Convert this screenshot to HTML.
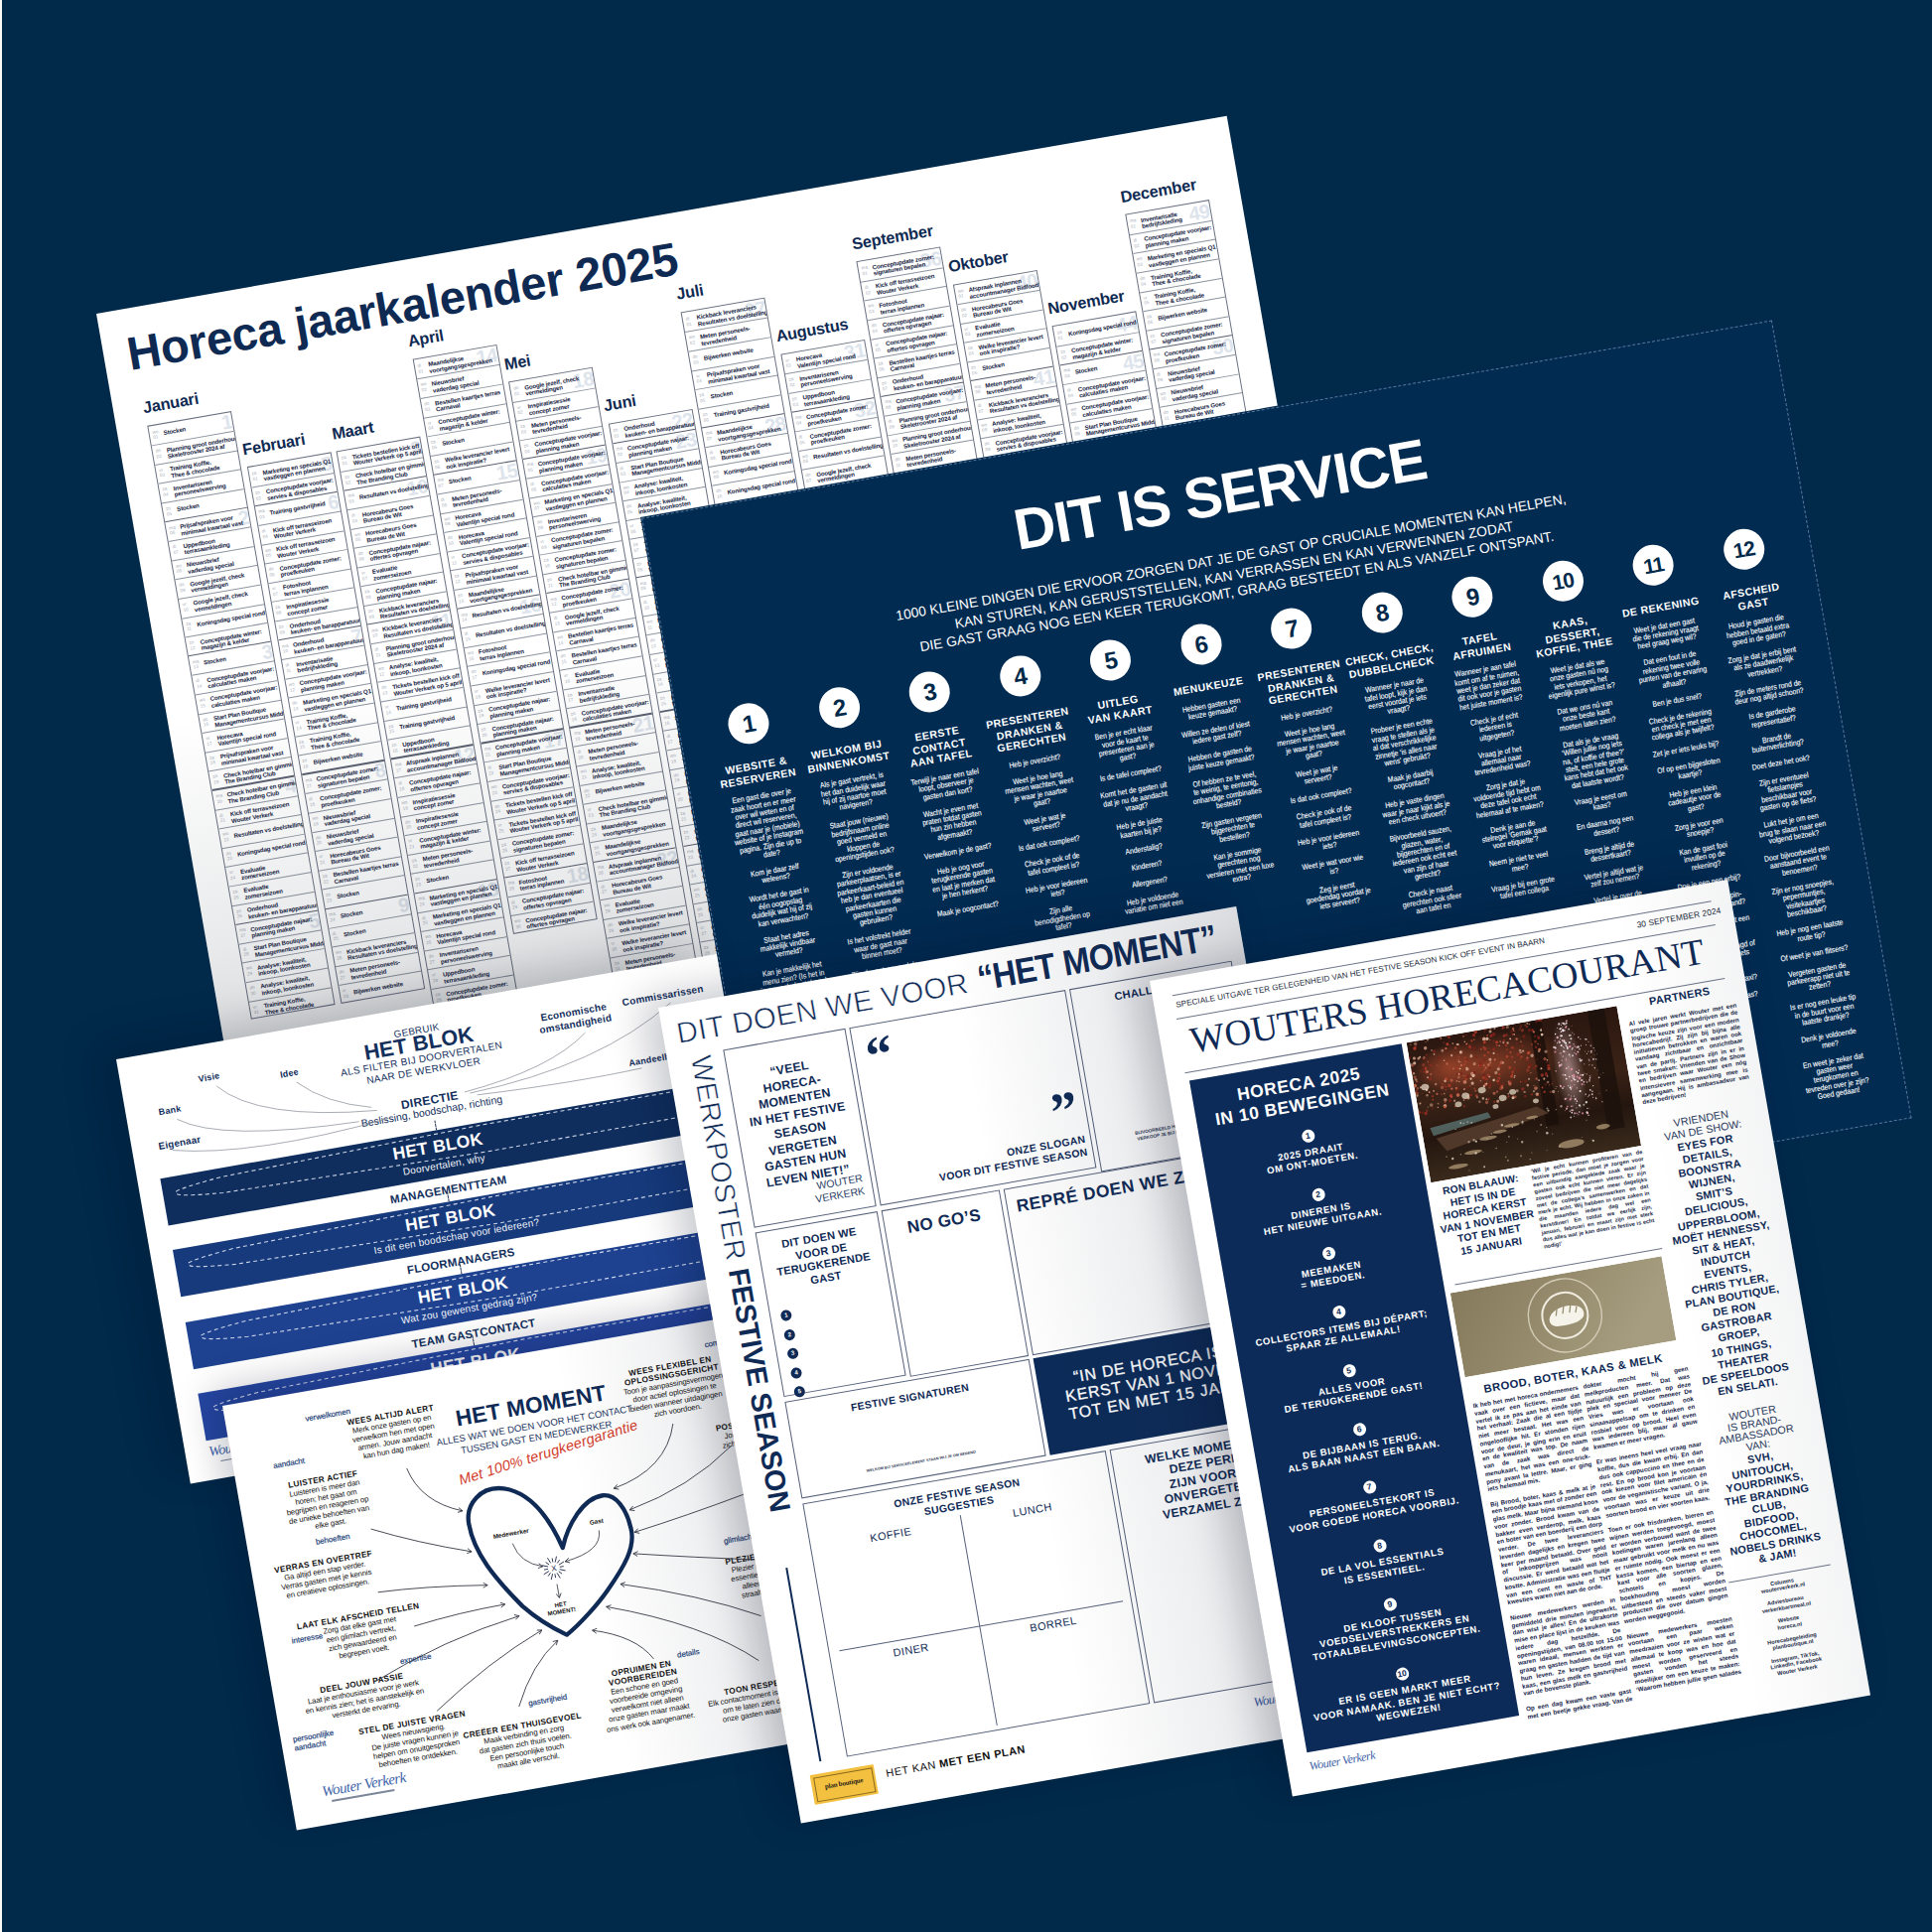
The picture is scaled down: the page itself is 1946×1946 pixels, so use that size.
<!DOCTYPE html>
<html><head><meta charset="utf-8"><style>
html,body{margin:0;padding:0}
body{width:1946px;height:1946px;background:#00294a;position:relative;overflow:hidden;font-family:"Liberation Sans",sans-serif}
.p{position:absolute;transform-origin:0 0;transform:rotate(-9.93deg);overflow:hidden}
</style></head><body>
<div style="position:absolute;left:0;top:0;width:2px;height:1946px;background:#fbfaf6"></div>
<div class="p" id="cal" style="left:96.7px;top:315.9px;width:1156px;height:760px;background:#fff;"><div style="position:absolute;left:24px;top:18px;font-size:47px;font-weight:700;color:#0f2a52;white-space:nowrap;letter-spacing:-0.2px;">Horeca jaarkalender 2025</div><div style="position:absolute;left:30.0px;top:92.0px;font-size:16.3px;font-weight:700;color:#0f2a52;white-space:nowrap;letter-spacing:-0.2px;">Januari</div><div style="position:absolute;left:31.0px;top:119.5px;width:86px;height:607.6px;border:0.8px solid #6a7080;box-sizing:border-box;overflow:hidden"><div style="position:absolute;left:58px;top:-0.5px;font-size:20px;font-weight:700;color:#dde4ec;width:26px;text-align:right;line-height:1;letter-spacing:-0.5px;">1</div><div style="position:absolute;left:3px;top:4.0px;font-size:4.6px;color:#a9b0bb;line-height:1.25;white-space:nowrap;">wo<br>01</div><div style="position:absolute;left:14px;top:6.5px;font-size:6.1px;font-weight:700;color:#14223f;line-height:1.08;white-space:nowrap;letter-spacing:-0.15px;">Stocken</div><div style="position:absolute;left:0px;top:19.6px;width:86px;height:0.8px;background:#8d94a0"></div><div style="position:absolute;left:3px;top:23.6px;font-size:4.6px;color:#a9b0bb;line-height:1.25;white-space:nowrap;">do<br>02</div><div style="position:absolute;left:14px;top:24.1px;font-size:6.1px;font-weight:700;color:#14223f;line-height:1.08;white-space:nowrap;letter-spacing:-0.15px;">Planning groot onderhoud<br>Skeletrooster 2024 af</div><div style="position:absolute;left:0px;top:39.2px;width:86px;height:0.8px;background:#8d94a0"></div><div style="position:absolute;left:3px;top:43.2px;font-size:4.6px;color:#a9b0bb;line-height:1.25;white-space:nowrap;">vr<br>03</div><div style="position:absolute;left:14px;top:43.7px;font-size:6.1px;font-weight:700;color:#14223f;line-height:1.08;white-space:nowrap;letter-spacing:-0.15px;">Training Koffie,<br>Thee &amp; chocolade</div><div style="position:absolute;left:0px;top:58.800000000000004px;width:86px;height:0.8px;background:#8d94a0"></div><div style="position:absolute;left:3px;top:62.800000000000004px;font-size:4.6px;color:#a9b0bb;line-height:1.25;white-space:nowrap;">za<br>04</div><div style="position:absolute;left:14px;top:63.300000000000004px;font-size:6.1px;font-weight:700;color:#14223f;line-height:1.08;white-space:nowrap;letter-spacing:-0.15px;">Inventariseren<br>personeelswerving</div><div style="position:absolute;left:0px;top:78.4px;width:86px;height:0.8px;background:#8d94a0"></div><div style="position:absolute;left:3px;top:82.4px;font-size:4.6px;color:#a9b0bb;line-height:1.25;white-space:nowrap;">zo<br>05</div><div style="position:absolute;left:14px;top:84.9px;font-size:6.1px;font-weight:700;color:#14223f;line-height:1.08;white-space:nowrap;letter-spacing:-0.15px;">Stocken</div><div style="position:absolute;left:0px;top:97.5px;width:86px;height:1.3px;background:#5a6070"></div><div style="position:absolute;left:58px;top:97.5px;font-size:20px;font-weight:700;color:#dde4ec;width:26px;text-align:right;line-height:1;letter-spacing:-0.5px;">2</div><div style="position:absolute;left:3px;top:102.0px;font-size:4.6px;color:#a9b0bb;line-height:1.25;white-space:nowrap;">ma<br>06</div><div style="position:absolute;left:14px;top:102.5px;font-size:6.1px;font-weight:700;color:#14223f;line-height:1.08;white-space:nowrap;letter-spacing:-0.15px;">Prijsafspraken voor<br>minimaal kwartaal vast</div><div style="position:absolute;left:0px;top:117.60000000000001px;width:86px;height:0.8px;background:#8d94a0"></div><div style="position:absolute;left:3px;top:121.60000000000001px;font-size:4.6px;color:#a9b0bb;line-height:1.25;white-space:nowrap;">di<br>07</div><div style="position:absolute;left:14px;top:122.10000000000001px;font-size:6.1px;font-weight:700;color:#14223f;line-height:1.08;white-space:nowrap;letter-spacing:-0.15px;">Uppedboon<br>terrasaankleding</div><div style="position:absolute;left:0px;top:137.20000000000002px;width:86px;height:0.8px;background:#8d94a0"></div><div style="position:absolute;left:3px;top:141.20000000000002px;font-size:4.6px;color:#a9b0bb;line-height:1.25;white-space:nowrap;">wo<br>08</div><div style="position:absolute;left:14px;top:141.70000000000002px;font-size:6.1px;font-weight:700;color:#14223f;line-height:1.08;white-space:nowrap;letter-spacing:-0.15px;">Nieuwsbrief<br>vaderdag special</div><div style="position:absolute;left:0px;top:156.8px;width:86px;height:0.8px;background:#8d94a0"></div><div style="position:absolute;left:3px;top:160.8px;font-size:4.6px;color:#a9b0bb;line-height:1.25;white-space:nowrap;">do<br>09</div><div style="position:absolute;left:14px;top:161.3px;font-size:6.1px;font-weight:700;color:#14223f;line-height:1.08;white-space:nowrap;letter-spacing:-0.15px;">Google jezelf, check<br>vermeldingen</div><div style="position:absolute;left:0px;top:176.4px;width:86px;height:0.8px;background:#8d94a0"></div><div style="position:absolute;left:3px;top:180.4px;font-size:4.6px;color:#a9b0bb;line-height:1.25;white-space:nowrap;">vr<br>10</div><div style="position:absolute;left:14px;top:180.9px;font-size:6.1px;font-weight:700;color:#14223f;line-height:1.08;white-space:nowrap;letter-spacing:-0.15px;">Google jezelf, check<br>vermeldingen</div><div style="position:absolute;left:0px;top:196.0px;width:86px;height:0.8px;background:#8d94a0"></div><div style="position:absolute;left:3px;top:200.0px;font-size:4.6px;color:#a9b0bb;line-height:1.25;white-space:nowrap;">za<br>11</div><div style="position:absolute;left:14px;top:202.5px;font-size:6.1px;font-weight:700;color:#14223f;line-height:1.08;white-space:nowrap;letter-spacing:-0.15px;">Koningsdag special rond</div><div style="position:absolute;left:0px;top:215.60000000000002px;width:86px;height:0.8px;background:#8d94a0"></div><div style="position:absolute;left:3px;top:219.60000000000002px;font-size:4.6px;color:#a9b0bb;line-height:1.25;white-space:nowrap;">zo<br>12</div><div style="position:absolute;left:14px;top:220.10000000000002px;font-size:6.1px;font-weight:700;color:#14223f;line-height:1.08;white-space:nowrap;letter-spacing:-0.15px;">Conceptupdate winter:<br>magazijn &amp; kelder</div><div style="position:absolute;left:0px;top:234.70000000000002px;width:86px;height:1.3px;background:#5a6070"></div><div style="position:absolute;left:58px;top:234.70000000000002px;font-size:20px;font-weight:700;color:#dde4ec;width:26px;text-align:right;line-height:1;letter-spacing:-0.5px;">3</div><div style="position:absolute;left:3px;top:239.20000000000002px;font-size:4.6px;color:#a9b0bb;line-height:1.25;white-space:nowrap;">ma<br>13</div><div style="position:absolute;left:14px;top:241.70000000000002px;font-size:6.1px;font-weight:700;color:#14223f;line-height:1.08;white-space:nowrap;letter-spacing:-0.15px;">Stocken</div><div style="position:absolute;left:0px;top:254.8px;width:86px;height:0.8px;background:#8d94a0"></div><div style="position:absolute;left:3px;top:258.8px;font-size:4.6px;color:#a9b0bb;line-height:1.25;white-space:nowrap;">di<br>14</div><div style="position:absolute;left:14px;top:259.3px;font-size:6.1px;font-weight:700;color:#14223f;line-height:1.08;white-space:nowrap;letter-spacing:-0.15px;">Conceptupdate voorjaar:<br>calculaties maken</div><div style="position:absolute;left:0px;top:274.40000000000003px;width:86px;height:0.8px;background:#8d94a0"></div><div style="position:absolute;left:3px;top:278.40000000000003px;font-size:4.6px;color:#a9b0bb;line-height:1.25;white-space:nowrap;">wo<br>15</div><div style="position:absolute;left:14px;top:278.90000000000003px;font-size:6.1px;font-weight:700;color:#14223f;line-height:1.08;white-space:nowrap;letter-spacing:-0.15px;">Conceptupdate voorjaar:<br>calculaties maken</div><div style="position:absolute;left:0px;top:294.0px;width:86px;height:0.8px;background:#8d94a0"></div><div style="position:absolute;left:3px;top:298.0px;font-size:4.6px;color:#a9b0bb;line-height:1.25;white-space:nowrap;">do<br>16</div><div style="position:absolute;left:14px;top:298.5px;font-size:6.1px;font-weight:700;color:#14223f;line-height:1.08;white-space:nowrap;letter-spacing:-0.15px;">Start Plan Boutique<br>Managementcursus Midden</div><div style="position:absolute;left:0px;top:313.6px;width:86px;height:0.8px;background:#8d94a0"></div><div style="position:absolute;left:3px;top:317.6px;font-size:4.6px;color:#a9b0bb;line-height:1.25;white-space:nowrap;">vr<br>17</div><div style="position:absolute;left:14px;top:318.1px;font-size:6.1px;font-weight:700;color:#14223f;line-height:1.08;white-space:nowrap;letter-spacing:-0.15px;">Horecava<br>Valentijn special rond</div><div style="position:absolute;left:0px;top:333.20000000000005px;width:86px;height:0.8px;background:#8d94a0"></div><div style="position:absolute;left:3px;top:337.20000000000005px;font-size:4.6px;color:#a9b0bb;line-height:1.25;white-space:nowrap;">za<br>18</div><div style="position:absolute;left:14px;top:337.70000000000005px;font-size:6.1px;font-weight:700;color:#14223f;line-height:1.08;white-space:nowrap;letter-spacing:-0.15px;">Prijsafspraken voor<br>minimaal kwartaal vast</div><div style="position:absolute;left:0px;top:352.8px;width:86px;height:0.8px;background:#8d94a0"></div><div style="position:absolute;left:3px;top:356.8px;font-size:4.6px;color:#a9b0bb;line-height:1.25;white-space:nowrap;">zo<br>19</div><div style="position:absolute;left:14px;top:357.3px;font-size:6.1px;font-weight:700;color:#14223f;line-height:1.08;white-space:nowrap;letter-spacing:-0.15px;">Check hotelbar en gimmicks<br>The Branding Club</div><div style="position:absolute;left:0px;top:371.90000000000003px;width:86px;height:1.3px;background:#5a6070"></div><div style="position:absolute;left:58px;top:371.90000000000003px;font-size:20px;font-weight:700;color:#dde4ec;width:26px;text-align:right;line-height:1;letter-spacing:-0.5px;">4</div><div style="position:absolute;left:3px;top:376.40000000000003px;font-size:4.6px;color:#a9b0bb;line-height:1.25;white-space:nowrap;">ma<br>20</div><div style="position:absolute;left:14px;top:376.90000000000003px;font-size:6.1px;font-weight:700;color:#14223f;line-height:1.08;white-space:nowrap;letter-spacing:-0.15px;">Check hotelbar en gimmicks<br>The Branding Club</div><div style="position:absolute;left:0px;top:392.0px;width:86px;height:0.8px;background:#8d94a0"></div><div style="position:absolute;left:3px;top:396.0px;font-size:4.6px;color:#a9b0bb;line-height:1.25;white-space:nowrap;">di<br>21</div><div style="position:absolute;left:14px;top:396.5px;font-size:6.1px;font-weight:700;color:#14223f;line-height:1.08;white-space:nowrap;letter-spacing:-0.15px;">Kick off terrasseizoen<br>Wouter Verkerk</div><div style="position:absolute;left:0px;top:411.6px;width:86px;height:0.8px;background:#8d94a0"></div><div style="position:absolute;left:3px;top:415.6px;font-size:4.6px;color:#a9b0bb;line-height:1.25;white-space:nowrap;">wo<br>22</div><div style="position:absolute;left:14px;top:418.1px;font-size:6.1px;font-weight:700;color:#14223f;line-height:1.08;white-space:nowrap;letter-spacing:-0.15px;">Resultaten vs doelstellingen</div><div style="position:absolute;left:0px;top:431.20000000000005px;width:86px;height:0.8px;background:#8d94a0"></div><div style="position:absolute;left:3px;top:435.20000000000005px;font-size:4.6px;color:#a9b0bb;line-height:1.25;white-space:nowrap;">do<br>23</div><div style="position:absolute;left:14px;top:437.70000000000005px;font-size:6.1px;font-weight:700;color:#14223f;line-height:1.08;white-space:nowrap;letter-spacing:-0.15px;">Koningsdag special rond</div><div style="position:absolute;left:0px;top:450.8px;width:86px;height:0.8px;background:#8d94a0"></div><div style="position:absolute;left:3px;top:454.8px;font-size:4.6px;color:#a9b0bb;line-height:1.25;white-space:nowrap;">vr<br>24</div><div style="position:absolute;left:14px;top:455.3px;font-size:6.1px;font-weight:700;color:#14223f;line-height:1.08;white-space:nowrap;letter-spacing:-0.15px;">Evaluatie<br>zomerseizoen</div><div style="position:absolute;left:0px;top:470.40000000000003px;width:86px;height:0.8px;background:#8d94a0"></div><div style="position:absolute;left:3px;top:474.40000000000003px;font-size:4.6px;color:#a9b0bb;line-height:1.25;white-space:nowrap;">za<br>25</div><div style="position:absolute;left:14px;top:474.90000000000003px;font-size:6.1px;font-weight:700;color:#14223f;line-height:1.08;white-space:nowrap;letter-spacing:-0.15px;">Evaluatie<br>zomerseizoen</div><div style="position:absolute;left:0px;top:490.00000000000006px;width:86px;height:0.8px;background:#8d94a0"></div><div style="position:absolute;left:3px;top:494.00000000000006px;font-size:4.6px;color:#a9b0bb;line-height:1.25;white-space:nowrap;">zo<br>26</div><div style="position:absolute;left:14px;top:494.50000000000006px;font-size:6.1px;font-weight:700;color:#14223f;line-height:1.08;white-space:nowrap;letter-spacing:-0.15px;">Onderhoud<br>keuken- en barapparatuur</div><div style="position:absolute;left:0px;top:509.1px;width:86px;height:1.3px;background:#5a6070"></div><div style="position:absolute;left:58px;top:509.1px;font-size:20px;font-weight:700;color:#dde4ec;width:26px;text-align:right;line-height:1;letter-spacing:-0.5px;">5</div><div style="position:absolute;left:3px;top:513.6px;font-size:4.6px;color:#a9b0bb;line-height:1.25;white-space:nowrap;">ma<br>27</div><div style="position:absolute;left:14px;top:514.1px;font-size:6.1px;font-weight:700;color:#14223f;line-height:1.08;white-space:nowrap;letter-spacing:-0.15px;">Conceptupdate najaar:<br>planning maken</div><div style="position:absolute;left:0px;top:529.2px;width:86px;height:0.8px;background:#8d94a0"></div><div style="position:absolute;left:3px;top:533.2px;font-size:4.6px;color:#a9b0bb;line-height:1.25;white-space:nowrap;">di<br>28</div><div style="position:absolute;left:14px;top:533.7px;font-size:6.1px;font-weight:700;color:#14223f;line-height:1.08;white-space:nowrap;letter-spacing:-0.15px;">Start Plan Boutique<br>Managementcursus Midden</div><div style="position:absolute;left:0px;top:548.8000000000001px;width:86px;height:0.8px;background:#8d94a0"></div><div style="position:absolute;left:3px;top:552.8000000000001px;font-size:4.6px;color:#a9b0bb;line-height:1.25;white-space:nowrap;">wo<br>29</div><div style="position:absolute;left:14px;top:553.3000000000001px;font-size:6.1px;font-weight:700;color:#14223f;line-height:1.08;white-space:nowrap;letter-spacing:-0.15px;">Analyse: kwaliteit,<br>inkoop, loonkosten</div><div style="position:absolute;left:0px;top:568.4000000000001px;width:86px;height:0.8px;background:#8d94a0"></div><div style="position:absolute;left:3px;top:572.4000000000001px;font-size:4.6px;color:#a9b0bb;line-height:1.25;white-space:nowrap;">do<br>30</div><div style="position:absolute;left:14px;top:572.9000000000001px;font-size:6.1px;font-weight:700;color:#14223f;line-height:1.08;white-space:nowrap;letter-spacing:-0.15px;">Analyse: kwaliteit,<br>inkoop, loonkosten</div><div style="position:absolute;left:0px;top:588.0px;width:86px;height:0.8px;background:#8d94a0"></div><div style="position:absolute;left:3px;top:592.0px;font-size:4.6px;color:#a9b0bb;line-height:1.25;white-space:nowrap;">vr<br>31</div><div style="position:absolute;left:14px;top:592.5px;font-size:6.1px;font-weight:700;color:#14223f;line-height:1.08;white-space:nowrap;letter-spacing:-0.15px;">Training Koffie,<br>Thee &amp; chocolade</div></div><div style="position:absolute;left:121.5px;top:150.8px;font-size:16.3px;font-weight:700;color:#0f2a52;white-space:nowrap;letter-spacing:-0.2px;">Februari</div><div style="position:absolute;left:122.5px;top:178.3px;width:86px;height:548.8000000000001px;border:0.8px solid #6a7080;box-sizing:border-box;overflow:hidden"><div style="position:absolute;left:58px;top:-0.5px;font-size:20px;font-weight:700;color:#dde4ec;width:26px;text-align:right;line-height:1;letter-spacing:-0.5px;">5</div><div style="position:absolute;left:3px;top:4.0px;font-size:4.6px;color:#a9b0bb;line-height:1.25;white-space:nowrap;">za<br>01</div><div style="position:absolute;left:14px;top:4.5px;font-size:6.1px;font-weight:700;color:#14223f;line-height:1.08;white-space:nowrap;letter-spacing:-0.15px;">Marketing en specials Q1<br>vastleggen en plannen</div><div style="position:absolute;left:0px;top:19.6px;width:86px;height:0.8px;background:#8d94a0"></div><div style="position:absolute;left:3px;top:23.6px;font-size:4.6px;color:#a9b0bb;line-height:1.25;white-space:nowrap;">zo<br>02</div><div style="position:absolute;left:14px;top:24.1px;font-size:6.1px;font-weight:700;color:#14223f;line-height:1.08;white-space:nowrap;letter-spacing:-0.15px;">Conceptupdate voorjaar:<br>servies &amp; disposables</div><div style="position:absolute;left:0px;top:38.7px;width:86px;height:1.3px;background:#5a6070"></div><div style="position:absolute;left:58px;top:38.7px;font-size:20px;font-weight:700;color:#dde4ec;width:26px;text-align:right;line-height:1;letter-spacing:-0.5px;">6</div><div style="position:absolute;left:3px;top:43.2px;font-size:4.6px;color:#a9b0bb;line-height:1.25;white-space:nowrap;">ma<br>03</div><div style="position:absolute;left:14px;top:45.7px;font-size:6.1px;font-weight:700;color:#14223f;line-height:1.08;white-space:nowrap;letter-spacing:-0.15px;">Training gastvrijheid</div><div style="position:absolute;left:0px;top:58.800000000000004px;width:86px;height:0.8px;background:#8d94a0"></div><div style="position:absolute;left:3px;top:62.800000000000004px;font-size:4.6px;color:#a9b0bb;line-height:1.25;white-space:nowrap;">di<br>04</div><div style="position:absolute;left:14px;top:63.300000000000004px;font-size:6.1px;font-weight:700;color:#14223f;line-height:1.08;white-space:nowrap;letter-spacing:-0.15px;">Kick off terrasseizoen<br>Wouter Verkerk</div><div style="position:absolute;left:0px;top:78.4px;width:86px;height:0.8px;background:#8d94a0"></div><div style="position:absolute;left:3px;top:82.4px;font-size:4.6px;color:#a9b0bb;line-height:1.25;white-space:nowrap;">wo<br>05</div><div style="position:absolute;left:14px;top:82.9px;font-size:6.1px;font-weight:700;color:#14223f;line-height:1.08;white-space:nowrap;letter-spacing:-0.15px;">Kick off terrasseizoen<br>Wouter Verkerk</div><div style="position:absolute;left:0px;top:98.0px;width:86px;height:0.8px;background:#8d94a0"></div><div style="position:absolute;left:3px;top:102.0px;font-size:4.6px;color:#a9b0bb;line-height:1.25;white-space:nowrap;">do<br>06</div><div style="position:absolute;left:14px;top:102.5px;font-size:6.1px;font-weight:700;color:#14223f;line-height:1.08;white-space:nowrap;letter-spacing:-0.15px;">Conceptupdate zomer:<br>proefkeuken</div><div style="position:absolute;left:0px;top:117.60000000000001px;width:86px;height:0.8px;background:#8d94a0"></div><div style="position:absolute;left:3px;top:121.60000000000001px;font-size:4.6px;color:#a9b0bb;line-height:1.25;white-space:nowrap;">vr<br>07</div><div style="position:absolute;left:14px;top:122.10000000000001px;font-size:6.1px;font-weight:700;color:#14223f;line-height:1.08;white-space:nowrap;letter-spacing:-0.15px;">Fotoshoot<br>terras inplannen</div><div style="position:absolute;left:0px;top:137.20000000000002px;width:86px;height:0.8px;background:#8d94a0"></div><div style="position:absolute;left:3px;top:141.20000000000002px;font-size:4.6px;color:#a9b0bb;line-height:1.25;white-space:nowrap;">za<br>08</div><div style="position:absolute;left:14px;top:141.70000000000002px;font-size:6.1px;font-weight:700;color:#14223f;line-height:1.08;white-space:nowrap;letter-spacing:-0.15px;">Inspiratiesessie<br>concept zomer</div><div style="position:absolute;left:0px;top:156.8px;width:86px;height:0.8px;background:#8d94a0"></div><div style="position:absolute;left:3px;top:160.8px;font-size:4.6px;color:#a9b0bb;line-height:1.25;white-space:nowrap;">zo<br>09</div><div style="position:absolute;left:14px;top:161.3px;font-size:6.1px;font-weight:700;color:#14223f;line-height:1.08;white-space:nowrap;letter-spacing:-0.15px;">Onderhoud<br>keuken- en barapparatuur</div><div style="position:absolute;left:0px;top:175.9px;width:86px;height:1.3px;background:#5a6070"></div><div style="position:absolute;left:58px;top:175.9px;font-size:20px;font-weight:700;color:#dde4ec;width:26px;text-align:right;line-height:1;letter-spacing:-0.5px;">7</div><div style="position:absolute;left:3px;top:180.4px;font-size:4.6px;color:#a9b0bb;line-height:1.25;white-space:nowrap;">ma<br>10</div><div style="position:absolute;left:14px;top:180.9px;font-size:6.1px;font-weight:700;color:#14223f;line-height:1.08;white-space:nowrap;letter-spacing:-0.15px;">Onderhoud<br>keuken- en barapparatuur</div><div style="position:absolute;left:0px;top:196.0px;width:86px;height:0.8px;background:#8d94a0"></div><div style="position:absolute;left:3px;top:200.0px;font-size:4.6px;color:#a9b0bb;line-height:1.25;white-space:nowrap;">di<br>11</div><div style="position:absolute;left:14px;top:200.5px;font-size:6.1px;font-weight:700;color:#14223f;line-height:1.08;white-space:nowrap;letter-spacing:-0.15px;">Inventarisatie<br>bedrijfskleding</div><div style="position:absolute;left:0px;top:215.60000000000002px;width:86px;height:0.8px;background:#8d94a0"></div><div style="position:absolute;left:3px;top:219.60000000000002px;font-size:4.6px;color:#a9b0bb;line-height:1.25;white-space:nowrap;">wo<br>12</div><div style="position:absolute;left:14px;top:220.10000000000002px;font-size:6.1px;font-weight:700;color:#14223f;line-height:1.08;white-space:nowrap;letter-spacing:-0.15px;">Conceptupdate voorjaar:<br>planning maken</div><div style="position:absolute;left:0px;top:235.20000000000002px;width:86px;height:0.8px;background:#8d94a0"></div><div style="position:absolute;left:3px;top:239.20000000000002px;font-size:4.6px;color:#a9b0bb;line-height:1.25;white-space:nowrap;">do<br>13</div><div style="position:absolute;left:14px;top:239.70000000000002px;font-size:6.1px;font-weight:700;color:#14223f;line-height:1.08;white-space:nowrap;letter-spacing:-0.15px;">Marketing en specials Q1<br>vastleggen en plannen</div><div style="position:absolute;left:0px;top:254.8px;width:86px;height:0.8px;background:#8d94a0"></div><div style="position:absolute;left:3px;top:258.8px;font-size:4.6px;color:#a9b0bb;line-height:1.25;white-space:nowrap;">vr<br>14</div><div style="position:absolute;left:14px;top:259.3px;font-size:6.1px;font-weight:700;color:#14223f;line-height:1.08;white-space:nowrap;letter-spacing:-0.15px;">Training Koffie,<br>Thee &amp; chocolade</div><div style="position:absolute;left:0px;top:274.40000000000003px;width:86px;height:0.8px;background:#8d94a0"></div><div style="position:absolute;left:3px;top:278.40000000000003px;font-size:4.6px;color:#a9b0bb;line-height:1.25;white-space:nowrap;">za<br>15</div><div style="position:absolute;left:14px;top:278.90000000000003px;font-size:6.1px;font-weight:700;color:#14223f;line-height:1.08;white-space:nowrap;letter-spacing:-0.15px;">Training Koffie,<br>Thee &amp; chocolade</div><div style="position:absolute;left:0px;top:294.0px;width:86px;height:0.8px;background:#8d94a0"></div><div style="position:absolute;left:3px;top:298.0px;font-size:4.6px;color:#a9b0bb;line-height:1.25;white-space:nowrap;">zo<br>16</div><div style="position:absolute;left:14px;top:300.5px;font-size:6.1px;font-weight:700;color:#14223f;line-height:1.08;white-space:nowrap;letter-spacing:-0.15px;">Bijwerken website</div><div style="position:absolute;left:0px;top:313.1px;width:86px;height:1.3px;background:#5a6070"></div><div style="position:absolute;left:58px;top:313.1px;font-size:20px;font-weight:700;color:#dde4ec;width:26px;text-align:right;line-height:1;letter-spacing:-0.5px;">8</div><div style="position:absolute;left:3px;top:317.6px;font-size:4.6px;color:#a9b0bb;line-height:1.25;white-space:nowrap;">ma<br>17</div><div style="position:absolute;left:14px;top:318.1px;font-size:6.1px;font-weight:700;color:#14223f;line-height:1.08;white-space:nowrap;letter-spacing:-0.15px;">Conceptupdate zomer:<br>signaturen bepalen</div><div style="position:absolute;left:0px;top:333.20000000000005px;width:86px;height:0.8px;background:#8d94a0"></div><div style="position:absolute;left:3px;top:337.20000000000005px;font-size:4.6px;color:#a9b0bb;line-height:1.25;white-space:nowrap;">di<br>18</div><div style="position:absolute;left:14px;top:337.70000000000005px;font-size:6.1px;font-weight:700;color:#14223f;line-height:1.08;white-space:nowrap;letter-spacing:-0.15px;">Conceptupdate zomer:<br>proefkeuken</div><div style="position:absolute;left:0px;top:352.8px;width:86px;height:0.8px;background:#8d94a0"></div><div style="position:absolute;left:3px;top:356.8px;font-size:4.6px;color:#a9b0bb;line-height:1.25;white-space:nowrap;">wo<br>19</div><div style="position:absolute;left:14px;top:357.3px;font-size:6.1px;font-weight:700;color:#14223f;line-height:1.08;white-space:nowrap;letter-spacing:-0.15px;">Nieuwsbrief<br>vaderdag special</div><div style="position:absolute;left:0px;top:372.40000000000003px;width:86px;height:0.8px;background:#8d94a0"></div><div style="position:absolute;left:3px;top:376.40000000000003px;font-size:4.6px;color:#a9b0bb;line-height:1.25;white-space:nowrap;">do<br>20</div><div style="position:absolute;left:14px;top:376.90000000000003px;font-size:6.1px;font-weight:700;color:#14223f;line-height:1.08;white-space:nowrap;letter-spacing:-0.15px;">Nieuwsbrief<br>vaderdag special</div><div style="position:absolute;left:0px;top:392.0px;width:86px;height:0.8px;background:#8d94a0"></div><div style="position:absolute;left:3px;top:396.0px;font-size:4.6px;color:#a9b0bb;line-height:1.25;white-space:nowrap;">vr<br>21</div><div style="position:absolute;left:14px;top:396.5px;font-size:6.1px;font-weight:700;color:#14223f;line-height:1.08;white-space:nowrap;letter-spacing:-0.15px;">Horecabeurs Goes<br>Bureau de Wit</div><div style="position:absolute;left:0px;top:411.6px;width:86px;height:0.8px;background:#8d94a0"></div><div style="position:absolute;left:3px;top:415.6px;font-size:4.6px;color:#a9b0bb;line-height:1.25;white-space:nowrap;">za<br>22</div><div style="position:absolute;left:14px;top:416.1px;font-size:6.1px;font-weight:700;color:#14223f;line-height:1.08;white-space:nowrap;letter-spacing:-0.15px;">Bestellen kaartjes terras<br>Carnaval</div><div style="position:absolute;left:0px;top:431.20000000000005px;width:86px;height:0.8px;background:#8d94a0"></div><div style="position:absolute;left:3px;top:435.20000000000005px;font-size:4.6px;color:#a9b0bb;line-height:1.25;white-space:nowrap;">zo<br>23</div><div style="position:absolute;left:14px;top:437.70000000000005px;font-size:6.1px;font-weight:700;color:#14223f;line-height:1.08;white-space:nowrap;letter-spacing:-0.15px;">Stocken</div><div style="position:absolute;left:0px;top:450.3px;width:86px;height:1.3px;background:#5a6070"></div><div style="position:absolute;left:58px;top:450.3px;font-size:20px;font-weight:700;color:#dde4ec;width:26px;text-align:right;line-height:1;letter-spacing:-0.5px;">9</div><div style="position:absolute;left:3px;top:454.8px;font-size:4.6px;color:#a9b0bb;line-height:1.25;white-space:nowrap;">ma<br>24</div><div style="position:absolute;left:14px;top:457.3px;font-size:6.1px;font-weight:700;color:#14223f;line-height:1.08;white-space:nowrap;letter-spacing:-0.15px;">Stocken</div><div style="position:absolute;left:0px;top:470.40000000000003px;width:86px;height:0.8px;background:#8d94a0"></div><div style="position:absolute;left:3px;top:474.40000000000003px;font-size:4.6px;color:#a9b0bb;line-height:1.25;white-space:nowrap;">di<br>25</div><div style="position:absolute;left:14px;top:476.90000000000003px;font-size:6.1px;font-weight:700;color:#14223f;line-height:1.08;white-space:nowrap;letter-spacing:-0.15px;">Stocken</div><div style="position:absolute;left:0px;top:490.00000000000006px;width:86px;height:0.8px;background:#8d94a0"></div><div style="position:absolute;left:3px;top:494.00000000000006px;font-size:4.6px;color:#a9b0bb;line-height:1.25;white-space:nowrap;">wo<br>26</div><div style="position:absolute;left:14px;top:494.50000000000006px;font-size:6.1px;font-weight:700;color:#14223f;line-height:1.08;white-space:nowrap;letter-spacing:-0.15px;">Kickback leveranciers<br>Resultaten vs doelstellingen</div><div style="position:absolute;left:0px;top:509.6px;width:86px;height:0.8px;background:#8d94a0"></div><div style="position:absolute;left:3px;top:513.6px;font-size:4.6px;color:#a9b0bb;line-height:1.25;white-space:nowrap;">do<br>27</div><div style="position:absolute;left:14px;top:514.1px;font-size:6.1px;font-weight:700;color:#14223f;line-height:1.08;white-space:nowrap;letter-spacing:-0.15px;">Meten personeels-<br>tevredenheid</div><div style="position:absolute;left:0px;top:529.2px;width:86px;height:0.8px;background:#8d94a0"></div><div style="position:absolute;left:3px;top:533.2px;font-size:4.6px;color:#a9b0bb;line-height:1.25;white-space:nowrap;">vr<br>28</div><div style="position:absolute;left:14px;top:535.7px;font-size:6.1px;font-weight:700;color:#14223f;line-height:1.08;white-space:nowrap;letter-spacing:-0.15px;">Bijwerken website</div></div><div style="position:absolute;left:213.0px;top:150.8px;font-size:16.3px;font-weight:700;color:#0f2a52;white-space:nowrap;letter-spacing:-0.2px;">Maart</div><div style="position:absolute;left:214.0px;top:178.3px;width:86px;height:607.6px;border:0.8px solid #6a7080;box-sizing:border-box;overflow:hidden"><div style="position:absolute;left:58px;top:-0.5px;font-size:20px;font-weight:700;color:#dde4ec;width:26px;text-align:right;line-height:1;letter-spacing:-0.5px;">9</div><div style="position:absolute;left:3px;top:4.0px;font-size:4.6px;color:#a9b0bb;line-height:1.25;white-space:nowrap;">za<br>01</div><div style="position:absolute;left:14px;top:4.5px;font-size:6.1px;font-weight:700;color:#14223f;line-height:1.08;white-space:nowrap;letter-spacing:-0.15px;">Tickets bestellen kick off<br>Wouter Verkerk op 5 april</div><div style="position:absolute;left:0px;top:19.6px;width:86px;height:0.8px;background:#8d94a0"></div><div style="position:absolute;left:3px;top:23.6px;font-size:4.6px;color:#a9b0bb;line-height:1.25;white-space:nowrap;">zo<br>02</div><div style="position:absolute;left:14px;top:24.1px;font-size:6.1px;font-weight:700;color:#14223f;line-height:1.08;white-space:nowrap;letter-spacing:-0.15px;">Check hotelbar en gimmicks<br>The Branding Club</div><div style="position:absolute;left:0px;top:38.7px;width:86px;height:1.3px;background:#5a6070"></div><div style="position:absolute;left:58px;top:38.7px;font-size:20px;font-weight:700;color:#dde4ec;width:26px;text-align:right;line-height:1;letter-spacing:-0.5px;">10</div><div style="position:absolute;left:3px;top:43.2px;font-size:4.6px;color:#a9b0bb;line-height:1.25;white-space:nowrap;">ma<br>03</div><div style="position:absolute;left:14px;top:45.7px;font-size:6.1px;font-weight:700;color:#14223f;line-height:1.08;white-space:nowrap;letter-spacing:-0.15px;">Resultaten vs doelstellingen</div><div style="position:absolute;left:0px;top:58.800000000000004px;width:86px;height:0.8px;background:#8d94a0"></div><div style="position:absolute;left:3px;top:62.800000000000004px;font-size:4.6px;color:#a9b0bb;line-height:1.25;white-space:nowrap;">di<br>04</div><div style="position:absolute;left:14px;top:63.300000000000004px;font-size:6.1px;font-weight:700;color:#14223f;line-height:1.08;white-space:nowrap;letter-spacing:-0.15px;">Horecabeurs Goes<br>Bureau de Wit</div><div style="position:absolute;left:0px;top:78.4px;width:86px;height:0.8px;background:#8d94a0"></div><div style="position:absolute;left:3px;top:82.4px;font-size:4.6px;color:#a9b0bb;line-height:1.25;white-space:nowrap;">wo<br>05</div><div style="position:absolute;left:14px;top:82.9px;font-size:6.1px;font-weight:700;color:#14223f;line-height:1.08;white-space:nowrap;letter-spacing:-0.15px;">Horecabeurs Goes<br>Bureau de Wit</div><div style="position:absolute;left:0px;top:98.0px;width:86px;height:0.8px;background:#8d94a0"></div><div style="position:absolute;left:3px;top:102.0px;font-size:4.6px;color:#a9b0bb;line-height:1.25;white-space:nowrap;">do<br>06</div><div style="position:absolute;left:14px;top:102.5px;font-size:6.1px;font-weight:700;color:#14223f;line-height:1.08;white-space:nowrap;letter-spacing:-0.15px;">Conceptupdate najaar:<br>offertes opvragen</div><div style="position:absolute;left:0px;top:117.60000000000001px;width:86px;height:0.8px;background:#8d94a0"></div><div style="position:absolute;left:3px;top:121.60000000000001px;font-size:4.6px;color:#a9b0bb;line-height:1.25;white-space:nowrap;">vr<br>07</div><div style="position:absolute;left:14px;top:122.10000000000001px;font-size:6.1px;font-weight:700;color:#14223f;line-height:1.08;white-space:nowrap;letter-spacing:-0.15px;">Evaluatie<br>zomerseizoen</div><div style="position:absolute;left:0px;top:137.20000000000002px;width:86px;height:0.8px;background:#8d94a0"></div><div style="position:absolute;left:3px;top:141.20000000000002px;font-size:4.6px;color:#a9b0bb;line-height:1.25;white-space:nowrap;">za<br>08</div><div style="position:absolute;left:14px;top:141.70000000000002px;font-size:6.1px;font-weight:700;color:#14223f;line-height:1.08;white-space:nowrap;letter-spacing:-0.15px;">Conceptupdate najaar:<br>planning maken</div><div style="position:absolute;left:0px;top:156.8px;width:86px;height:0.8px;background:#8d94a0"></div><div style="position:absolute;left:3px;top:160.8px;font-size:4.6px;color:#a9b0bb;line-height:1.25;white-space:nowrap;">zo<br>09</div><div style="position:absolute;left:14px;top:161.3px;font-size:6.1px;font-weight:700;color:#14223f;line-height:1.08;white-space:nowrap;letter-spacing:-0.15px;">Kickback leveranciers<br>Resultaten vs doelstellingen</div><div style="position:absolute;left:0px;top:175.9px;width:86px;height:1.3px;background:#5a6070"></div><div style="position:absolute;left:58px;top:175.9px;font-size:20px;font-weight:700;color:#dde4ec;width:26px;text-align:right;line-height:1;letter-spacing:-0.5px;">11</div><div style="position:absolute;left:3px;top:180.4px;font-size:4.6px;color:#a9b0bb;line-height:1.25;white-space:nowrap;">ma<br>10</div><div style="position:absolute;left:14px;top:180.9px;font-size:6.1px;font-weight:700;color:#14223f;line-height:1.08;white-space:nowrap;letter-spacing:-0.15px;">Kickback leveranciers<br>Resultaten vs doelstellingen</div><div style="position:absolute;left:0px;top:196.0px;width:86px;height:0.8px;background:#8d94a0"></div><div style="position:absolute;left:3px;top:200.0px;font-size:4.6px;color:#a9b0bb;line-height:1.25;white-space:nowrap;">di<br>11</div><div style="position:absolute;left:14px;top:200.5px;font-size:6.1px;font-weight:700;color:#14223f;line-height:1.08;white-space:nowrap;letter-spacing:-0.15px;">Planning groot onderhoud<br>Skeletrooster 2024 af</div><div style="position:absolute;left:0px;top:215.60000000000002px;width:86px;height:0.8px;background:#8d94a0"></div><div style="position:absolute;left:3px;top:219.60000000000002px;font-size:4.6px;color:#a9b0bb;line-height:1.25;white-space:nowrap;">wo<br>12</div><div style="position:absolute;left:14px;top:220.10000000000002px;font-size:6.1px;font-weight:700;color:#14223f;line-height:1.08;white-space:nowrap;letter-spacing:-0.15px;">Analyse: kwaliteit,<br>inkoop, loonkosten</div><div style="position:absolute;left:0px;top:235.20000000000002px;width:86px;height:0.8px;background:#8d94a0"></div><div style="position:absolute;left:3px;top:239.20000000000002px;font-size:4.6px;color:#a9b0bb;line-height:1.25;white-space:nowrap;">do<br>13</div><div style="position:absolute;left:14px;top:239.70000000000002px;font-size:6.1px;font-weight:700;color:#14223f;line-height:1.08;white-space:nowrap;letter-spacing:-0.15px;">Tickets bestellen kick off<br>Wouter Verkerk op 5 april</div><div style="position:absolute;left:0px;top:254.8px;width:86px;height:0.8px;background:#8d94a0"></div><div style="position:absolute;left:3px;top:258.8px;font-size:4.6px;color:#a9b0bb;line-height:1.25;white-space:nowrap;">vr<br>14</div><div style="position:absolute;left:14px;top:261.3px;font-size:6.1px;font-weight:700;color:#14223f;line-height:1.08;white-space:nowrap;letter-spacing:-0.15px;">Training gastvrijheid</div><div style="position:absolute;left:0px;top:274.40000000000003px;width:86px;height:0.8px;background:#8d94a0"></div><div style="position:absolute;left:3px;top:278.40000000000003px;font-size:4.6px;color:#a9b0bb;line-height:1.25;white-space:nowrap;">za<br>15</div><div style="position:absolute;left:14px;top:280.90000000000003px;font-size:6.1px;font-weight:700;color:#14223f;line-height:1.08;white-space:nowrap;letter-spacing:-0.15px;">Training gastvrijheid</div><div style="position:absolute;left:0px;top:294.0px;width:86px;height:0.8px;background:#8d94a0"></div><div style="position:absolute;left:3px;top:298.0px;font-size:4.6px;color:#a9b0bb;line-height:1.25;white-space:nowrap;">zo<br>16</div><div style="position:absolute;left:14px;top:298.5px;font-size:6.1px;font-weight:700;color:#14223f;line-height:1.08;white-space:nowrap;letter-spacing:-0.15px;">Uppedboon<br>terrasaankleding</div><div style="position:absolute;left:0px;top:313.1px;width:86px;height:1.3px;background:#5a6070"></div><div style="position:absolute;left:58px;top:313.1px;font-size:20px;font-weight:700;color:#dde4ec;width:26px;text-align:right;line-height:1;letter-spacing:-0.5px;">12</div><div style="position:absolute;left:3px;top:317.6px;font-size:4.6px;color:#a9b0bb;line-height:1.25;white-space:nowrap;">ma<br>17</div><div style="position:absolute;left:14px;top:318.1px;font-size:6.1px;font-weight:700;color:#14223f;line-height:1.08;white-space:nowrap;letter-spacing:-0.15px;">Afspraak inplannen<br>accountmanager Bidfood</div><div style="position:absolute;left:0px;top:333.20000000000005px;width:86px;height:0.8px;background:#8d94a0"></div><div style="position:absolute;left:3px;top:337.20000000000005px;font-size:4.6px;color:#a9b0bb;line-height:1.25;white-space:nowrap;">di<br>18</div><div style="position:absolute;left:14px;top:337.70000000000005px;font-size:6.1px;font-weight:700;color:#14223f;line-height:1.08;white-space:nowrap;letter-spacing:-0.15px;">Conceptupdate najaar:<br>offertes opvragen</div><div style="position:absolute;left:0px;top:352.8px;width:86px;height:0.8px;background:#8d94a0"></div><div style="position:absolute;left:3px;top:356.8px;font-size:4.6px;color:#a9b0bb;line-height:1.25;white-space:nowrap;">wo<br>19</div><div style="position:absolute;left:14px;top:357.3px;font-size:6.1px;font-weight:700;color:#14223f;line-height:1.08;white-space:nowrap;letter-spacing:-0.15px;">Inspiratiesessie<br>concept zomer</div><div style="position:absolute;left:0px;top:372.40000000000003px;width:86px;height:0.8px;background:#8d94a0"></div><div style="position:absolute;left:3px;top:376.40000000000003px;font-size:4.6px;color:#a9b0bb;line-height:1.25;white-space:nowrap;">do<br>20</div><div style="position:absolute;left:14px;top:376.90000000000003px;font-size:6.1px;font-weight:700;color:#14223f;line-height:1.08;white-space:nowrap;letter-spacing:-0.15px;">Inspiratiesessie<br>concept zomer</div><div style="position:absolute;left:0px;top:392.0px;width:86px;height:0.8px;background:#8d94a0"></div><div style="position:absolute;left:3px;top:396.0px;font-size:4.6px;color:#a9b0bb;line-height:1.25;white-space:nowrap;">vr<br>21</div><div style="position:absolute;left:14px;top:396.5px;font-size:6.1px;font-weight:700;color:#14223f;line-height:1.08;white-space:nowrap;letter-spacing:-0.15px;">Conceptupdate winter:<br>magazijn &amp; kelder</div><div style="position:absolute;left:0px;top:411.6px;width:86px;height:0.8px;background:#8d94a0"></div><div style="position:absolute;left:3px;top:415.6px;font-size:4.6px;color:#a9b0bb;line-height:1.25;white-space:nowrap;">za<br>22</div><div style="position:absolute;left:14px;top:416.1px;font-size:6.1px;font-weight:700;color:#14223f;line-height:1.08;white-space:nowrap;letter-spacing:-0.15px;">Meten personeels-<br>tevredenheid</div><div style="position:absolute;left:0px;top:431.20000000000005px;width:86px;height:0.8px;background:#8d94a0"></div><div style="position:absolute;left:3px;top:435.20000000000005px;font-size:4.6px;color:#a9b0bb;line-height:1.25;white-space:nowrap;">zo<br>23</div><div style="position:absolute;left:14px;top:437.70000000000005px;font-size:6.1px;font-weight:700;color:#14223f;line-height:1.08;white-space:nowrap;letter-spacing:-0.15px;">Stocken</div><div style="position:absolute;left:0px;top:450.3px;width:86px;height:1.3px;background:#5a6070"></div><div style="position:absolute;left:58px;top:450.3px;font-size:20px;font-weight:700;color:#dde4ec;width:26px;text-align:right;line-height:1;letter-spacing:-0.5px;">13</div><div style="position:absolute;left:3px;top:454.8px;font-size:4.6px;color:#a9b0bb;line-height:1.25;white-space:nowrap;">ma<br>24</div><div style="position:absolute;left:14px;top:455.3px;font-size:6.1px;font-weight:700;color:#14223f;line-height:1.08;white-space:nowrap;letter-spacing:-0.15px;">Marketing en specials Q1<br>vastleggen en plannen</div><div style="position:absolute;left:0px;top:470.40000000000003px;width:86px;height:0.8px;background:#8d94a0"></div><div style="position:absolute;left:3px;top:474.40000000000003px;font-size:4.6px;color:#a9b0bb;line-height:1.25;white-space:nowrap;">di<br>25</div><div style="position:absolute;left:14px;top:474.90000000000003px;font-size:6.1px;font-weight:700;color:#14223f;line-height:1.08;white-space:nowrap;letter-spacing:-0.15px;">Marketing en specials Q1<br>vastleggen en plannen</div><div style="position:absolute;left:0px;top:490.00000000000006px;width:86px;height:0.8px;background:#8d94a0"></div><div style="position:absolute;left:3px;top:494.00000000000006px;font-size:4.6px;color:#a9b0bb;line-height:1.25;white-space:nowrap;">wo<br>26</div><div style="position:absolute;left:14px;top:494.50000000000006px;font-size:6.1px;font-weight:700;color:#14223f;line-height:1.08;white-space:nowrap;letter-spacing:-0.15px;">Horecava<br>Valentijn special rond</div><div style="position:absolute;left:0px;top:509.6px;width:86px;height:0.8px;background:#8d94a0"></div><div style="position:absolute;left:3px;top:513.6px;font-size:4.6px;color:#a9b0bb;line-height:1.25;white-space:nowrap;">do<br>27</div><div style="position:absolute;left:14px;top:514.1px;font-size:6.1px;font-weight:700;color:#14223f;line-height:1.08;white-space:nowrap;letter-spacing:-0.15px;">Inventariseren<br>personeelswerving</div><div style="position:absolute;left:0px;top:529.2px;width:86px;height:0.8px;background:#8d94a0"></div><div style="position:absolute;left:3px;top:533.2px;font-size:4.6px;color:#a9b0bb;line-height:1.25;white-space:nowrap;">vr<br>28</div><div style="position:absolute;left:14px;top:533.7px;font-size:6.1px;font-weight:700;color:#14223f;line-height:1.08;white-space:nowrap;letter-spacing:-0.15px;">Uppedboon<br>terrasaankleding</div><div style="position:absolute;left:0px;top:548.8000000000001px;width:86px;height:0.8px;background:#8d94a0"></div><div style="position:absolute;left:3px;top:552.8000000000001px;font-size:4.6px;color:#a9b0bb;line-height:1.25;white-space:nowrap;">za<br>29</div><div style="position:absolute;left:14px;top:553.3000000000001px;font-size:6.1px;font-weight:700;color:#14223f;line-height:1.08;white-space:nowrap;letter-spacing:-0.15px;">Conceptupdate zomer:<br>proefkeuken</div><div style="position:absolute;left:0px;top:568.4000000000001px;width:86px;height:0.8px;background:#8d94a0"></div><div style="position:absolute;left:3px;top:572.4000000000001px;font-size:4.6px;color:#a9b0bb;line-height:1.25;white-space:nowrap;">zo<br>30</div><div style="position:absolute;left:14px;top:572.9000000000001px;font-size:6.1px;font-weight:700;color:#14223f;line-height:1.08;white-space:nowrap;letter-spacing:-0.15px;">Conceptupdate zomer:<br>proefkeuken</div><div style="position:absolute;left:0px;top:587.5px;width:86px;height:1.3px;background:#5a6070"></div><div style="position:absolute;left:58px;top:587.5px;font-size:20px;font-weight:700;color:#dde4ec;width:26px;text-align:right;line-height:1;letter-spacing:-0.5px;">14</div><div style="position:absolute;left:3px;top:592.0px;font-size:4.6px;color:#a9b0bb;line-height:1.25;white-space:nowrap;">ma<br>31</div><div style="position:absolute;left:14px;top:594.5px;font-size:6.1px;font-weight:700;color:#14223f;line-height:1.08;white-space:nowrap;letter-spacing:-0.15px;">Resultaten vs doelstellingen</div></div><div style="position:absolute;left:304.5px;top:72.4px;font-size:16.3px;font-weight:700;color:#0f2a52;white-space:nowrap;letter-spacing:-0.2px;">April</div><div style="position:absolute;left:305.5px;top:99.9px;width:86px;height:588.0px;border:0.8px solid #6a7080;box-sizing:border-box;overflow:hidden"><div style="position:absolute;left:58px;top:-0.5px;font-size:20px;font-weight:700;color:#dde4ec;width:26px;text-align:right;line-height:1;letter-spacing:-0.5px;">14</div><div style="position:absolute;left:3px;top:4.0px;font-size:4.6px;color:#a9b0bb;line-height:1.25;white-space:nowrap;">di<br>01</div><div style="position:absolute;left:14px;top:4.5px;font-size:6.1px;font-weight:700;color:#14223f;line-height:1.08;white-space:nowrap;letter-spacing:-0.15px;">Maandelijkse<br>voortgangsgesprekken</div><div style="position:absolute;left:0px;top:19.6px;width:86px;height:0.8px;background:#8d94a0"></div><div style="position:absolute;left:3px;top:23.6px;font-size:4.6px;color:#a9b0bb;line-height:1.25;white-space:nowrap;">wo<br>02</div><div style="position:absolute;left:14px;top:24.1px;font-size:6.1px;font-weight:700;color:#14223f;line-height:1.08;white-space:nowrap;letter-spacing:-0.15px;">Nieuwsbrief<br>vaderdag special</div><div style="position:absolute;left:0px;top:39.2px;width:86px;height:0.8px;background:#8d94a0"></div><div style="position:absolute;left:3px;top:43.2px;font-size:4.6px;color:#a9b0bb;line-height:1.25;white-space:nowrap;">do<br>03</div><div style="position:absolute;left:14px;top:43.7px;font-size:6.1px;font-weight:700;color:#14223f;line-height:1.08;white-space:nowrap;letter-spacing:-0.15px;">Bestellen kaartjes terras<br>Carnaval</div><div style="position:absolute;left:0px;top:58.800000000000004px;width:86px;height:0.8px;background:#8d94a0"></div><div style="position:absolute;left:3px;top:62.800000000000004px;font-size:4.6px;color:#a9b0bb;line-height:1.25;white-space:nowrap;">vr<br>04</div><div style="position:absolute;left:14px;top:63.300000000000004px;font-size:6.1px;font-weight:700;color:#14223f;line-height:1.08;white-space:nowrap;letter-spacing:-0.15px;">Conceptupdate winter:<br>magazijn &amp; kelder</div><div style="position:absolute;left:0px;top:78.4px;width:86px;height:0.8px;background:#8d94a0"></div><div style="position:absolute;left:3px;top:82.4px;font-size:4.6px;color:#a9b0bb;line-height:1.25;white-space:nowrap;">za<br>05</div><div style="position:absolute;left:14px;top:84.9px;font-size:6.1px;font-weight:700;color:#14223f;line-height:1.08;white-space:nowrap;letter-spacing:-0.15px;">Stocken</div><div style="position:absolute;left:0px;top:98.0px;width:86px;height:0.8px;background:#8d94a0"></div><div style="position:absolute;left:3px;top:102.0px;font-size:4.6px;color:#a9b0bb;line-height:1.25;white-space:nowrap;">zo<br>06</div><div style="position:absolute;left:14px;top:102.5px;font-size:6.1px;font-weight:700;color:#14223f;line-height:1.08;white-space:nowrap;letter-spacing:-0.15px;">Welke leverancier levert<br>ook inspiratie?</div><div style="position:absolute;left:0px;top:117.10000000000001px;width:86px;height:1.3px;background:#5a6070"></div><div style="position:absolute;left:58px;top:117.10000000000001px;font-size:20px;font-weight:700;color:#dde4ec;width:26px;text-align:right;line-height:1;letter-spacing:-0.5px;">15</div><div style="position:absolute;left:3px;top:121.60000000000001px;font-size:4.6px;color:#a9b0bb;line-height:1.25;white-space:nowrap;">ma<br>07</div><div style="position:absolute;left:14px;top:124.10000000000001px;font-size:6.1px;font-weight:700;color:#14223f;line-height:1.08;white-space:nowrap;letter-spacing:-0.15px;">Stocken</div><div style="position:absolute;left:0px;top:137.20000000000002px;width:86px;height:0.8px;background:#8d94a0"></div><div style="position:absolute;left:3px;top:141.20000000000002px;font-size:4.6px;color:#a9b0bb;line-height:1.25;white-space:nowrap;">di<br>08</div><div style="position:absolute;left:14px;top:141.70000000000002px;font-size:6.1px;font-weight:700;color:#14223f;line-height:1.08;white-space:nowrap;letter-spacing:-0.15px;">Meten personeels-<br>tevredenheid</div><div style="position:absolute;left:0px;top:156.8px;width:86px;height:0.8px;background:#8d94a0"></div><div style="position:absolute;left:3px;top:160.8px;font-size:4.6px;color:#a9b0bb;line-height:1.25;white-space:nowrap;">wo<br>09</div><div style="position:absolute;left:14px;top:161.3px;font-size:6.1px;font-weight:700;color:#14223f;line-height:1.08;white-space:nowrap;letter-spacing:-0.15px;">Horecava<br>Valentijn special rond</div><div style="position:absolute;left:0px;top:176.4px;width:86px;height:0.8px;background:#8d94a0"></div><div style="position:absolute;left:3px;top:180.4px;font-size:4.6px;color:#a9b0bb;line-height:1.25;white-space:nowrap;">do<br>10</div><div style="position:absolute;left:14px;top:180.9px;font-size:6.1px;font-weight:700;color:#14223f;line-height:1.08;white-space:nowrap;letter-spacing:-0.15px;">Horecava<br>Valentijn special rond</div><div style="position:absolute;left:0px;top:196.0px;width:86px;height:0.8px;background:#8d94a0"></div><div style="position:absolute;left:3px;top:200.0px;font-size:4.6px;color:#a9b0bb;line-height:1.25;white-space:nowrap;">vr<br>11</div><div style="position:absolute;left:14px;top:200.5px;font-size:6.1px;font-weight:700;color:#14223f;line-height:1.08;white-space:nowrap;letter-spacing:-0.15px;">Conceptupdate voorjaar:<br>servies &amp; disposables</div><div style="position:absolute;left:0px;top:215.60000000000002px;width:86px;height:0.8px;background:#8d94a0"></div><div style="position:absolute;left:3px;top:219.60000000000002px;font-size:4.6px;color:#a9b0bb;line-height:1.25;white-space:nowrap;">za<br>12</div><div style="position:absolute;left:14px;top:220.10000000000002px;font-size:6.1px;font-weight:700;color:#14223f;line-height:1.08;white-space:nowrap;letter-spacing:-0.15px;">Prijsafspraken voor<br>minimaal kwartaal vast</div><div style="position:absolute;left:0px;top:235.20000000000002px;width:86px;height:0.8px;background:#8d94a0"></div><div style="position:absolute;left:3px;top:239.20000000000002px;font-size:4.6px;color:#a9b0bb;line-height:1.25;white-space:nowrap;">zo<br>13</div><div style="position:absolute;left:14px;top:239.70000000000002px;font-size:6.1px;font-weight:700;color:#14223f;line-height:1.08;white-space:nowrap;letter-spacing:-0.15px;">Maandelijkse<br>voortgangsgesprekken</div><div style="position:absolute;left:0px;top:254.3px;width:86px;height:1.3px;background:#5a6070"></div><div style="position:absolute;left:58px;top:254.3px;font-size:20px;font-weight:700;color:#dde4ec;width:26px;text-align:right;line-height:1;letter-spacing:-0.5px;">16</div><div style="position:absolute;left:3px;top:258.8px;font-size:4.6px;color:#a9b0bb;line-height:1.25;white-space:nowrap;">ma<br>14</div><div style="position:absolute;left:14px;top:261.3px;font-size:6.1px;font-weight:700;color:#14223f;line-height:1.08;white-space:nowrap;letter-spacing:-0.15px;">Resultaten vs doelstellingen</div><div style="position:absolute;left:0px;top:274.40000000000003px;width:86px;height:0.8px;background:#8d94a0"></div><div style="position:absolute;left:3px;top:278.40000000000003px;font-size:4.6px;color:#a9b0bb;line-height:1.25;white-space:nowrap;">di<br>15</div><div style="position:absolute;left:14px;top:280.90000000000003px;font-size:6.1px;font-weight:700;color:#14223f;line-height:1.08;white-space:nowrap;letter-spacing:-0.15px;">Resultaten vs doelstellingen</div><div style="position:absolute;left:0px;top:294.0px;width:86px;height:0.8px;background:#8d94a0"></div><div style="position:absolute;left:3px;top:298.0px;font-size:4.6px;color:#a9b0bb;line-height:1.25;white-space:nowrap;">wo<br>16</div><div style="position:absolute;left:14px;top:298.5px;font-size:6.1px;font-weight:700;color:#14223f;line-height:1.08;white-space:nowrap;letter-spacing:-0.15px;">Fotoshoot<br>terras inplannen</div><div style="position:absolute;left:0px;top:313.6px;width:86px;height:0.8px;background:#8d94a0"></div><div style="position:absolute;left:3px;top:317.6px;font-size:4.6px;color:#a9b0bb;line-height:1.25;white-space:nowrap;">do<br>17</div><div style="position:absolute;left:14px;top:320.1px;font-size:6.1px;font-weight:700;color:#14223f;line-height:1.08;white-space:nowrap;letter-spacing:-0.15px;">Koningsdag special rond</div><div style="position:absolute;left:0px;top:333.20000000000005px;width:86px;height:0.8px;background:#8d94a0"></div><div style="position:absolute;left:3px;top:337.20000000000005px;font-size:4.6px;color:#a9b0bb;line-height:1.25;white-space:nowrap;">vr<br>18</div><div style="position:absolute;left:14px;top:337.70000000000005px;font-size:6.1px;font-weight:700;color:#14223f;line-height:1.08;white-space:nowrap;letter-spacing:-0.15px;">Welke leverancier levert<br>ook inspiratie?</div><div style="position:absolute;left:0px;top:352.8px;width:86px;height:0.8px;background:#8d94a0"></div><div style="position:absolute;left:3px;top:356.8px;font-size:4.6px;color:#a9b0bb;line-height:1.25;white-space:nowrap;">za<br>19</div><div style="position:absolute;left:14px;top:357.3px;font-size:6.1px;font-weight:700;color:#14223f;line-height:1.08;white-space:nowrap;letter-spacing:-0.15px;">Conceptupdate najaar:<br>planning maken</div><div style="position:absolute;left:0px;top:372.40000000000003px;width:86px;height:0.8px;background:#8d94a0"></div><div style="position:absolute;left:3px;top:376.40000000000003px;font-size:4.6px;color:#a9b0bb;line-height:1.25;white-space:nowrap;">zo<br>20</div><div style="position:absolute;left:14px;top:376.90000000000003px;font-size:6.1px;font-weight:700;color:#14223f;line-height:1.08;white-space:nowrap;letter-spacing:-0.15px;">Conceptupdate najaar:<br>planning maken</div><div style="position:absolute;left:0px;top:391.5px;width:86px;height:1.3px;background:#5a6070"></div><div style="position:absolute;left:58px;top:391.5px;font-size:20px;font-weight:700;color:#dde4ec;width:26px;text-align:right;line-height:1;letter-spacing:-0.5px;">17</div><div style="position:absolute;left:3px;top:396.0px;font-size:4.6px;color:#a9b0bb;line-height:1.25;white-space:nowrap;">ma<br>21</div><div style="position:absolute;left:14px;top:396.5px;font-size:6.1px;font-weight:700;color:#14223f;line-height:1.08;white-space:nowrap;letter-spacing:-0.15px;">Conceptupdate voorjaar:<br>planning maken</div><div style="position:absolute;left:0px;top:411.6px;width:86px;height:0.8px;background:#8d94a0"></div><div style="position:absolute;left:3px;top:415.6px;font-size:4.6px;color:#a9b0bb;line-height:1.25;white-space:nowrap;">di<br>22</div><div style="position:absolute;left:14px;top:416.1px;font-size:6.1px;font-weight:700;color:#14223f;line-height:1.08;white-space:nowrap;letter-spacing:-0.15px;">Start Plan Boutique<br>Managementcursus Midden</div><div style="position:absolute;left:0px;top:431.20000000000005px;width:86px;height:0.8px;background:#8d94a0"></div><div style="position:absolute;left:3px;top:435.20000000000005px;font-size:4.6px;color:#a9b0bb;line-height:1.25;white-space:nowrap;">wo<br>23</div><div style="position:absolute;left:14px;top:435.70000000000005px;font-size:6.1px;font-weight:700;color:#14223f;line-height:1.08;white-space:nowrap;letter-spacing:-0.15px;">Conceptupdate voorjaar:<br>servies &amp; disposables</div><div style="position:absolute;left:0px;top:450.8px;width:86px;height:0.8px;background:#8d94a0"></div><div style="position:absolute;left:3px;top:454.8px;font-size:4.6px;color:#a9b0bb;line-height:1.25;white-space:nowrap;">do<br>24</div><div style="position:absolute;left:14px;top:455.3px;font-size:6.1px;font-weight:700;color:#14223f;line-height:1.08;white-space:nowrap;letter-spacing:-0.15px;">Tickets bestellen kick off<br>Wouter Verkerk op 5 april</div><div style="position:absolute;left:0px;top:470.40000000000003px;width:86px;height:0.8px;background:#8d94a0"></div><div style="position:absolute;left:3px;top:474.40000000000003px;font-size:4.6px;color:#a9b0bb;line-height:1.25;white-space:nowrap;">vr<br>25</div><div style="position:absolute;left:14px;top:474.90000000000003px;font-size:6.1px;font-weight:700;color:#14223f;line-height:1.08;white-space:nowrap;letter-spacing:-0.15px;">Tickets bestellen kick off<br>Wouter Verkerk op 5 april</div><div style="position:absolute;left:0px;top:490.00000000000006px;width:86px;height:0.8px;background:#8d94a0"></div><div style="position:absolute;left:3px;top:494.00000000000006px;font-size:4.6px;color:#a9b0bb;line-height:1.25;white-space:nowrap;">za<br>26</div><div style="position:absolute;left:14px;top:494.50000000000006px;font-size:6.1px;font-weight:700;color:#14223f;line-height:1.08;white-space:nowrap;letter-spacing:-0.15px;">Conceptupdate zomer:<br>signaturen bepalen</div><div style="position:absolute;left:0px;top:509.6px;width:86px;height:0.8px;background:#8d94a0"></div><div style="position:absolute;left:3px;top:513.6px;font-size:4.6px;color:#a9b0bb;line-height:1.25;white-space:nowrap;">zo<br>27</div><div style="position:absolute;left:14px;top:514.1px;font-size:6.1px;font-weight:700;color:#14223f;line-height:1.08;white-space:nowrap;letter-spacing:-0.15px;">Kick off terrasseizoen<br>Wouter Verkerk</div><div style="position:absolute;left:0px;top:528.7px;width:86px;height:1.3px;background:#5a6070"></div><div style="position:absolute;left:58px;top:528.7px;font-size:20px;font-weight:700;color:#dde4ec;width:26px;text-align:right;line-height:1;letter-spacing:-0.5px;">18</div><div style="position:absolute;left:3px;top:533.2px;font-size:4.6px;color:#a9b0bb;line-height:1.25;white-space:nowrap;">ma<br>28</div><div style="position:absolute;left:14px;top:533.7px;font-size:6.1px;font-weight:700;color:#14223f;line-height:1.08;white-space:nowrap;letter-spacing:-0.15px;">Fotoshoot<br>terras inplannen</div><div style="position:absolute;left:0px;top:548.8000000000001px;width:86px;height:0.8px;background:#8d94a0"></div><div style="position:absolute;left:3px;top:552.8000000000001px;font-size:4.6px;color:#a9b0bb;line-height:1.25;white-space:nowrap;">di<br>29</div><div style="position:absolute;left:14px;top:553.3000000000001px;font-size:6.1px;font-weight:700;color:#14223f;line-height:1.08;white-space:nowrap;letter-spacing:-0.15px;">Conceptupdate najaar:<br>offertes opvragen</div><div style="position:absolute;left:0px;top:568.4000000000001px;width:86px;height:0.8px;background:#8d94a0"></div><div style="position:absolute;left:3px;top:572.4000000000001px;font-size:4.6px;color:#a9b0bb;line-height:1.25;white-space:nowrap;">wo<br>30</div><div style="position:absolute;left:14px;top:572.9000000000001px;font-size:6.1px;font-weight:700;color:#14223f;line-height:1.08;white-space:nowrap;letter-spacing:-0.15px;">Conceptupdate najaar:<br>offertes opvragen</div></div><div style="position:absolute;left:396.0px;top:111.6px;font-size:16.3px;font-weight:700;color:#0f2a52;white-space:nowrap;letter-spacing:-0.2px;">Mei</div><div style="position:absolute;left:397.0px;top:139.1px;width:86px;height:607.6px;border:0.8px solid #6a7080;box-sizing:border-box;overflow:hidden"><div style="position:absolute;left:58px;top:-0.5px;font-size:20px;font-weight:700;color:#dde4ec;width:26px;text-align:right;line-height:1;letter-spacing:-0.5px;">18</div><div style="position:absolute;left:3px;top:4.0px;font-size:4.6px;color:#a9b0bb;line-height:1.25;white-space:nowrap;">do<br>01</div><div style="position:absolute;left:14px;top:4.5px;font-size:6.1px;font-weight:700;color:#14223f;line-height:1.08;white-space:nowrap;letter-spacing:-0.15px;">Google jezelf, check<br>vermeldingen</div><div style="position:absolute;left:0px;top:19.6px;width:86px;height:0.8px;background:#8d94a0"></div><div style="position:absolute;left:3px;top:23.6px;font-size:4.6px;color:#a9b0bb;line-height:1.25;white-space:nowrap;">vr<br>02</div><div style="position:absolute;left:14px;top:24.1px;font-size:6.1px;font-weight:700;color:#14223f;line-height:1.08;white-space:nowrap;letter-spacing:-0.15px;">Inspiratiesessie<br>concept zomer</div><div style="position:absolute;left:0px;top:39.2px;width:86px;height:0.8px;background:#8d94a0"></div><div style="position:absolute;left:3px;top:43.2px;font-size:4.6px;color:#a9b0bb;line-height:1.25;white-space:nowrap;">za<br>03</div><div style="position:absolute;left:14px;top:43.7px;font-size:6.1px;font-weight:700;color:#14223f;line-height:1.08;white-space:nowrap;letter-spacing:-0.15px;">Meten personeels-<br>tevredenheid</div><div style="position:absolute;left:0px;top:58.800000000000004px;width:86px;height:0.8px;background:#8d94a0"></div><div style="position:absolute;left:3px;top:62.800000000000004px;font-size:4.6px;color:#a9b0bb;line-height:1.25;white-space:nowrap;">zo<br>04</div><div style="position:absolute;left:14px;top:63.300000000000004px;font-size:6.1px;font-weight:700;color:#14223f;line-height:1.08;white-space:nowrap;letter-spacing:-0.15px;">Conceptupdate voorjaar:<br>planning maken</div><div style="position:absolute;left:0px;top:77.9px;width:86px;height:1.3px;background:#5a6070"></div><div style="position:absolute;left:58px;top:77.9px;font-size:20px;font-weight:700;color:#dde4ec;width:26px;text-align:right;line-height:1;letter-spacing:-0.5px;">19</div><div style="position:absolute;left:3px;top:82.4px;font-size:4.6px;color:#a9b0bb;line-height:1.25;white-space:nowrap;">ma<br>05</div><div style="position:absolute;left:14px;top:82.9px;font-size:6.1px;font-weight:700;color:#14223f;line-height:1.08;white-space:nowrap;letter-spacing:-0.15px;">Conceptupdate voorjaar:<br>planning maken</div><div style="position:absolute;left:0px;top:98.0px;width:86px;height:0.8px;background:#8d94a0"></div><div style="position:absolute;left:3px;top:102.0px;font-size:4.6px;color:#a9b0bb;line-height:1.25;white-space:nowrap;">di<br>06</div><div style="position:absolute;left:14px;top:102.5px;font-size:6.1px;font-weight:700;color:#14223f;line-height:1.08;white-space:nowrap;letter-spacing:-0.15px;">Conceptupdate voorjaar:<br>calculaties maken</div><div style="position:absolute;left:0px;top:117.60000000000001px;width:86px;height:0.8px;background:#8d94a0"></div><div style="position:absolute;left:3px;top:121.60000000000001px;font-size:4.6px;color:#a9b0bb;line-height:1.25;white-space:nowrap;">wo<br>07</div><div style="position:absolute;left:14px;top:122.10000000000001px;font-size:6.1px;font-weight:700;color:#14223f;line-height:1.08;white-space:nowrap;letter-spacing:-0.15px;">Marketing en specials Q1<br>vastleggen en plannen</div><div style="position:absolute;left:0px;top:137.20000000000002px;width:86px;height:0.8px;background:#8d94a0"></div><div style="position:absolute;left:3px;top:141.20000000000002px;font-size:4.6px;color:#a9b0bb;line-height:1.25;white-space:nowrap;">do<br>08</div><div style="position:absolute;left:14px;top:141.70000000000002px;font-size:6.1px;font-weight:700;color:#14223f;line-height:1.08;white-space:nowrap;letter-spacing:-0.15px;">Inventariseren<br>personeelswerving</div><div style="position:absolute;left:0px;top:156.8px;width:86px;height:0.8px;background:#8d94a0"></div><div style="position:absolute;left:3px;top:160.8px;font-size:4.6px;color:#a9b0bb;line-height:1.25;white-space:nowrap;">vr<br>09</div><div style="position:absolute;left:14px;top:161.3px;font-size:6.1px;font-weight:700;color:#14223f;line-height:1.08;white-space:nowrap;letter-spacing:-0.15px;">Conceptupdate zomer:<br>signaturen bepalen</div><div style="position:absolute;left:0px;top:176.4px;width:86px;height:0.8px;background:#8d94a0"></div><div style="position:absolute;left:3px;top:180.4px;font-size:4.6px;color:#a9b0bb;line-height:1.25;white-space:nowrap;">za<br>10</div><div style="position:absolute;left:14px;top:180.9px;font-size:6.1px;font-weight:700;color:#14223f;line-height:1.08;white-space:nowrap;letter-spacing:-0.15px;">Conceptupdate zomer:<br>signaturen bepalen</div><div style="position:absolute;left:0px;top:196.0px;width:86px;height:0.8px;background:#8d94a0"></div><div style="position:absolute;left:3px;top:200.0px;font-size:4.6px;color:#a9b0bb;line-height:1.25;white-space:nowrap;">zo<br>11</div><div style="position:absolute;left:14px;top:200.5px;font-size:6.1px;font-weight:700;color:#14223f;line-height:1.08;white-space:nowrap;letter-spacing:-0.15px;">Check hotelbar en gimmicks<br>The Branding Club</div><div style="position:absolute;left:0px;top:215.10000000000002px;width:86px;height:1.3px;background:#5a6070"></div><div style="position:absolute;left:58px;top:215.10000000000002px;font-size:20px;font-weight:700;color:#dde4ec;width:26px;text-align:right;line-height:1;letter-spacing:-0.5px;">20</div><div style="position:absolute;left:3px;top:219.60000000000002px;font-size:4.6px;color:#a9b0bb;line-height:1.25;white-space:nowrap;">ma<br>12</div><div style="position:absolute;left:14px;top:220.10000000000002px;font-size:6.1px;font-weight:700;color:#14223f;line-height:1.08;white-space:nowrap;letter-spacing:-0.15px;">Conceptupdate zomer:<br>proefkeuken</div><div style="position:absolute;left:0px;top:235.20000000000002px;width:86px;height:0.8px;background:#8d94a0"></div><div style="position:absolute;left:3px;top:239.20000000000002px;font-size:4.6px;color:#a9b0bb;line-height:1.25;white-space:nowrap;">di<br>13</div><div style="position:absolute;left:14px;top:239.70000000000002px;font-size:6.1px;font-weight:700;color:#14223f;line-height:1.08;white-space:nowrap;letter-spacing:-0.15px;">Google jezelf, check<br>vermeldingen</div><div style="position:absolute;left:0px;top:254.8px;width:86px;height:0.8px;background:#8d94a0"></div><div style="position:absolute;left:3px;top:258.8px;font-size:4.6px;color:#a9b0bb;line-height:1.25;white-space:nowrap;">wo<br>14</div><div style="position:absolute;left:14px;top:259.3px;font-size:6.1px;font-weight:700;color:#14223f;line-height:1.08;white-space:nowrap;letter-spacing:-0.15px;">Bestellen kaartjes terras<br>Carnaval</div><div style="position:absolute;left:0px;top:274.40000000000003px;width:86px;height:0.8px;background:#8d94a0"></div><div style="position:absolute;left:3px;top:278.40000000000003px;font-size:4.6px;color:#a9b0bb;line-height:1.25;white-space:nowrap;">do<br>15</div><div style="position:absolute;left:14px;top:278.90000000000003px;font-size:6.1px;font-weight:700;color:#14223f;line-height:1.08;white-space:nowrap;letter-spacing:-0.15px;">Bestellen kaartjes terras<br>Carnaval</div><div style="position:absolute;left:0px;top:294.0px;width:86px;height:0.8px;background:#8d94a0"></div><div style="position:absolute;left:3px;top:298.0px;font-size:4.6px;color:#a9b0bb;line-height:1.25;white-space:nowrap;">vr<br>16</div><div style="position:absolute;left:14px;top:298.5px;font-size:6.1px;font-weight:700;color:#14223f;line-height:1.08;white-space:nowrap;letter-spacing:-0.15px;">Evaluatie<br>zomerseizoen</div><div style="position:absolute;left:0px;top:313.6px;width:86px;height:0.8px;background:#8d94a0"></div><div style="position:absolute;left:3px;top:317.6px;font-size:4.6px;color:#a9b0bb;line-height:1.25;white-space:nowrap;">za<br>17</div><div style="position:absolute;left:14px;top:318.1px;font-size:6.1px;font-weight:700;color:#14223f;line-height:1.08;white-space:nowrap;letter-spacing:-0.15px;">Inventarisatie<br>bedrijfskleding</div><div style="position:absolute;left:0px;top:333.20000000000005px;width:86px;height:0.8px;background:#8d94a0"></div><div style="position:absolute;left:3px;top:337.20000000000005px;font-size:4.6px;color:#a9b0bb;line-height:1.25;white-space:nowrap;">zo<br>18</div><div style="position:absolute;left:14px;top:337.70000000000005px;font-size:6.1px;font-weight:700;color:#14223f;line-height:1.08;white-space:nowrap;letter-spacing:-0.15px;">Conceptupdate voorjaar:<br>calculaties maken</div><div style="position:absolute;left:0px;top:352.3px;width:86px;height:1.3px;background:#5a6070"></div><div style="position:absolute;left:58px;top:352.3px;font-size:20px;font-weight:700;color:#dde4ec;width:26px;text-align:right;line-height:1;letter-spacing:-0.5px;">21</div><div style="position:absolute;left:3px;top:356.8px;font-size:4.6px;color:#a9b0bb;line-height:1.25;white-space:nowrap;">ma<br>19</div><div style="position:absolute;left:14px;top:357.3px;font-size:6.1px;font-weight:700;color:#14223f;line-height:1.08;white-space:nowrap;letter-spacing:-0.15px;">Meten personeels-<br>tevredenheid</div><div style="position:absolute;left:0px;top:372.40000000000003px;width:86px;height:0.8px;background:#8d94a0"></div><div style="position:absolute;left:3px;top:376.40000000000003px;font-size:4.6px;color:#a9b0bb;line-height:1.25;white-space:nowrap;">di<br>20</div><div style="position:absolute;left:14px;top:376.90000000000003px;font-size:6.1px;font-weight:700;color:#14223f;line-height:1.08;white-space:nowrap;letter-spacing:-0.15px;">Meten personeels-<br>tevredenheid</div><div style="position:absolute;left:0px;top:392.0px;width:86px;height:0.8px;background:#8d94a0"></div><div style="position:absolute;left:3px;top:396.0px;font-size:4.6px;color:#a9b0bb;line-height:1.25;white-space:nowrap;">wo<br>21</div><div style="position:absolute;left:14px;top:396.5px;font-size:6.1px;font-weight:700;color:#14223f;line-height:1.08;white-space:nowrap;letter-spacing:-0.15px;">Analyse: kwaliteit,<br>inkoop, loonkosten</div><div style="position:absolute;left:0px;top:411.6px;width:86px;height:0.8px;background:#8d94a0"></div><div style="position:absolute;left:3px;top:415.6px;font-size:4.6px;color:#a9b0bb;line-height:1.25;white-space:nowrap;">do<br>22</div><div style="position:absolute;left:14px;top:418.1px;font-size:6.1px;font-weight:700;color:#14223f;line-height:1.08;white-space:nowrap;letter-spacing:-0.15px;">Bijwerken website</div><div style="position:absolute;left:0px;top:431.20000000000005px;width:86px;height:0.8px;background:#8d94a0"></div><div style="position:absolute;left:3px;top:435.20000000000005px;font-size:4.6px;color:#a9b0bb;line-height:1.25;white-space:nowrap;">vr<br>23</div><div style="position:absolute;left:14px;top:435.70000000000005px;font-size:6.1px;font-weight:700;color:#14223f;line-height:1.08;white-space:nowrap;letter-spacing:-0.15px;">Check hotelbar en gimmicks<br>The Branding Club</div><div style="position:absolute;left:0px;top:450.8px;width:86px;height:0.8px;background:#8d94a0"></div><div style="position:absolute;left:3px;top:454.8px;font-size:4.6px;color:#a9b0bb;line-height:1.25;white-space:nowrap;">za<br>24</div><div style="position:absolute;left:14px;top:455.3px;font-size:6.1px;font-weight:700;color:#14223f;line-height:1.08;white-space:nowrap;letter-spacing:-0.15px;">Maandelijkse<br>voortgangsgesprekken</div><div style="position:absolute;left:0px;top:470.40000000000003px;width:86px;height:0.8px;background:#8d94a0"></div><div style="position:absolute;left:3px;top:474.40000000000003px;font-size:4.6px;color:#a9b0bb;line-height:1.25;white-space:nowrap;">zo<br>25</div><div style="position:absolute;left:14px;top:474.90000000000003px;font-size:6.1px;font-weight:700;color:#14223f;line-height:1.08;white-space:nowrap;letter-spacing:-0.15px;">Maandelijkse<br>voortgangsgesprekken</div><div style="position:absolute;left:0px;top:489.50000000000006px;width:86px;height:1.3px;background:#5a6070"></div><div style="position:absolute;left:58px;top:489.50000000000006px;font-size:20px;font-weight:700;color:#dde4ec;width:26px;text-align:right;line-height:1;letter-spacing:-0.5px;">22</div><div style="position:absolute;left:3px;top:494.00000000000006px;font-size:4.6px;color:#a9b0bb;line-height:1.25;white-space:nowrap;">ma<br>26</div><div style="position:absolute;left:14px;top:494.50000000000006px;font-size:6.1px;font-weight:700;color:#14223f;line-height:1.08;white-space:nowrap;letter-spacing:-0.15px;">Afspraak inplannen<br>accountmanager Bidfood</div><div style="position:absolute;left:0px;top:509.6px;width:86px;height:0.8px;background:#8d94a0"></div><div style="position:absolute;left:3px;top:513.6px;font-size:4.6px;color:#a9b0bb;line-height:1.25;white-space:nowrap;">di<br>27</div><div style="position:absolute;left:14px;top:514.1px;font-size:6.1px;font-weight:700;color:#14223f;line-height:1.08;white-space:nowrap;letter-spacing:-0.15px;">Horecabeurs Goes<br>Bureau de Wit</div><div style="position:absolute;left:0px;top:529.2px;width:86px;height:0.8px;background:#8d94a0"></div><div style="position:absolute;left:3px;top:533.2px;font-size:4.6px;color:#a9b0bb;line-height:1.25;white-space:nowrap;">wo<br>28</div><div style="position:absolute;left:14px;top:533.7px;font-size:6.1px;font-weight:700;color:#14223f;line-height:1.08;white-space:nowrap;letter-spacing:-0.15px;">Evaluatie<br>zomerseizoen</div><div style="position:absolute;left:0px;top:548.8000000000001px;width:86px;height:0.8px;background:#8d94a0"></div><div style="position:absolute;left:3px;top:552.8000000000001px;font-size:4.6px;color:#a9b0bb;line-height:1.25;white-space:nowrap;">do<br>29</div><div style="position:absolute;left:14px;top:553.3000000000001px;font-size:6.1px;font-weight:700;color:#14223f;line-height:1.08;white-space:nowrap;letter-spacing:-0.15px;">Welke leverancier levert<br>ook inspiratie?</div><div style="position:absolute;left:0px;top:568.4000000000001px;width:86px;height:0.8px;background:#8d94a0"></div><div style="position:absolute;left:3px;top:572.4000000000001px;font-size:4.6px;color:#a9b0bb;line-height:1.25;white-space:nowrap;">vr<br>30</div><div style="position:absolute;left:14px;top:572.9000000000001px;font-size:6.1px;font-weight:700;color:#14223f;line-height:1.08;white-space:nowrap;letter-spacing:-0.15px;">Welke leverancier levert<br>ook inspiratie?</div><div style="position:absolute;left:0px;top:588.0px;width:86px;height:0.8px;background:#8d94a0"></div><div style="position:absolute;left:3px;top:592.0px;font-size:4.6px;color:#a9b0bb;line-height:1.25;white-space:nowrap;">za<br>31</div><div style="position:absolute;left:14px;top:592.5px;font-size:6.1px;font-weight:700;color:#14223f;line-height:1.08;white-space:nowrap;letter-spacing:-0.15px;">Meten personeels-<br>tevredenheid</div></div><div style="position:absolute;left:487.5px;top:170.4px;font-size:16.3px;font-weight:700;color:#0f2a52;white-space:nowrap;letter-spacing:-0.2px;">Juni</div><div style="position:absolute;left:488.5px;top:197.9px;width:86px;height:588.0px;border:0.8px solid #6a7080;box-sizing:border-box;overflow:hidden"><div style="position:absolute;left:58px;top:-0.5px;font-size:20px;font-weight:700;color:#dde4ec;width:26px;text-align:right;line-height:1;letter-spacing:-0.5px;">22</div><div style="position:absolute;left:3px;top:4.0px;font-size:4.6px;color:#a9b0bb;line-height:1.25;white-space:nowrap;">zo<br>01</div><div style="position:absolute;left:14px;top:4.5px;font-size:6.1px;font-weight:700;color:#14223f;line-height:1.08;white-space:nowrap;letter-spacing:-0.15px;">Onderhoud<br>keuken- en barapparatuur</div><div style="position:absolute;left:0px;top:19.1px;width:86px;height:1.3px;background:#5a6070"></div><div style="position:absolute;left:58px;top:19.1px;font-size:20px;font-weight:700;color:#dde4ec;width:26px;text-align:right;line-height:1;letter-spacing:-0.5px;">23</div><div style="position:absolute;left:3px;top:23.6px;font-size:4.6px;color:#a9b0bb;line-height:1.25;white-space:nowrap;">ma<br>02</div><div style="position:absolute;left:14px;top:24.1px;font-size:6.1px;font-weight:700;color:#14223f;line-height:1.08;white-space:nowrap;letter-spacing:-0.15px;">Conceptupdate najaar:<br>planning maken</div><div style="position:absolute;left:0px;top:39.2px;width:86px;height:0.8px;background:#8d94a0"></div><div style="position:absolute;left:3px;top:43.2px;font-size:4.6px;color:#a9b0bb;line-height:1.25;white-space:nowrap;">di<br>03</div><div style="position:absolute;left:14px;top:43.7px;font-size:6.1px;font-weight:700;color:#14223f;line-height:1.08;white-space:nowrap;letter-spacing:-0.15px;">Start Plan Boutique<br>Managementcursus Midden</div><div style="position:absolute;left:0px;top:58.800000000000004px;width:86px;height:0.8px;background:#8d94a0"></div><div style="position:absolute;left:3px;top:62.800000000000004px;font-size:4.6px;color:#a9b0bb;line-height:1.25;white-space:nowrap;">wo<br>04</div><div style="position:absolute;left:14px;top:63.300000000000004px;font-size:6.1px;font-weight:700;color:#14223f;line-height:1.08;white-space:nowrap;letter-spacing:-0.15px;">Analyse: kwaliteit,<br>inkoop, loonkosten</div><div style="position:absolute;left:0px;top:78.4px;width:86px;height:0.8px;background:#8d94a0"></div><div style="position:absolute;left:3px;top:82.4px;font-size:4.6px;color:#a9b0bb;line-height:1.25;white-space:nowrap;">do<br>05</div><div style="position:absolute;left:14px;top:82.9px;font-size:6.1px;font-weight:700;color:#14223f;line-height:1.08;white-space:nowrap;letter-spacing:-0.15px;">Analyse: kwaliteit,<br>inkoop, loonkosten</div><div style="position:absolute;left:0px;top:98.0px;width:86px;height:0.8px;background:#8d94a0"></div><div style="position:absolute;left:3px;top:102.0px;font-size:4.6px;color:#a9b0bb;line-height:1.25;white-space:nowrap;">vr<br>06</div><div style="position:absolute;left:14px;top:102.5px;font-size:6.1px;font-weight:700;color:#14223f;line-height:1.08;white-space:nowrap;letter-spacing:-0.15px;">Training Koffie,<br>Thee &amp; chocolade</div><div style="position:absolute;left:0px;top:117.60000000000001px;width:86px;height:0.8px;background:#8d94a0"></div><div style="position:absolute;left:3px;top:121.60000000000001px;font-size:4.6px;color:#a9b0bb;line-height:1.25;white-space:nowrap;">za<br>07</div><div style="position:absolute;left:14px;top:122.10000000000001px;font-size:6.1px;font-weight:700;color:#14223f;line-height:1.08;white-space:nowrap;letter-spacing:-0.15px;">Tickets bestellen kick off<br>Wouter Verkerk op 5 april</div><div style="position:absolute;left:0px;top:137.20000000000002px;width:86px;height:0.8px;background:#8d94a0"></div><div style="position:absolute;left:3px;top:141.20000000000002px;font-size:4.6px;color:#a9b0bb;line-height:1.25;white-space:nowrap;">zo<br>08</div><div style="position:absolute;left:14px;top:141.70000000000002px;font-size:6.1px;font-weight:700;color:#14223f;line-height:1.08;white-space:nowrap;letter-spacing:-0.15px;">Kick off terrasseizoen<br>Wouter Verkerk</div><div style="position:absolute;left:0px;top:156.3px;width:86px;height:1.3px;background:#5a6070"></div><div style="position:absolute;left:58px;top:156.3px;font-size:20px;font-weight:700;color:#dde4ec;width:26px;text-align:right;line-height:1;letter-spacing:-0.5px;">24</div><div style="position:absolute;left:3px;top:160.8px;font-size:4.6px;color:#a9b0bb;line-height:1.25;white-space:nowrap;">ma<br>09</div><div style="position:absolute;left:14px;top:161.3px;font-size:6.1px;font-weight:700;color:#14223f;line-height:1.08;white-space:nowrap;letter-spacing:-0.15px;">Afspraak inplannen<br>accountmanager Bidfood</div><div style="position:absolute;left:0px;top:176.4px;width:86px;height:0.8px;background:#8d94a0"></div><div style="position:absolute;left:3px;top:180.4px;font-size:4.6px;color:#a9b0bb;line-height:1.25;white-space:nowrap;">di<br>10</div><div style="position:absolute;left:14px;top:180.9px;font-size:6.1px;font-weight:700;color:#14223f;line-height:1.08;white-space:nowrap;letter-spacing:-0.15px;">Afspraak inplannen<br>accountmanager Bidfood</div><div style="position:absolute;left:0px;top:196.0px;width:86px;height:0.8px;background:#8d94a0"></div><div style="position:absolute;left:3px;top:200.0px;font-size:4.6px;color:#a9b0bb;line-height:1.25;white-space:nowrap;">wo<br>11</div><div style="position:absolute;left:14px;top:200.5px;font-size:6.1px;font-weight:700;color:#14223f;line-height:1.08;white-space:nowrap;letter-spacing:-0.15px;">Nieuwsbrief<br>vaderdag special</div><div style="position:absolute;left:0px;top:215.60000000000002px;width:86px;height:0.8px;background:#8d94a0"></div><div style="position:absolute;left:3px;top:219.60000000000002px;font-size:4.6px;color:#a9b0bb;line-height:1.25;white-space:nowrap;">do<br>12</div><div style="position:absolute;left:14px;top:220.10000000000002px;font-size:6.1px;font-weight:700;color:#14223f;line-height:1.08;white-space:nowrap;letter-spacing:-0.15px;">Conceptupdate najaar:<br>offertes opvragen</div><div style="position:absolute;left:0px;top:235.20000000000002px;width:86px;height:0.8px;background:#8d94a0"></div><div style="position:absolute;left:3px;top:239.20000000000002px;font-size:4.6px;color:#a9b0bb;line-height:1.25;white-space:nowrap;">vr<br>13</div><div style="position:absolute;left:14px;top:239.70000000000002px;font-size:6.1px;font-weight:700;color:#14223f;line-height:1.08;white-space:nowrap;letter-spacing:-0.15px;">Onderhoud<br>keuken- en barapparatuur</div><div style="position:absolute;left:0px;top:254.8px;width:86px;height:0.8px;background:#8d94a0"></div><div style="position:absolute;left:3px;top:258.8px;font-size:4.6px;color:#a9b0bb;line-height:1.25;white-space:nowrap;">za<br>14</div><div style="position:absolute;left:14px;top:261.3px;font-size:6.1px;font-weight:700;color:#14223f;line-height:1.08;white-space:nowrap;letter-spacing:-0.15px;">Stocken</div><div style="position:absolute;left:0px;top:274.40000000000003px;width:86px;height:0.8px;background:#8d94a0"></div><div style="position:absolute;left:3px;top:278.40000000000003px;font-size:4.6px;color:#a9b0bb;line-height:1.25;white-space:nowrap;">zo<br>15</div><div style="position:absolute;left:14px;top:278.90000000000003px;font-size:6.1px;font-weight:700;color:#14223f;line-height:1.08;white-space:nowrap;letter-spacing:-0.15px;">Meten personeels-<br>tevredenheid</div><div style="position:absolute;left:0px;top:293.5px;width:86px;height:1.3px;background:#5a6070"></div><div style="position:absolute;left:58px;top:293.5px;font-size:20px;font-weight:700;color:#dde4ec;width:26px;text-align:right;line-height:1;letter-spacing:-0.5px;">25</div><div style="position:absolute;left:3px;top:298.0px;font-size:4.6px;color:#a9b0bb;line-height:1.25;white-space:nowrap;">ma<br>16</div><div style="position:absolute;left:14px;top:300.5px;font-size:6.1px;font-weight:700;color:#14223f;line-height:1.08;white-space:nowrap;letter-spacing:-0.15px;">Stocken</div><div style="position:absolute;left:0px;top:313.6px;width:86px;height:0.8px;background:#8d94a0"></div><div style="position:absolute;left:3px;top:317.6px;font-size:4.6px;color:#a9b0bb;line-height:1.25;white-space:nowrap;">di<br>17</div><div style="position:absolute;left:14px;top:318.1px;font-size:6.1px;font-weight:700;color:#14223f;line-height:1.08;white-space:nowrap;letter-spacing:-0.15px;">Planning groot onderhoud<br>Skeletrooster 2024 af</div><div style="position:absolute;left:0px;top:333.20000000000005px;width:86px;height:0.8px;background:#8d94a0"></div><div style="position:absolute;left:3px;top:337.20000000000005px;font-size:4.6px;color:#a9b0bb;line-height:1.25;white-space:nowrap;">wo<br>18</div><div style="position:absolute;left:14px;top:337.70000000000005px;font-size:6.1px;font-weight:700;color:#14223f;line-height:1.08;white-space:nowrap;letter-spacing:-0.15px;">Training Koffie,<br>Thee &amp; chocolade</div><div style="position:absolute;left:0px;top:352.8px;width:86px;height:0.8px;background:#8d94a0"></div><div style="position:absolute;left:3px;top:356.8px;font-size:4.6px;color:#a9b0bb;line-height:1.25;white-space:nowrap;">do<br>19</div><div style="position:absolute;left:14px;top:357.3px;font-size:6.1px;font-weight:700;color:#14223f;line-height:1.08;white-space:nowrap;letter-spacing:-0.15px;">Inventariseren<br>personeelswerving</div><div style="position:absolute;left:0px;top:372.40000000000003px;width:86px;height:0.8px;background:#8d94a0"></div><div style="position:absolute;left:3px;top:376.40000000000003px;font-size:4.6px;color:#a9b0bb;line-height:1.25;white-space:nowrap;">vr<br>20</div><div style="position:absolute;left:14px;top:376.90000000000003px;font-size:6.1px;font-weight:700;color:#14223f;line-height:1.08;white-space:nowrap;letter-spacing:-0.15px;">Inventariseren<br>personeelswerving</div><div style="position:absolute;left:0px;top:392.0px;width:86px;height:0.8px;background:#8d94a0"></div><div style="position:absolute;left:3px;top:396.0px;font-size:4.6px;color:#a9b0bb;line-height:1.25;white-space:nowrap;">za<br>21</div><div style="position:absolute;left:14px;top:396.5px;font-size:6.1px;font-weight:700;color:#14223f;line-height:1.08;white-space:nowrap;letter-spacing:-0.15px;">Prijsafspraken voor<br>minimaal kwartaal vast</div><div style="position:absolute;left:0px;top:411.6px;width:86px;height:0.8px;background:#8d94a0"></div><div style="position:absolute;left:3px;top:415.6px;font-size:4.6px;color:#a9b0bb;line-height:1.25;white-space:nowrap;">zo<br>22</div><div style="position:absolute;left:14px;top:416.1px;font-size:6.1px;font-weight:700;color:#14223f;line-height:1.08;white-space:nowrap;letter-spacing:-0.15px;">Uppedboon<br>terrasaankleding</div><div style="position:absolute;left:0px;top:430.70000000000005px;width:86px;height:1.3px;background:#5a6070"></div><div style="position:absolute;left:58px;top:430.70000000000005px;font-size:20px;font-weight:700;color:#dde4ec;width:26px;text-align:right;line-height:1;letter-spacing:-0.5px;">26</div><div style="position:absolute;left:3px;top:435.20000000000005px;font-size:4.6px;color:#a9b0bb;line-height:1.25;white-space:nowrap;">ma<br>23</div><div style="position:absolute;left:14px;top:435.70000000000005px;font-size:6.1px;font-weight:700;color:#14223f;line-height:1.08;white-space:nowrap;letter-spacing:-0.15px;">Nieuwsbrief<br>vaderdag special</div><div style="position:absolute;left:0px;top:450.8px;width:86px;height:0.8px;background:#8d94a0"></div><div style="position:absolute;left:3px;top:454.8px;font-size:4.6px;color:#a9b0bb;line-height:1.25;white-space:nowrap;">di<br>24</div><div style="position:absolute;left:14px;top:455.3px;font-size:6.1px;font-weight:700;color:#14223f;line-height:1.08;white-space:nowrap;letter-spacing:-0.15px;">Google jezelf, check<br>vermeldingen</div><div style="position:absolute;left:0px;top:470.40000000000003px;width:86px;height:0.8px;background:#8d94a0"></div><div style="position:absolute;left:3px;top:474.40000000000003px;font-size:4.6px;color:#a9b0bb;line-height:1.25;white-space:nowrap;">wo<br>25</div><div style="position:absolute;left:14px;top:474.90000000000003px;font-size:6.1px;font-weight:700;color:#14223f;line-height:1.08;white-space:nowrap;letter-spacing:-0.15px;">Google jezelf, check<br>vermeldingen</div><div style="position:absolute;left:0px;top:490.00000000000006px;width:86px;height:0.8px;background:#8d94a0"></div><div style="position:absolute;left:3px;top:494.00000000000006px;font-size:4.6px;color:#a9b0bb;line-height:1.25;white-space:nowrap;">do<br>26</div><div style="position:absolute;left:14px;top:496.50000000000006px;font-size:6.1px;font-weight:700;color:#14223f;line-height:1.08;white-space:nowrap;letter-spacing:-0.15px;">Koningsdag special rond</div><div style="position:absolute;left:0px;top:509.6px;width:86px;height:0.8px;background:#8d94a0"></div><div style="position:absolute;left:3px;top:513.6px;font-size:4.6px;color:#a9b0bb;line-height:1.25;white-space:nowrap;">vr<br>27</div><div style="position:absolute;left:14px;top:514.1px;font-size:6.1px;font-weight:700;color:#14223f;line-height:1.08;white-space:nowrap;letter-spacing:-0.15px;">Conceptupdate winter:<br>magazijn &amp; kelder</div><div style="position:absolute;left:0px;top:529.2px;width:86px;height:0.8px;background:#8d94a0"></div><div style="position:absolute;left:3px;top:533.2px;font-size:4.6px;color:#a9b0bb;line-height:1.25;white-space:nowrap;">za<br>28</div><div style="position:absolute;left:14px;top:535.7px;font-size:6.1px;font-weight:700;color:#14223f;line-height:1.08;white-space:nowrap;letter-spacing:-0.15px;">Stocken</div><div style="position:absolute;left:0px;top:548.8000000000001px;width:86px;height:0.8px;background:#8d94a0"></div><div style="position:absolute;left:3px;top:552.8000000000001px;font-size:4.6px;color:#a9b0bb;line-height:1.25;white-space:nowrap;">zo<br>29</div><div style="position:absolute;left:14px;top:553.3000000000001px;font-size:6.1px;font-weight:700;color:#14223f;line-height:1.08;white-space:nowrap;letter-spacing:-0.15px;">Conceptupdate voorjaar:<br>calculaties maken</div><div style="position:absolute;left:0px;top:567.9000000000001px;width:86px;height:1.3px;background:#5a6070"></div><div style="position:absolute;left:58px;top:567.9000000000001px;font-size:20px;font-weight:700;color:#dde4ec;width:26px;text-align:right;line-height:1;letter-spacing:-0.5px;">27</div><div style="position:absolute;left:3px;top:572.4000000000001px;font-size:4.6px;color:#a9b0bb;line-height:1.25;white-space:nowrap;">ma<br>30</div><div style="position:absolute;left:14px;top:572.9000000000001px;font-size:6.1px;font-weight:700;color:#14223f;line-height:1.08;white-space:nowrap;letter-spacing:-0.15px;">Conceptupdate voorjaar:<br>calculaties maken</div></div><div style="position:absolute;left:579.0px;top:72.4px;font-size:16.3px;font-weight:700;color:#0f2a52;white-space:nowrap;letter-spacing:-0.2px;">Juli</div><div style="position:absolute;left:580.0px;top:99.9px;width:86px;height:607.6px;border:0.8px solid #6a7080;box-sizing:border-box;overflow:hidden"><div style="position:absolute;left:58px;top:-0.5px;font-size:20px;font-weight:700;color:#dde4ec;width:26px;text-align:right;line-height:1;letter-spacing:-0.5px;">27</div><div style="position:absolute;left:3px;top:4.0px;font-size:4.6px;color:#a9b0bb;line-height:1.25;white-space:nowrap;">di<br>01</div><div style="position:absolute;left:14px;top:4.5px;font-size:6.1px;font-weight:700;color:#14223f;line-height:1.08;white-space:nowrap;letter-spacing:-0.15px;">Kickback leveranciers<br>Resultaten vs doelstellingen</div><div style="position:absolute;left:0px;top:19.6px;width:86px;height:0.8px;background:#8d94a0"></div><div style="position:absolute;left:3px;top:23.6px;font-size:4.6px;color:#a9b0bb;line-height:1.25;white-space:nowrap;">wo<br>02</div><div style="position:absolute;left:14px;top:24.1px;font-size:6.1px;font-weight:700;color:#14223f;line-height:1.08;white-space:nowrap;letter-spacing:-0.15px;">Meten personeels-<br>tevredenheid</div><div style="position:absolute;left:0px;top:39.2px;width:86px;height:0.8px;background:#8d94a0"></div><div style="position:absolute;left:3px;top:43.2px;font-size:4.6px;color:#a9b0bb;line-height:1.25;white-space:nowrap;">do<br>03</div><div style="position:absolute;left:14px;top:45.7px;font-size:6.1px;font-weight:700;color:#14223f;line-height:1.08;white-space:nowrap;letter-spacing:-0.15px;">Bijwerken website</div><div style="position:absolute;left:0px;top:58.800000000000004px;width:86px;height:0.8px;background:#8d94a0"></div><div style="position:absolute;left:3px;top:62.800000000000004px;font-size:4.6px;color:#a9b0bb;line-height:1.25;white-space:nowrap;">vr<br>04</div><div style="position:absolute;left:14px;top:63.300000000000004px;font-size:6.1px;font-weight:700;color:#14223f;line-height:1.08;white-space:nowrap;letter-spacing:-0.15px;">Prijsafspraken voor<br>minimaal kwartaal vast</div><div style="position:absolute;left:0px;top:78.4px;width:86px;height:0.8px;background:#8d94a0"></div><div style="position:absolute;left:3px;top:82.4px;font-size:4.6px;color:#a9b0bb;line-height:1.25;white-space:nowrap;">za<br>05</div><div style="position:absolute;left:14px;top:84.9px;font-size:6.1px;font-weight:700;color:#14223f;line-height:1.08;white-space:nowrap;letter-spacing:-0.15px;">Stocken</div><div style="position:absolute;left:0px;top:98.0px;width:86px;height:0.8px;background:#8d94a0"></div><div style="position:absolute;left:3px;top:102.0px;font-size:4.6px;color:#a9b0bb;line-height:1.25;white-space:nowrap;">zo<br>06</div><div style="position:absolute;left:14px;top:104.5px;font-size:6.1px;font-weight:700;color:#14223f;line-height:1.08;white-space:nowrap;letter-spacing:-0.15px;">Training gastvrijheid</div><div style="position:absolute;left:0px;top:117.10000000000001px;width:86px;height:1.3px;background:#5a6070"></div><div style="position:absolute;left:58px;top:117.10000000000001px;font-size:20px;font-weight:700;color:#dde4ec;width:26px;text-align:right;line-height:1;letter-spacing:-0.5px;">28</div><div style="position:absolute;left:3px;top:121.60000000000001px;font-size:4.6px;color:#a9b0bb;line-height:1.25;white-space:nowrap;">ma<br>07</div><div style="position:absolute;left:14px;top:122.10000000000001px;font-size:6.1px;font-weight:700;color:#14223f;line-height:1.08;white-space:nowrap;letter-spacing:-0.15px;">Maandelijkse<br>voortgangsgesprekken</div><div style="position:absolute;left:0px;top:137.20000000000002px;width:86px;height:0.8px;background:#8d94a0"></div><div style="position:absolute;left:3px;top:141.20000000000002px;font-size:4.6px;color:#a9b0bb;line-height:1.25;white-space:nowrap;">di<br>08</div><div style="position:absolute;left:14px;top:141.70000000000002px;font-size:6.1px;font-weight:700;color:#14223f;line-height:1.08;white-space:nowrap;letter-spacing:-0.15px;">Horecabeurs Goes<br>Bureau de Wit</div><div style="position:absolute;left:0px;top:156.8px;width:86px;height:0.8px;background:#8d94a0"></div><div style="position:absolute;left:3px;top:160.8px;font-size:4.6px;color:#a9b0bb;line-height:1.25;white-space:nowrap;">wo<br>09</div><div style="position:absolute;left:14px;top:163.3px;font-size:6.1px;font-weight:700;color:#14223f;line-height:1.08;white-space:nowrap;letter-spacing:-0.15px;">Koningsdag special rond</div><div style="position:absolute;left:0px;top:176.4px;width:86px;height:0.8px;background:#8d94a0"></div><div style="position:absolute;left:3px;top:180.4px;font-size:4.6px;color:#a9b0bb;line-height:1.25;white-space:nowrap;">do<br>10</div><div style="position:absolute;left:14px;top:182.9px;font-size:6.1px;font-weight:700;color:#14223f;line-height:1.08;white-space:nowrap;letter-spacing:-0.15px;">Koningsdag special rond</div><div style="position:absolute;left:0px;top:196.0px;width:86px;height:0.8px;background:#8d94a0"></div><div style="position:absolute;left:3px;top:200.0px;font-size:4.6px;color:#a9b0bb;line-height:1.25;white-space:nowrap;">vr<br>11</div><div style="position:absolute;left:14px;top:200.5px;font-size:6.1px;font-weight:700;color:#14223f;line-height:1.08;white-space:nowrap;letter-spacing:-0.15px;">Inspiratiesessie<br>concept zomer</div><div style="position:absolute;left:0px;top:215.60000000000002px;width:86px;height:0.8px;background:#8d94a0"></div><div style="position:absolute;left:3px;top:219.60000000000002px;font-size:4.6px;color:#a9b0bb;line-height:1.25;white-space:nowrap;">za<br>12</div><div style="position:absolute;left:14px;top:220.10000000000002px;font-size:6.1px;font-weight:700;color:#14223f;line-height:1.08;white-space:nowrap;letter-spacing:-0.15px;">Welke leverancier levert<br>ook inspiratie?</div><div style="position:absolute;left:0px;top:235.20000000000002px;width:86px;height:0.8px;background:#8d94a0"></div><div style="position:absolute;left:3px;top:239.20000000000002px;font-size:4.6px;color:#a9b0bb;line-height:1.25;white-space:nowrap;">zo<br>13</div><div style="position:absolute;left:14px;top:239.70000000000002px;font-size:6.1px;font-weight:700;color:#14223f;line-height:1.08;white-space:nowrap;letter-spacing:-0.15px;">Kickback leveranciers<br>Resultaten vs doelstellingen</div><div style="position:absolute;left:0px;top:254.3px;width:86px;height:1.3px;background:#5a6070"></div><div style="position:absolute;left:58px;top:254.3px;font-size:20px;font-weight:700;color:#dde4ec;width:26px;text-align:right;line-height:1;letter-spacing:-0.5px;">29</div><div style="position:absolute;left:3px;top:258.8px;font-size:4.6px;color:#a9b0bb;line-height:1.25;white-space:nowrap;">ma<br>14</div><div style="position:absolute;left:14px;top:259.3px;font-size:6.1px;font-weight:700;color:#14223f;line-height:1.08;white-space:nowrap;letter-spacing:-0.15px;">Start Plan Boutique<br>Managementcursus Midden</div><div style="position:absolute;left:0px;top:274.40000000000003px;width:86px;height:0.8px;background:#8d94a0"></div><div style="position:absolute;left:3px;top:278.40000000000003px;font-size:4.6px;color:#a9b0bb;line-height:1.25;white-space:nowrap;">di<br>15</div><div style="position:absolute;left:14px;top:278.90000000000003px;font-size:6.1px;font-weight:700;color:#14223f;line-height:1.08;white-space:nowrap;letter-spacing:-0.15px;">Start Plan Boutique<br>Managementcursus Midden</div><div style="position:absolute;left:0px;top:294.0px;width:86px;height:0.8px;background:#8d94a0"></div><div style="position:absolute;left:3px;top:298.0px;font-size:4.6px;color:#a9b0bb;line-height:1.25;white-space:nowrap;">wo<br>16</div><div style="position:absolute;left:14px;top:298.5px;font-size:6.1px;font-weight:700;color:#14223f;line-height:1.08;white-space:nowrap;letter-spacing:-0.15px;">Marketing en specials Q1<br>vastleggen en plannen</div><div style="position:absolute;left:0px;top:313.6px;width:86px;height:0.8px;background:#8d94a0"></div><div style="position:absolute;left:3px;top:317.6px;font-size:4.6px;color:#a9b0bb;line-height:1.25;white-space:nowrap;">do<br>17</div><div style="position:absolute;left:14px;top:318.1px;font-size:6.1px;font-weight:700;color:#14223f;line-height:1.08;white-space:nowrap;letter-spacing:-0.15px;">Conceptupdate voorjaar:<br>servies &amp; disposables</div><div style="position:absolute;left:0px;top:333.20000000000005px;width:86px;height:0.8px;background:#8d94a0"></div><div style="position:absolute;left:3px;top:337.20000000000005px;font-size:4.6px;color:#a9b0bb;line-height:1.25;white-space:nowrap;">vr<br>18</div><div style="position:absolute;left:14px;top:339.70000000000005px;font-size:6.1px;font-weight:700;color:#14223f;line-height:1.08;white-space:nowrap;letter-spacing:-0.15px;">Training gastvrijheid</div><div style="position:absolute;left:0px;top:352.8px;width:86px;height:0.8px;background:#8d94a0"></div><div style="position:absolute;left:3px;top:356.8px;font-size:4.6px;color:#a9b0bb;line-height:1.25;white-space:nowrap;">za<br>19</div><div style="position:absolute;left:14px;top:357.3px;font-size:6.1px;font-weight:700;color:#14223f;line-height:1.08;white-space:nowrap;letter-spacing:-0.15px;">Kick off terrasseizoen<br>Wouter Verkerk</div><div style="position:absolute;left:0px;top:372.40000000000003px;width:86px;height:0.8px;background:#8d94a0"></div><div style="position:absolute;left:3px;top:376.40000000000003px;font-size:4.6px;color:#a9b0bb;line-height:1.25;white-space:nowrap;">zo<br>20</div><div style="position:absolute;left:14px;top:376.90000000000003px;font-size:6.1px;font-weight:700;color:#14223f;line-height:1.08;white-space:nowrap;letter-spacing:-0.15px;">Kick off terrasseizoen<br>Wouter Verkerk</div><div style="position:absolute;left:0px;top:391.5px;width:86px;height:1.3px;background:#5a6070"></div><div style="position:absolute;left:58px;top:391.5px;font-size:20px;font-weight:700;color:#dde4ec;width:26px;text-align:right;line-height:1;letter-spacing:-0.5px;">30</div><div style="position:absolute;left:3px;top:396.0px;font-size:4.6px;color:#a9b0bb;line-height:1.25;white-space:nowrap;">ma<br>21</div><div style="position:absolute;left:14px;top:396.5px;font-size:6.1px;font-weight:700;color:#14223f;line-height:1.08;white-space:nowrap;letter-spacing:-0.15px;">Conceptupdate zomer:<br>proefkeuken</div><div style="position:absolute;left:0px;top:411.6px;width:86px;height:0.8px;background:#8d94a0"></div><div style="position:absolute;left:3px;top:415.6px;font-size:4.6px;color:#a9b0bb;line-height:1.25;white-space:nowrap;">di<br>22</div><div style="position:absolute;left:14px;top:416.1px;font-size:6.1px;font-weight:700;color:#14223f;line-height:1.08;white-space:nowrap;letter-spacing:-0.15px;">Fotoshoot<br>terras inplannen</div><div style="position:absolute;left:0px;top:431.20000000000005px;width:86px;height:0.8px;background:#8d94a0"></div><div style="position:absolute;left:3px;top:435.20000000000005px;font-size:4.6px;color:#a9b0bb;line-height:1.25;white-space:nowrap;">wo<br>23</div><div style="position:absolute;left:14px;top:435.70000000000005px;font-size:6.1px;font-weight:700;color:#14223f;line-height:1.08;white-space:nowrap;letter-spacing:-0.15px;">Inspiratiesessie<br>concept zomer</div><div style="position:absolute;left:0px;top:450.8px;width:86px;height:0.8px;background:#8d94a0"></div><div style="position:absolute;left:3px;top:454.8px;font-size:4.6px;color:#a9b0bb;line-height:1.25;white-space:nowrap;">do<br>24</div><div style="position:absolute;left:14px;top:455.3px;font-size:6.1px;font-weight:700;color:#14223f;line-height:1.08;white-space:nowrap;letter-spacing:-0.15px;">Onderhoud<br>keuken- en barapparatuur</div><div style="position:absolute;left:0px;top:470.40000000000003px;width:86px;height:0.8px;background:#8d94a0"></div><div style="position:absolute;left:3px;top:474.40000000000003px;font-size:4.6px;color:#a9b0bb;line-height:1.25;white-space:nowrap;">vr<br>25</div><div style="position:absolute;left:14px;top:474.90000000000003px;font-size:6.1px;font-weight:700;color:#14223f;line-height:1.08;white-space:nowrap;letter-spacing:-0.15px;">Onderhoud<br>keuken- en barapparatuur</div><div style="position:absolute;left:0px;top:490.00000000000006px;width:86px;height:0.8px;background:#8d94a0"></div><div style="position:absolute;left:3px;top:494.00000000000006px;font-size:4.6px;color:#a9b0bb;line-height:1.25;white-space:nowrap;">za<br>26</div><div style="position:absolute;left:14px;top:494.50000000000006px;font-size:6.1px;font-weight:700;color:#14223f;line-height:1.08;white-space:nowrap;letter-spacing:-0.15px;">Inventarisatie<br>bedrijfskleding</div><div style="position:absolute;left:0px;top:509.6px;width:86px;height:0.8px;background:#8d94a0"></div><div style="position:absolute;left:3px;top:513.6px;font-size:4.6px;color:#a9b0bb;line-height:1.25;white-space:nowrap;">zo<br>27</div><div style="position:absolute;left:14px;top:514.1px;font-size:6.1px;font-weight:700;color:#14223f;line-height:1.08;white-space:nowrap;letter-spacing:-0.15px;">Conceptupdate voorjaar:<br>planning maken</div><div style="position:absolute;left:0px;top:528.7px;width:86px;height:1.3px;background:#5a6070"></div><div style="position:absolute;left:58px;top:528.7px;font-size:20px;font-weight:700;color:#dde4ec;width:26px;text-align:right;line-height:1;letter-spacing:-0.5px;">31</div><div style="position:absolute;left:3px;top:533.2px;font-size:4.6px;color:#a9b0bb;line-height:1.25;white-space:nowrap;">ma<br>28</div><div style="position:absolute;left:14px;top:533.7px;font-size:6.1px;font-weight:700;color:#14223f;line-height:1.08;white-space:nowrap;letter-spacing:-0.15px;">Marketing en specials Q1<br>vastleggen en plannen</div><div style="position:absolute;left:0px;top:548.8000000000001px;width:86px;height:0.8px;background:#8d94a0"></div><div style="position:absolute;left:3px;top:552.8000000000001px;font-size:4.6px;color:#a9b0bb;line-height:1.25;white-space:nowrap;">di<br>29</div><div style="position:absolute;left:14px;top:553.3000000000001px;font-size:6.1px;font-weight:700;color:#14223f;line-height:1.08;white-space:nowrap;letter-spacing:-0.15px;">Training Koffie,<br>Thee &amp; chocolade</div><div style="position:absolute;left:0px;top:568.4000000000001px;width:86px;height:0.8px;background:#8d94a0"></div><div style="position:absolute;left:3px;top:572.4000000000001px;font-size:4.6px;color:#a9b0bb;line-height:1.25;white-space:nowrap;">wo<br>30</div><div style="position:absolute;left:14px;top:572.9000000000001px;font-size:6.1px;font-weight:700;color:#14223f;line-height:1.08;white-space:nowrap;letter-spacing:-0.15px;">Training Koffie,<br>Thee &amp; chocolade</div><div style="position:absolute;left:0px;top:588.0px;width:86px;height:0.8px;background:#8d94a0"></div><div style="position:absolute;left:3px;top:592.0px;font-size:4.6px;color:#a9b0bb;line-height:1.25;white-space:nowrap;">do<br>31</div><div style="position:absolute;left:14px;top:594.5px;font-size:6.1px;font-weight:700;color:#14223f;line-height:1.08;white-space:nowrap;letter-spacing:-0.15px;">Bijwerken website</div></div><div style="position:absolute;left:670.5px;top:131.2px;font-size:16.3px;font-weight:700;color:#0f2a52;white-space:nowrap;letter-spacing:-0.2px;">Augustus</div><div style="position:absolute;left:671.5px;top:158.7px;width:86px;height:607.6px;border:0.8px solid #6a7080;box-sizing:border-box;overflow:hidden"><div style="position:absolute;left:58px;top:-0.5px;font-size:20px;font-weight:700;color:#dde4ec;width:26px;text-align:right;line-height:1;letter-spacing:-0.5px;">31</div><div style="position:absolute;left:3px;top:4.0px;font-size:4.6px;color:#a9b0bb;line-height:1.25;white-space:nowrap;">vr<br>01</div><div style="position:absolute;left:14px;top:4.5px;font-size:6.1px;font-weight:700;color:#14223f;line-height:1.08;white-space:nowrap;letter-spacing:-0.15px;">Horecava<br>Valentijn special rond</div><div style="position:absolute;left:0px;top:19.6px;width:86px;height:0.8px;background:#8d94a0"></div><div style="position:absolute;left:3px;top:23.6px;font-size:4.6px;color:#a9b0bb;line-height:1.25;white-space:nowrap;">za<br>02</div><div style="position:absolute;left:14px;top:24.1px;font-size:6.1px;font-weight:700;color:#14223f;line-height:1.08;white-space:nowrap;letter-spacing:-0.15px;">Inventariseren<br>personeelswerving</div><div style="position:absolute;left:0px;top:39.2px;width:86px;height:0.8px;background:#8d94a0"></div><div style="position:absolute;left:3px;top:43.2px;font-size:4.6px;color:#a9b0bb;line-height:1.25;white-space:nowrap;">zo<br>03</div><div style="position:absolute;left:14px;top:43.7px;font-size:6.1px;font-weight:700;color:#14223f;line-height:1.08;white-space:nowrap;letter-spacing:-0.15px;">Uppedboon<br>terrasaankleding</div><div style="position:absolute;left:0px;top:58.300000000000004px;width:86px;height:1.3px;background:#5a6070"></div><div style="position:absolute;left:58px;top:58.300000000000004px;font-size:20px;font-weight:700;color:#dde4ec;width:26px;text-align:right;line-height:1;letter-spacing:-0.5px;">32</div><div style="position:absolute;left:3px;top:62.800000000000004px;font-size:4.6px;color:#a9b0bb;line-height:1.25;white-space:nowrap;">ma<br>04</div><div style="position:absolute;left:14px;top:63.300000000000004px;font-size:6.1px;font-weight:700;color:#14223f;line-height:1.08;white-space:nowrap;letter-spacing:-0.15px;">Conceptupdate zomer:<br>proefkeuken</div><div style="position:absolute;left:0px;top:78.4px;width:86px;height:0.8px;background:#8d94a0"></div><div style="position:absolute;left:3px;top:82.4px;font-size:4.6px;color:#a9b0bb;line-height:1.25;white-space:nowrap;">di<br>05</div><div style="position:absolute;left:14px;top:82.9px;font-size:6.1px;font-weight:700;color:#14223f;line-height:1.08;white-space:nowrap;letter-spacing:-0.15px;">Conceptupdate zomer:<br>proefkeuken</div><div style="position:absolute;left:0px;top:98.0px;width:86px;height:0.8px;background:#8d94a0"></div><div style="position:absolute;left:3px;top:102.0px;font-size:4.6px;color:#a9b0bb;line-height:1.25;white-space:nowrap;">wo<br>06</div><div style="position:absolute;left:14px;top:104.5px;font-size:6.1px;font-weight:700;color:#14223f;line-height:1.08;white-space:nowrap;letter-spacing:-0.15px;">Resultaten vs doelstellingen</div><div style="position:absolute;left:0px;top:117.60000000000001px;width:86px;height:0.8px;background:#8d94a0"></div><div style="position:absolute;left:3px;top:121.60000000000001px;font-size:4.6px;color:#a9b0bb;line-height:1.25;white-space:nowrap;">do<br>07</div><div style="position:absolute;left:14px;top:122.10000000000001px;font-size:6.1px;font-weight:700;color:#14223f;line-height:1.08;white-space:nowrap;letter-spacing:-0.15px;">Google jezelf, check<br>vermeldingen</div><div style="position:absolute;left:0px;top:137.20000000000002px;width:86px;height:0.8px;background:#8d94a0"></div><div style="position:absolute;left:3px;top:141.20000000000002px;font-size:4.6px;color:#a9b0bb;line-height:1.25;white-space:nowrap;">vr<br>08</div><div style="position:absolute;left:14px;top:141.70000000000002px;font-size:6.1px;font-weight:700;color:#14223f;line-height:1.08;white-space:nowrap;letter-spacing:-0.15px;">Conceptupdate winter:<br>magazijn &amp; kelder</div><div style="position:absolute;left:0px;top:156.8px;width:86px;height:0.8px;background:#8d94a0"></div><div style="position:absolute;left:3px;top:160.8px;font-size:4.6px;color:#a9b0bb;line-height:1.25;white-space:nowrap;">za<br>09</div><div style="position:absolute;left:14px;top:161.3px;font-size:6.1px;font-weight:700;color:#14223f;line-height:1.08;white-space:nowrap;letter-spacing:-0.15px;">Inventarisatie<br>bedrijfskleding</div><div style="position:absolute;left:0px;top:176.4px;width:86px;height:0.8px;background:#8d94a0"></div><div style="position:absolute;left:3px;top:180.4px;font-size:4.6px;color:#a9b0bb;line-height:1.25;white-space:nowrap;">zo<br>10</div><div style="position:absolute;left:14px;top:180.9px;font-size:6.1px;font-weight:700;color:#14223f;line-height:1.08;white-space:nowrap;letter-spacing:-0.15px;">Inventarisatie<br>bedrijfskleding</div><div style="position:absolute;left:0px;top:195.5px;width:86px;height:1.3px;background:#5a6070"></div><div style="position:absolute;left:58px;top:195.5px;font-size:20px;font-weight:700;color:#dde4ec;width:26px;text-align:right;line-height:1;letter-spacing:-0.5px;">33</div><div style="position:absolute;left:3px;top:200.0px;font-size:4.6px;color:#a9b0bb;line-height:1.25;white-space:nowrap;">ma<br>11</div><div style="position:absolute;left:14px;top:200.5px;font-size:6.1px;font-weight:700;color:#14223f;line-height:1.08;white-space:nowrap;letter-spacing:-0.15px;">Conceptupdate najaar:<br>planning maken</div><div style="position:absolute;left:0px;top:215.60000000000002px;width:86px;height:0.8px;background:#8d94a0"></div><div style="position:absolute;left:3px;top:219.60000000000002px;font-size:4.6px;color:#a9b0bb;line-height:1.25;white-space:nowrap;">di<br>12</div><div style="position:absolute;left:14px;top:220.10000000000002px;font-size:6.1px;font-weight:700;color:#14223f;line-height:1.08;white-space:nowrap;letter-spacing:-0.15px;">Conceptupdate voorjaar:<br>calculaties maken</div><div style="position:absolute;left:0px;top:235.20000000000002px;width:86px;height:0.8px;background:#8d94a0"></div><div style="position:absolute;left:3px;top:239.20000000000002px;font-size:4.6px;color:#a9b0bb;line-height:1.25;white-space:nowrap;">wo<br>13</div><div style="position:absolute;left:14px;top:239.70000000000002px;font-size:6.1px;font-weight:700;color:#14223f;line-height:1.08;white-space:nowrap;letter-spacing:-0.15px;">Horecava<br>Valentijn special rond</div><div style="position:absolute;left:0px;top:254.8px;width:86px;height:0.8px;background:#8d94a0"></div><div style="position:absolute;left:3px;top:258.8px;font-size:4.6px;color:#a9b0bb;line-height:1.25;white-space:nowrap;">do<br>14</div><div style="position:absolute;left:14px;top:261.3px;font-size:6.1px;font-weight:700;color:#14223f;line-height:1.08;white-space:nowrap;letter-spacing:-0.15px;">Bijwerken website</div><div style="position:absolute;left:0px;top:274.40000000000003px;width:86px;height:0.8px;background:#8d94a0"></div><div style="position:absolute;left:3px;top:278.40000000000003px;font-size:4.6px;color:#a9b0bb;line-height:1.25;white-space:nowrap;">vr<br>15</div><div style="position:absolute;left:14px;top:280.90000000000003px;font-size:6.1px;font-weight:700;color:#14223f;line-height:1.08;white-space:nowrap;letter-spacing:-0.15px;">Bijwerken website</div><div style="position:absolute;left:0px;top:294.0px;width:86px;height:0.8px;background:#8d94a0"></div><div style="position:absolute;left:3px;top:298.0px;font-size:4.6px;color:#a9b0bb;line-height:1.25;white-space:nowrap;">za<br>16</div><div style="position:absolute;left:14px;top:298.5px;font-size:6.1px;font-weight:700;color:#14223f;line-height:1.08;white-space:nowrap;letter-spacing:-0.15px;">Tickets bestellen kick off<br>Wouter Verkerk op 5 april</div><div style="position:absolute;left:0px;top:313.6px;width:86px;height:0.8px;background:#8d94a0"></div><div style="position:absolute;left:3px;top:317.6px;font-size:4.6px;color:#a9b0bb;line-height:1.25;white-space:nowrap;">zo<br>17</div><div style="position:absolute;left:14px;top:318.1px;font-size:6.1px;font-weight:700;color:#14223f;line-height:1.08;white-space:nowrap;letter-spacing:-0.15px;">Check hotelbar en gimmicks<br>The Branding Club</div><div style="position:absolute;left:0px;top:332.70000000000005px;width:86px;height:1.3px;background:#5a6070"></div><div style="position:absolute;left:58px;top:332.70000000000005px;font-size:20px;font-weight:700;color:#dde4ec;width:26px;text-align:right;line-height:1;letter-spacing:-0.5px;">34</div><div style="position:absolute;left:3px;top:337.20000000000005px;font-size:4.6px;color:#a9b0bb;line-height:1.25;white-space:nowrap;">ma<br>18</div><div style="position:absolute;left:14px;top:339.70000000000005px;font-size:6.1px;font-weight:700;color:#14223f;line-height:1.08;white-space:nowrap;letter-spacing:-0.15px;">Resultaten vs doelstellingen</div><div style="position:absolute;left:0px;top:352.8px;width:86px;height:0.8px;background:#8d94a0"></div><div style="position:absolute;left:3px;top:356.8px;font-size:4.6px;color:#a9b0bb;line-height:1.25;white-space:nowrap;">di<br>19</div><div style="position:absolute;left:14px;top:357.3px;font-size:6.1px;font-weight:700;color:#14223f;line-height:1.08;white-space:nowrap;letter-spacing:-0.15px;">Horecabeurs Goes<br>Bureau de Wit</div><div style="position:absolute;left:0px;top:372.40000000000003px;width:86px;height:0.8px;background:#8d94a0"></div><div style="position:absolute;left:3px;top:376.40000000000003px;font-size:4.6px;color:#a9b0bb;line-height:1.25;white-space:nowrap;">wo<br>20</div><div style="position:absolute;left:14px;top:376.90000000000003px;font-size:6.1px;font-weight:700;color:#14223f;line-height:1.08;white-space:nowrap;letter-spacing:-0.15px;">Horecabeurs Goes<br>Bureau de Wit</div><div style="position:absolute;left:0px;top:392.0px;width:86px;height:0.8px;background:#8d94a0"></div><div style="position:absolute;left:3px;top:396.0px;font-size:4.6px;color:#a9b0bb;line-height:1.25;white-space:nowrap;">do<br>21</div><div style="position:absolute;left:14px;top:396.5px;font-size:6.1px;font-weight:700;color:#14223f;line-height:1.08;white-space:nowrap;letter-spacing:-0.15px;">Conceptupdate najaar:<br>offertes opvragen</div><div style="position:absolute;left:0px;top:411.6px;width:86px;height:0.8px;background:#8d94a0"></div><div style="position:absolute;left:3px;top:415.6px;font-size:4.6px;color:#a9b0bb;line-height:1.25;white-space:nowrap;">vr<br>22</div><div style="position:absolute;left:14px;top:416.1px;font-size:6.1px;font-weight:700;color:#14223f;line-height:1.08;white-space:nowrap;letter-spacing:-0.15px;">Evaluatie<br>zomerseizoen</div><div style="position:absolute;left:0px;top:431.20000000000005px;width:86px;height:0.8px;background:#8d94a0"></div><div style="position:absolute;left:3px;top:435.20000000000005px;font-size:4.6px;color:#a9b0bb;line-height:1.25;white-space:nowrap;">za<br>23</div><div style="position:absolute;left:14px;top:437.70000000000005px;font-size:6.1px;font-weight:700;color:#14223f;line-height:1.08;white-space:nowrap;letter-spacing:-0.15px;">Stocken</div><div style="position:absolute;left:0px;top:450.8px;width:86px;height:0.8px;background:#8d94a0"></div><div style="position:absolute;left:3px;top:454.8px;font-size:4.6px;color:#a9b0bb;line-height:1.25;white-space:nowrap;">zo<br>24</div><div style="position:absolute;left:14px;top:455.3px;font-size:6.1px;font-weight:700;color:#14223f;line-height:1.08;white-space:nowrap;letter-spacing:-0.15px;">Kickback leveranciers<br>Resultaten vs doelstellingen</div><div style="position:absolute;left:0px;top:469.90000000000003px;width:86px;height:1.3px;background:#5a6070"></div><div style="position:absolute;left:58px;top:469.90000000000003px;font-size:20px;font-weight:700;color:#dde4ec;width:26px;text-align:right;line-height:1;letter-spacing:-0.5px;">35</div><div style="position:absolute;left:3px;top:474.40000000000003px;font-size:4.6px;color:#a9b0bb;line-height:1.25;white-space:nowrap;">ma<br>25</div><div style="position:absolute;left:14px;top:474.90000000000003px;font-size:6.1px;font-weight:700;color:#14223f;line-height:1.08;white-space:nowrap;letter-spacing:-0.15px;">Kickback leveranciers<br>Resultaten vs doelstellingen</div><div style="position:absolute;left:0px;top:490.00000000000006px;width:86px;height:0.8px;background:#8d94a0"></div><div style="position:absolute;left:3px;top:494.00000000000006px;font-size:4.6px;color:#a9b0bb;line-height:1.25;white-space:nowrap;">di<br>26</div><div style="position:absolute;left:14px;top:494.50000000000006px;font-size:6.1px;font-weight:700;color:#14223f;line-height:1.08;white-space:nowrap;letter-spacing:-0.15px;">Planning groot onderhoud<br>Skeletrooster 2024 af</div><div style="position:absolute;left:0px;top:509.6px;width:86px;height:0.8px;background:#8d94a0"></div><div style="position:absolute;left:3px;top:513.6px;font-size:4.6px;color:#a9b0bb;line-height:1.25;white-space:nowrap;">wo<br>27</div><div style="position:absolute;left:14px;top:514.1px;font-size:6.1px;font-weight:700;color:#14223f;line-height:1.08;white-space:nowrap;letter-spacing:-0.15px;">Analyse: kwaliteit,<br>inkoop, loonkosten</div><div style="position:absolute;left:0px;top:529.2px;width:86px;height:0.8px;background:#8d94a0"></div><div style="position:absolute;left:3px;top:533.2px;font-size:4.6px;color:#a9b0bb;line-height:1.25;white-space:nowrap;">do<br>28</div><div style="position:absolute;left:14px;top:533.7px;font-size:6.1px;font-weight:700;color:#14223f;line-height:1.08;white-space:nowrap;letter-spacing:-0.15px;">Tickets bestellen kick off<br>Wouter Verkerk op 5 april</div><div style="position:absolute;left:0px;top:548.8000000000001px;width:86px;height:0.8px;background:#8d94a0"></div><div style="position:absolute;left:3px;top:552.8000000000001px;font-size:4.6px;color:#a9b0bb;line-height:1.25;white-space:nowrap;">vr<br>29</div><div style="position:absolute;left:14px;top:555.3000000000001px;font-size:6.1px;font-weight:700;color:#14223f;line-height:1.08;white-space:nowrap;letter-spacing:-0.15px;">Training gastvrijheid</div><div style="position:absolute;left:0px;top:568.4000000000001px;width:86px;height:0.8px;background:#8d94a0"></div><div style="position:absolute;left:3px;top:572.4000000000001px;font-size:4.6px;color:#a9b0bb;line-height:1.25;white-space:nowrap;">za<br>30</div><div style="position:absolute;left:14px;top:574.9000000000001px;font-size:6.1px;font-weight:700;color:#14223f;line-height:1.08;white-space:nowrap;letter-spacing:-0.15px;">Training gastvrijheid</div><div style="position:absolute;left:0px;top:588.0px;width:86px;height:0.8px;background:#8d94a0"></div><div style="position:absolute;left:3px;top:592.0px;font-size:4.6px;color:#a9b0bb;line-height:1.25;white-space:nowrap;">zo<br>31</div><div style="position:absolute;left:14px;top:592.5px;font-size:6.1px;font-weight:700;color:#14223f;line-height:1.08;white-space:nowrap;letter-spacing:-0.15px;">Uppedboon<br>terrasaankleding</div></div><div style="position:absolute;left:762.0px;top:52.8px;font-size:16.3px;font-weight:700;color:#0f2a52;white-space:nowrap;letter-spacing:-0.2px;">September</div><div style="position:absolute;left:763.0px;top:80.3px;width:86px;height:588.0px;border:0.8px solid #6a7080;box-sizing:border-box;overflow:hidden"><div style="position:absolute;left:58px;top:-0.5px;font-size:20px;font-weight:700;color:#dde4ec;width:26px;text-align:right;line-height:1;letter-spacing:-0.5px;">36</div><div style="position:absolute;left:3px;top:4.0px;font-size:4.6px;color:#a9b0bb;line-height:1.25;white-space:nowrap;">ma<br>01</div><div style="position:absolute;left:14px;top:4.5px;font-size:6.1px;font-weight:700;color:#14223f;line-height:1.08;white-space:nowrap;letter-spacing:-0.15px;">Conceptupdate zomer:<br>signaturen bepalen</div><div style="position:absolute;left:0px;top:19.6px;width:86px;height:0.8px;background:#8d94a0"></div><div style="position:absolute;left:3px;top:23.6px;font-size:4.6px;color:#a9b0bb;line-height:1.25;white-space:nowrap;">di<br>02</div><div style="position:absolute;left:14px;top:24.1px;font-size:6.1px;font-weight:700;color:#14223f;line-height:1.08;white-space:nowrap;letter-spacing:-0.15px;">Kick off terrasseizoen<br>Wouter Verkerk</div><div style="position:absolute;left:0px;top:39.2px;width:86px;height:0.8px;background:#8d94a0"></div><div style="position:absolute;left:3px;top:43.2px;font-size:4.6px;color:#a9b0bb;line-height:1.25;white-space:nowrap;">wo<br>03</div><div style="position:absolute;left:14px;top:43.7px;font-size:6.1px;font-weight:700;color:#14223f;line-height:1.08;white-space:nowrap;letter-spacing:-0.15px;">Fotoshoot<br>terras inplannen</div><div style="position:absolute;left:0px;top:58.800000000000004px;width:86px;height:0.8px;background:#8d94a0"></div><div style="position:absolute;left:3px;top:62.800000000000004px;font-size:4.6px;color:#a9b0bb;line-height:1.25;white-space:nowrap;">do<br>04</div><div style="position:absolute;left:14px;top:63.300000000000004px;font-size:6.1px;font-weight:700;color:#14223f;line-height:1.08;white-space:nowrap;letter-spacing:-0.15px;">Conceptupdate najaar:<br>offertes opvragen</div><div style="position:absolute;left:0px;top:78.4px;width:86px;height:0.8px;background:#8d94a0"></div><div style="position:absolute;left:3px;top:82.4px;font-size:4.6px;color:#a9b0bb;line-height:1.25;white-space:nowrap;">vr<br>05</div><div style="position:absolute;left:14px;top:82.9px;font-size:6.1px;font-weight:700;color:#14223f;line-height:1.08;white-space:nowrap;letter-spacing:-0.15px;">Conceptupdate najaar:<br>offertes opvragen</div><div style="position:absolute;left:0px;top:98.0px;width:86px;height:0.8px;background:#8d94a0"></div><div style="position:absolute;left:3px;top:102.0px;font-size:4.6px;color:#a9b0bb;line-height:1.25;white-space:nowrap;">za<br>06</div><div style="position:absolute;left:14px;top:102.5px;font-size:6.1px;font-weight:700;color:#14223f;line-height:1.08;white-space:nowrap;letter-spacing:-0.15px;">Bestellen kaartjes terras<br>Carnaval</div><div style="position:absolute;left:0px;top:117.60000000000001px;width:86px;height:0.8px;background:#8d94a0"></div><div style="position:absolute;left:3px;top:121.60000000000001px;font-size:4.6px;color:#a9b0bb;line-height:1.25;white-space:nowrap;">zo<br>07</div><div style="position:absolute;left:14px;top:122.10000000000001px;font-size:6.1px;font-weight:700;color:#14223f;line-height:1.08;white-space:nowrap;letter-spacing:-0.15px;">Onderhoud<br>keuken- en barapparatuur</div><div style="position:absolute;left:0px;top:136.70000000000002px;width:86px;height:1.3px;background:#5a6070"></div><div style="position:absolute;left:58px;top:136.70000000000002px;font-size:20px;font-weight:700;color:#dde4ec;width:26px;text-align:right;line-height:1;letter-spacing:-0.5px;">37</div><div style="position:absolute;left:3px;top:141.20000000000002px;font-size:4.6px;color:#a9b0bb;line-height:1.25;white-space:nowrap;">ma<br>08</div><div style="position:absolute;left:14px;top:141.70000000000002px;font-size:6.1px;font-weight:700;color:#14223f;line-height:1.08;white-space:nowrap;letter-spacing:-0.15px;">Conceptupdate voorjaar:<br>planning maken</div><div style="position:absolute;left:0px;top:156.8px;width:86px;height:0.8px;background:#8d94a0"></div><div style="position:absolute;left:3px;top:160.8px;font-size:4.6px;color:#a9b0bb;line-height:1.25;white-space:nowrap;">di<br>09</div><div style="position:absolute;left:14px;top:161.3px;font-size:6.1px;font-weight:700;color:#14223f;line-height:1.08;white-space:nowrap;letter-spacing:-0.15px;">Planning groot onderhoud<br>Skeletrooster 2024 af</div><div style="position:absolute;left:0px;top:176.4px;width:86px;height:0.8px;background:#8d94a0"></div><div style="position:absolute;left:3px;top:180.4px;font-size:4.6px;color:#a9b0bb;line-height:1.25;white-space:nowrap;">wo<br>10</div><div style="position:absolute;left:14px;top:180.9px;font-size:6.1px;font-weight:700;color:#14223f;line-height:1.08;white-space:nowrap;letter-spacing:-0.15px;">Planning groot onderhoud<br>Skeletrooster 2024 af</div><div style="position:absolute;left:0px;top:196.0px;width:86px;height:0.8px;background:#8d94a0"></div><div style="position:absolute;left:3px;top:200.0px;font-size:4.6px;color:#a9b0bb;line-height:1.25;white-space:nowrap;">do<br>11</div><div style="position:absolute;left:14px;top:200.5px;font-size:6.1px;font-weight:700;color:#14223f;line-height:1.08;white-space:nowrap;letter-spacing:-0.15px;">Meten personeels-<br>tevredenheid</div><div style="position:absolute;left:0px;top:215.60000000000002px;width:86px;height:0.8px;background:#8d94a0"></div><div style="position:absolute;left:3px;top:219.60000000000002px;font-size:4.6px;color:#a9b0bb;line-height:1.25;white-space:nowrap;">vr<br>12</div><div style="position:absolute;left:14px;top:220.10000000000002px;font-size:6.1px;font-weight:700;color:#14223f;line-height:1.08;white-space:nowrap;letter-spacing:-0.15px;">Training Koffie,<br>Thee &amp; chocolade</div><div style="position:absolute;left:0px;top:235.20000000000002px;width:86px;height:0.8px;background:#8d94a0"></div><div style="position:absolute;left:3px;top:239.20000000000002px;font-size:4.6px;color:#a9b0bb;line-height:1.25;white-space:nowrap;">za<br>13</div><div style="position:absolute;left:14px;top:239.70000000000002px;font-size:6.1px;font-weight:700;color:#14223f;line-height:1.08;white-space:nowrap;letter-spacing:-0.15px;">Conceptupdate zomer:<br>signaturen bepalen</div><div style="position:absolute;left:0px;top:254.8px;width:86px;height:0.8px;background:#8d94a0"></div><div style="position:absolute;left:3px;top:258.8px;font-size:4.6px;color:#a9b0bb;line-height:1.25;white-space:nowrap;">zo<br>14</div><div style="position:absolute;left:14px;top:261.3px;font-size:6.1px;font-weight:700;color:#14223f;line-height:1.08;white-space:nowrap;letter-spacing:-0.15px;">Stocken</div><div style="position:absolute;left:0px;top:273.90000000000003px;width:86px;height:1.3px;background:#5a6070"></div><div style="position:absolute;left:58px;top:273.90000000000003px;font-size:20px;font-weight:700;color:#dde4ec;width:26px;text-align:right;line-height:1;letter-spacing:-0.5px;">38</div><div style="position:absolute;left:3px;top:278.40000000000003px;font-size:4.6px;color:#a9b0bb;line-height:1.25;white-space:nowrap;">ma<br>15</div><div style="position:absolute;left:14px;top:278.90000000000003px;font-size:6.1px;font-weight:700;color:#14223f;line-height:1.08;white-space:nowrap;letter-spacing:-0.15px;">Uppedboon<br>terrasaankleding</div><div style="position:absolute;left:0px;top:294.0px;width:86px;height:0.8px;background:#8d94a0"></div><div style="position:absolute;left:3px;top:298.0px;font-size:4.6px;color:#a9b0bb;line-height:1.25;white-space:nowrap;">di<br>16</div><div style="position:absolute;left:14px;top:298.5px;font-size:6.1px;font-weight:700;color:#14223f;line-height:1.08;white-space:nowrap;letter-spacing:-0.15px;">Maandelijkse<br>voortgangsgesprekken</div><div style="position:absolute;left:0px;top:313.6px;width:86px;height:0.8px;background:#8d94a0"></div><div style="position:absolute;left:3px;top:317.6px;font-size:4.6px;color:#a9b0bb;line-height:1.25;white-space:nowrap;">wo<br>17</div><div style="position:absolute;left:14px;top:318.1px;font-size:6.1px;font-weight:700;color:#14223f;line-height:1.08;white-space:nowrap;letter-spacing:-0.15px;">Nieuwsbrief<br>vaderdag special</div><div style="position:absolute;left:0px;top:333.20000000000005px;width:86px;height:0.8px;background:#8d94a0"></div><div style="position:absolute;left:3px;top:337.20000000000005px;font-size:4.6px;color:#a9b0bb;line-height:1.25;white-space:nowrap;">do<br>18</div><div style="position:absolute;left:14px;top:337.70000000000005px;font-size:6.1px;font-weight:700;color:#14223f;line-height:1.08;white-space:nowrap;letter-spacing:-0.15px;">Bestellen kaartjes terras<br>Carnaval</div><div style="position:absolute;left:0px;top:352.8px;width:86px;height:0.8px;background:#8d94a0"></div><div style="position:absolute;left:3px;top:356.8px;font-size:4.6px;color:#a9b0bb;line-height:1.25;white-space:nowrap;">vr<br>19</div><div style="position:absolute;left:14px;top:357.3px;font-size:6.1px;font-weight:700;color:#14223f;line-height:1.08;white-space:nowrap;letter-spacing:-0.15px;">Conceptupdate winter:<br>magazijn &amp; kelder</div><div style="position:absolute;left:0px;top:372.40000000000003px;width:86px;height:0.8px;background:#8d94a0"></div><div style="position:absolute;left:3px;top:376.40000000000003px;font-size:4.6px;color:#a9b0bb;line-height:1.25;white-space:nowrap;">za<br>20</div><div style="position:absolute;left:14px;top:376.90000000000003px;font-size:6.1px;font-weight:700;color:#14223f;line-height:1.08;white-space:nowrap;letter-spacing:-0.15px;">Conceptupdate winter:<br>magazijn &amp; kelder</div><div style="position:absolute;left:0px;top:392.0px;width:86px;height:0.8px;background:#8d94a0"></div><div style="position:absolute;left:3px;top:396.0px;font-size:4.6px;color:#a9b0bb;line-height:1.25;white-space:nowrap;">zo<br>21</div><div style="position:absolute;left:14px;top:396.5px;font-size:6.1px;font-weight:700;color:#14223f;line-height:1.08;white-space:nowrap;letter-spacing:-0.15px;">Welke leverancier levert<br>ook inspiratie?</div><div style="position:absolute;left:0px;top:411.1px;width:86px;height:1.3px;background:#5a6070"></div><div style="position:absolute;left:58px;top:411.1px;font-size:20px;font-weight:700;color:#dde4ec;width:26px;text-align:right;line-height:1;letter-spacing:-0.5px;">39</div><div style="position:absolute;left:3px;top:415.6px;font-size:4.6px;color:#a9b0bb;line-height:1.25;white-space:nowrap;">ma<br>22</div><div style="position:absolute;left:14px;top:418.1px;font-size:6.1px;font-weight:700;color:#14223f;line-height:1.08;white-space:nowrap;letter-spacing:-0.15px;">Stocken</div><div style="position:absolute;left:0px;top:431.20000000000005px;width:86px;height:0.8px;background:#8d94a0"></div><div style="position:absolute;left:3px;top:435.20000000000005px;font-size:4.6px;color:#a9b0bb;line-height:1.25;white-space:nowrap;">di<br>23</div><div style="position:absolute;left:14px;top:435.70000000000005px;font-size:6.1px;font-weight:700;color:#14223f;line-height:1.08;white-space:nowrap;letter-spacing:-0.15px;">Meten personeels-<br>tevredenheid</div><div style="position:absolute;left:0px;top:450.8px;width:86px;height:0.8px;background:#8d94a0"></div><div style="position:absolute;left:3px;top:454.8px;font-size:4.6px;color:#a9b0bb;line-height:1.25;white-space:nowrap;">wo<br>24</div><div style="position:absolute;left:14px;top:455.3px;font-size:6.1px;font-weight:700;color:#14223f;line-height:1.08;white-space:nowrap;letter-spacing:-0.15px;">Horecava<br>Valentijn special rond</div><div style="position:absolute;left:0px;top:470.40000000000003px;width:86px;height:0.8px;background:#8d94a0"></div><div style="position:absolute;left:3px;top:474.40000000000003px;font-size:4.6px;color:#a9b0bb;line-height:1.25;white-space:nowrap;">do<br>25</div><div style="position:absolute;left:14px;top:474.90000000000003px;font-size:6.1px;font-weight:700;color:#14223f;line-height:1.08;white-space:nowrap;letter-spacing:-0.15px;">Horecava<br>Valentijn special rond</div><div style="position:absolute;left:0px;top:490.00000000000006px;width:86px;height:0.8px;background:#8d94a0"></div><div style="position:absolute;left:3px;top:494.00000000000006px;font-size:4.6px;color:#a9b0bb;line-height:1.25;white-space:nowrap;">vr<br>26</div><div style="position:absolute;left:14px;top:494.50000000000006px;font-size:6.1px;font-weight:700;color:#14223f;line-height:1.08;white-space:nowrap;letter-spacing:-0.15px;">Conceptupdate voorjaar:<br>servies &amp; disposables</div><div style="position:absolute;left:0px;top:509.6px;width:86px;height:0.8px;background:#8d94a0"></div><div style="position:absolute;left:3px;top:513.6px;font-size:4.6px;color:#a9b0bb;line-height:1.25;white-space:nowrap;">za<br>27</div><div style="position:absolute;left:14px;top:514.1px;font-size:6.1px;font-weight:700;color:#14223f;line-height:1.08;white-space:nowrap;letter-spacing:-0.15px;">Prijsafspraken voor<br>minimaal kwartaal vast</div><div style="position:absolute;left:0px;top:529.2px;width:86px;height:0.8px;background:#8d94a0"></div><div style="position:absolute;left:3px;top:533.2px;font-size:4.6px;color:#a9b0bb;line-height:1.25;white-space:nowrap;">zo<br>28</div><div style="position:absolute;left:14px;top:533.7px;font-size:6.1px;font-weight:700;color:#14223f;line-height:1.08;white-space:nowrap;letter-spacing:-0.15px;">Maandelijkse<br>voortgangsgesprekken</div><div style="position:absolute;left:0px;top:548.3000000000001px;width:86px;height:1.3px;background:#5a6070"></div><div style="position:absolute;left:58px;top:548.3000000000001px;font-size:20px;font-weight:700;color:#dde4ec;width:26px;text-align:right;line-height:1;letter-spacing:-0.5px;">40</div><div style="position:absolute;left:3px;top:552.8000000000001px;font-size:4.6px;color:#a9b0bb;line-height:1.25;white-space:nowrap;">ma<br>29</div><div style="position:absolute;left:14px;top:555.3000000000001px;font-size:6.1px;font-weight:700;color:#14223f;line-height:1.08;white-space:nowrap;letter-spacing:-0.15px;">Resultaten vs doelstellingen</div><div style="position:absolute;left:0px;top:568.4000000000001px;width:86px;height:0.8px;background:#8d94a0"></div><div style="position:absolute;left:3px;top:572.4000000000001px;font-size:4.6px;color:#a9b0bb;line-height:1.25;white-space:nowrap;">di<br>30</div><div style="position:absolute;left:14px;top:574.9000000000001px;font-size:6.1px;font-weight:700;color:#14223f;line-height:1.08;white-space:nowrap;letter-spacing:-0.15px;">Resultaten vs doelstellingen</div></div><div style="position:absolute;left:853.5px;top:92.0px;font-size:16.3px;font-weight:700;color:#0f2a52;white-space:nowrap;letter-spacing:-0.2px;">Oktober</div><div style="position:absolute;left:854.5px;top:119.5px;width:86px;height:607.6px;border:0.8px solid #6a7080;box-sizing:border-box;overflow:hidden"><div style="position:absolute;left:58px;top:-0.5px;font-size:20px;font-weight:700;color:#dde4ec;width:26px;text-align:right;line-height:1;letter-spacing:-0.5px;">40</div><div style="position:absolute;left:3px;top:4.0px;font-size:4.6px;color:#a9b0bb;line-height:1.25;white-space:nowrap;">wo<br>01</div><div style="position:absolute;left:14px;top:4.5px;font-size:6.1px;font-weight:700;color:#14223f;line-height:1.08;white-space:nowrap;letter-spacing:-0.15px;">Afspraak inplannen<br>accountmanager Bidfood</div><div style="position:absolute;left:0px;top:19.6px;width:86px;height:0.8px;background:#8d94a0"></div><div style="position:absolute;left:3px;top:23.6px;font-size:4.6px;color:#a9b0bb;line-height:1.25;white-space:nowrap;">do<br>02</div><div style="position:absolute;left:14px;top:24.1px;font-size:6.1px;font-weight:700;color:#14223f;line-height:1.08;white-space:nowrap;letter-spacing:-0.15px;">Horecabeurs Goes<br>Bureau de Wit</div><div style="position:absolute;left:0px;top:39.2px;width:86px;height:0.8px;background:#8d94a0"></div><div style="position:absolute;left:3px;top:43.2px;font-size:4.6px;color:#a9b0bb;line-height:1.25;white-space:nowrap;">vr<br>03</div><div style="position:absolute;left:14px;top:43.7px;font-size:6.1px;font-weight:700;color:#14223f;line-height:1.08;white-space:nowrap;letter-spacing:-0.15px;">Evaluatie<br>zomerseizoen</div><div style="position:absolute;left:0px;top:58.800000000000004px;width:86px;height:0.8px;background:#8d94a0"></div><div style="position:absolute;left:3px;top:62.800000000000004px;font-size:4.6px;color:#a9b0bb;line-height:1.25;white-space:nowrap;">za<br>04</div><div style="position:absolute;left:14px;top:63.300000000000004px;font-size:6.1px;font-weight:700;color:#14223f;line-height:1.08;white-space:nowrap;letter-spacing:-0.15px;">Welke leverancier levert<br>ook inspiratie?</div><div style="position:absolute;left:0px;top:78.4px;width:86px;height:0.8px;background:#8d94a0"></div><div style="position:absolute;left:3px;top:82.4px;font-size:4.6px;color:#a9b0bb;line-height:1.25;white-space:nowrap;">zo<br>05</div><div style="position:absolute;left:14px;top:84.9px;font-size:6.1px;font-weight:700;color:#14223f;line-height:1.08;white-space:nowrap;letter-spacing:-0.15px;">Stocken</div><div style="position:absolute;left:0px;top:97.5px;width:86px;height:1.3px;background:#5a6070"></div><div style="position:absolute;left:58px;top:97.5px;font-size:20px;font-weight:700;color:#dde4ec;width:26px;text-align:right;line-height:1;letter-spacing:-0.5px;">41</div><div style="position:absolute;left:3px;top:102.0px;font-size:4.6px;color:#a9b0bb;line-height:1.25;white-space:nowrap;">ma<br>06</div><div style="position:absolute;left:14px;top:102.5px;font-size:6.1px;font-weight:700;color:#14223f;line-height:1.08;white-space:nowrap;letter-spacing:-0.15px;">Meten personeels-<br>tevredenheid</div><div style="position:absolute;left:0px;top:117.60000000000001px;width:86px;height:0.8px;background:#8d94a0"></div><div style="position:absolute;left:3px;top:121.60000000000001px;font-size:4.6px;color:#a9b0bb;line-height:1.25;white-space:nowrap;">di<br>07</div><div style="position:absolute;left:14px;top:122.10000000000001px;font-size:6.1px;font-weight:700;color:#14223f;line-height:1.08;white-space:nowrap;letter-spacing:-0.15px;">Kickback leveranciers<br>Resultaten vs doelstellingen</div><div style="position:absolute;left:0px;top:137.20000000000002px;width:86px;height:0.8px;background:#8d94a0"></div><div style="position:absolute;left:3px;top:141.20000000000002px;font-size:4.6px;color:#a9b0bb;line-height:1.25;white-space:nowrap;">wo<br>08</div><div style="position:absolute;left:14px;top:141.70000000000002px;font-size:6.1px;font-weight:700;color:#14223f;line-height:1.08;white-space:nowrap;letter-spacing:-0.15px;">Analyse: kwaliteit,<br>inkoop, loonkosten</div><div style="position:absolute;left:0px;top:156.8px;width:86px;height:0.8px;background:#8d94a0"></div><div style="position:absolute;left:3px;top:160.8px;font-size:4.6px;color:#a9b0bb;line-height:1.25;white-space:nowrap;">do<br>09</div><div style="position:absolute;left:14px;top:161.3px;font-size:6.1px;font-weight:700;color:#14223f;line-height:1.08;white-space:nowrap;letter-spacing:-0.15px;">Conceptupdate voorjaar:<br>servies &amp; disposables</div><div style="position:absolute;left:0px;top:176.4px;width:86px;height:0.8px;background:#8d94a0"></div><div style="position:absolute;left:3px;top:180.4px;font-size:4.6px;color:#a9b0bb;line-height:1.25;white-space:nowrap;">vr<br>10</div><div style="position:absolute;left:14px;top:180.9px;font-size:6.1px;font-weight:700;color:#14223f;line-height:1.08;white-space:nowrap;letter-spacing:-0.15px;">Conceptupdate voorjaar:<br>servies &amp; disposables</div><div style="position:absolute;left:0px;top:196.0px;width:86px;height:0.8px;background:#8d94a0"></div><div style="position:absolute;left:3px;top:200.0px;font-size:4.6px;color:#a9b0bb;line-height:1.25;white-space:nowrap;">za<br>11</div><div style="position:absolute;left:14px;top:200.5px;font-size:6.1px;font-weight:700;color:#14223f;line-height:1.08;white-space:nowrap;letter-spacing:-0.15px;">Inventariseren<br>personeelswerving</div><div style="position:absolute;left:0px;top:215.60000000000002px;width:86px;height:0.8px;background:#8d94a0"></div><div style="position:absolute;left:3px;top:219.60000000000002px;font-size:4.6px;color:#a9b0bb;line-height:1.25;white-space:nowrap;">zo<br>12</div><div style="position:absolute;left:14px;top:222.10000000000002px;font-size:6.1px;font-weight:700;color:#14223f;line-height:1.08;white-space:nowrap;letter-spacing:-0.15px;">Training gastvrijheid</div><div style="position:absolute;left:0px;top:234.70000000000002px;width:86px;height:1.3px;background:#5a6070"></div><div style="position:absolute;left:58px;top:234.70000000000002px;font-size:20px;font-weight:700;color:#dde4ec;width:26px;text-align:right;line-height:1;letter-spacing:-0.5px;">42</div><div style="position:absolute;left:3px;top:239.20000000000002px;font-size:4.6px;color:#a9b0bb;line-height:1.25;white-space:nowrap;">ma<br>13</div><div style="position:absolute;left:14px;top:239.70000000000002px;font-size:6.1px;font-weight:700;color:#14223f;line-height:1.08;white-space:nowrap;letter-spacing:-0.15px;">Afspraak inplannen<br>accountmanager Bidfood</div><div style="position:absolute;left:0px;top:254.8px;width:86px;height:0.8px;background:#8d94a0"></div><div style="position:absolute;left:3px;top:258.8px;font-size:4.6px;color:#a9b0bb;line-height:1.25;white-space:nowrap;">di<br>14</div><div style="position:absolute;left:14px;top:259.3px;font-size:6.1px;font-weight:700;color:#14223f;line-height:1.08;white-space:nowrap;letter-spacing:-0.15px;">Fotoshoot<br>terras inplannen</div><div style="position:absolute;left:0px;top:274.40000000000003px;width:86px;height:0.8px;background:#8d94a0"></div><div style="position:absolute;left:3px;top:278.40000000000003px;font-size:4.6px;color:#a9b0bb;line-height:1.25;white-space:nowrap;">wo<br>15</div><div style="position:absolute;left:14px;top:278.90000000000003px;font-size:6.1px;font-weight:700;color:#14223f;line-height:1.08;white-space:nowrap;letter-spacing:-0.15px;">Fotoshoot<br>terras inplannen</div><div style="position:absolute;left:0px;top:294.0px;width:86px;height:0.8px;background:#8d94a0"></div><div style="position:absolute;left:3px;top:298.0px;font-size:4.6px;color:#a9b0bb;line-height:1.25;white-space:nowrap;">do<br>16</div><div style="position:absolute;left:14px;top:298.5px;font-size:6.1px;font-weight:700;color:#14223f;line-height:1.08;white-space:nowrap;letter-spacing:-0.15px;">Google jezelf, check<br>vermeldingen</div><div style="position:absolute;left:0px;top:313.6px;width:86px;height:0.8px;background:#8d94a0"></div><div style="position:absolute;left:3px;top:317.6px;font-size:4.6px;color:#a9b0bb;line-height:1.25;white-space:nowrap;">vr<br>17</div><div style="position:absolute;left:14px;top:318.1px;font-size:6.1px;font-weight:700;color:#14223f;line-height:1.08;white-space:nowrap;letter-spacing:-0.15px;">Inspiratiesessie<br>concept zomer</div><div style="position:absolute;left:0px;top:333.20000000000005px;width:86px;height:0.8px;background:#8d94a0"></div><div style="position:absolute;left:3px;top:337.20000000000005px;font-size:4.6px;color:#a9b0bb;line-height:1.25;white-space:nowrap;">za<br>18</div><div style="position:absolute;left:14px;top:337.70000000000005px;font-size:6.1px;font-weight:700;color:#14223f;line-height:1.08;white-space:nowrap;letter-spacing:-0.15px;">Meten personeels-<br>tevredenheid</div><div style="position:absolute;left:0px;top:352.8px;width:86px;height:0.8px;background:#8d94a0"></div><div style="position:absolute;left:3px;top:356.8px;font-size:4.6px;color:#a9b0bb;line-height:1.25;white-space:nowrap;">zo<br>19</div><div style="position:absolute;left:14px;top:357.3px;font-size:6.1px;font-weight:700;color:#14223f;line-height:1.08;white-space:nowrap;letter-spacing:-0.15px;">Conceptupdate voorjaar:<br>planning maken</div><div style="position:absolute;left:0px;top:371.90000000000003px;width:86px;height:1.3px;background:#5a6070"></div><div style="position:absolute;left:58px;top:371.90000000000003px;font-size:20px;font-weight:700;color:#dde4ec;width:26px;text-align:right;line-height:1;letter-spacing:-0.5px;">43</div><div style="position:absolute;left:3px;top:376.40000000000003px;font-size:4.6px;color:#a9b0bb;line-height:1.25;white-space:nowrap;">ma<br>20</div><div style="position:absolute;left:14px;top:376.90000000000003px;font-size:6.1px;font-weight:700;color:#14223f;line-height:1.08;white-space:nowrap;letter-spacing:-0.15px;">Conceptupdate voorjaar:<br>planning maken</div><div style="position:absolute;left:0px;top:392.0px;width:86px;height:0.8px;background:#8d94a0"></div><div style="position:absolute;left:3px;top:396.0px;font-size:4.6px;color:#a9b0bb;line-height:1.25;white-space:nowrap;">di<br>21</div><div style="position:absolute;left:14px;top:396.5px;font-size:6.1px;font-weight:700;color:#14223f;line-height:1.08;white-space:nowrap;letter-spacing:-0.15px;">Conceptupdate voorjaar:<br>calculaties maken</div><div style="position:absolute;left:0px;top:411.6px;width:86px;height:0.8px;background:#8d94a0"></div><div style="position:absolute;left:3px;top:415.6px;font-size:4.6px;color:#a9b0bb;line-height:1.25;white-space:nowrap;">wo<br>22</div><div style="position:absolute;left:14px;top:416.1px;font-size:6.1px;font-weight:700;color:#14223f;line-height:1.08;white-space:nowrap;letter-spacing:-0.15px;">Marketing en specials Q1<br>vastleggen en plannen</div><div style="position:absolute;left:0px;top:431.20000000000005px;width:86px;height:0.8px;background:#8d94a0"></div><div style="position:absolute;left:3px;top:435.20000000000005px;font-size:4.6px;color:#a9b0bb;line-height:1.25;white-space:nowrap;">do<br>23</div><div style="position:absolute;left:14px;top:435.70000000000005px;font-size:6.1px;font-weight:700;color:#14223f;line-height:1.08;white-space:nowrap;letter-spacing:-0.15px;">Inventariseren<br>personeelswerving</div><div style="position:absolute;left:0px;top:450.8px;width:86px;height:0.8px;background:#8d94a0"></div><div style="position:absolute;left:3px;top:454.8px;font-size:4.6px;color:#a9b0bb;line-height:1.25;white-space:nowrap;">vr<br>24</div><div style="position:absolute;left:14px;top:455.3px;font-size:6.1px;font-weight:700;color:#14223f;line-height:1.08;white-space:nowrap;letter-spacing:-0.15px;">Conceptupdate zomer:<br>signaturen bepalen</div><div style="position:absolute;left:0px;top:470.40000000000003px;width:86px;height:0.8px;background:#8d94a0"></div><div style="position:absolute;left:3px;top:474.40000000000003px;font-size:4.6px;color:#a9b0bb;line-height:1.25;white-space:nowrap;">za<br>25</div><div style="position:absolute;left:14px;top:474.90000000000003px;font-size:6.1px;font-weight:700;color:#14223f;line-height:1.08;white-space:nowrap;letter-spacing:-0.15px;">Conceptupdate zomer:<br>signaturen bepalen</div><div style="position:absolute;left:0px;top:490.00000000000006px;width:86px;height:0.8px;background:#8d94a0"></div><div style="position:absolute;left:3px;top:494.00000000000006px;font-size:4.6px;color:#a9b0bb;line-height:1.25;white-space:nowrap;">zo<br>26</div><div style="position:absolute;left:14px;top:494.50000000000006px;font-size:6.1px;font-weight:700;color:#14223f;line-height:1.08;white-space:nowrap;letter-spacing:-0.15px;">Check hotelbar en gimmicks<br>The Branding Club</div><div style="position:absolute;left:0px;top:509.1px;width:86px;height:1.3px;background:#5a6070"></div><div style="position:absolute;left:58px;top:509.1px;font-size:20px;font-weight:700;color:#dde4ec;width:26px;text-align:right;line-height:1;letter-spacing:-0.5px;">44</div><div style="position:absolute;left:3px;top:513.6px;font-size:4.6px;color:#a9b0bb;line-height:1.25;white-space:nowrap;">ma<br>27</div><div style="position:absolute;left:14px;top:514.1px;font-size:6.1px;font-weight:700;color:#14223f;line-height:1.08;white-space:nowrap;letter-spacing:-0.15px;">Conceptupdate zomer:<br>proefkeuken</div><div style="position:absolute;left:0px;top:529.2px;width:86px;height:0.8px;background:#8d94a0"></div><div style="position:absolute;left:3px;top:533.2px;font-size:4.6px;color:#a9b0bb;line-height:1.25;white-space:nowrap;">di<br>28</div><div style="position:absolute;left:14px;top:533.7px;font-size:6.1px;font-weight:700;color:#14223f;line-height:1.08;white-space:nowrap;letter-spacing:-0.15px;">Google jezelf, check<br>vermeldingen</div><div style="position:absolute;left:0px;top:548.8000000000001px;width:86px;height:0.8px;background:#8d94a0"></div><div style="position:absolute;left:3px;top:552.8000000000001px;font-size:4.6px;color:#a9b0bb;line-height:1.25;white-space:nowrap;">wo<br>29</div><div style="position:absolute;left:14px;top:553.3000000000001px;font-size:6.1px;font-weight:700;color:#14223f;line-height:1.08;white-space:nowrap;letter-spacing:-0.15px;">Bestellen kaartjes terras<br>Carnaval</div><div style="position:absolute;left:0px;top:568.4000000000001px;width:86px;height:0.8px;background:#8d94a0"></div><div style="position:absolute;left:3px;top:572.4000000000001px;font-size:4.6px;color:#a9b0bb;line-height:1.25;white-space:nowrap;">do<br>30</div><div style="position:absolute;left:14px;top:572.9000000000001px;font-size:6.1px;font-weight:700;color:#14223f;line-height:1.08;white-space:nowrap;letter-spacing:-0.15px;">Bestellen kaartjes terras<br>Carnaval</div><div style="position:absolute;left:0px;top:588.0px;width:86px;height:0.8px;background:#8d94a0"></div><div style="position:absolute;left:3px;top:592.0px;font-size:4.6px;color:#a9b0bb;line-height:1.25;white-space:nowrap;">vr<br>31</div><div style="position:absolute;left:14px;top:592.5px;font-size:6.1px;font-weight:700;color:#14223f;line-height:1.08;white-space:nowrap;letter-spacing:-0.15px;">Evaluatie<br>zomerseizoen</div></div><div style="position:absolute;left:945.0px;top:150.8px;font-size:16.3px;font-weight:700;color:#0f2a52;white-space:nowrap;letter-spacing:-0.2px;">November</div><div style="position:absolute;left:946.0px;top:178.3px;width:86px;height:588.0px;border:0.8px solid #6a7080;box-sizing:border-box;overflow:hidden"><div style="position:absolute;left:58px;top:-0.5px;font-size:20px;font-weight:700;color:#dde4ec;width:26px;text-align:right;line-height:1;letter-spacing:-0.5px;">44</div><div style="position:absolute;left:3px;top:4.0px;font-size:4.6px;color:#a9b0bb;line-height:1.25;white-space:nowrap;">za<br>01</div><div style="position:absolute;left:14px;top:6.5px;font-size:6.1px;font-weight:700;color:#14223f;line-height:1.08;white-space:nowrap;letter-spacing:-0.15px;">Koningsdag special rond</div><div style="position:absolute;left:0px;top:19.6px;width:86px;height:0.8px;background:#8d94a0"></div><div style="position:absolute;left:3px;top:23.6px;font-size:4.6px;color:#a9b0bb;line-height:1.25;white-space:nowrap;">zo<br>02</div><div style="position:absolute;left:14px;top:24.1px;font-size:6.1px;font-weight:700;color:#14223f;line-height:1.08;white-space:nowrap;letter-spacing:-0.15px;">Conceptupdate winter:<br>magazijn &amp; kelder</div><div style="position:absolute;left:0px;top:38.7px;width:86px;height:1.3px;background:#5a6070"></div><div style="position:absolute;left:58px;top:38.7px;font-size:20px;font-weight:700;color:#dde4ec;width:26px;text-align:right;line-height:1;letter-spacing:-0.5px;">45</div><div style="position:absolute;left:3px;top:43.2px;font-size:4.6px;color:#a9b0bb;line-height:1.25;white-space:nowrap;">ma<br>03</div><div style="position:absolute;left:14px;top:45.7px;font-size:6.1px;font-weight:700;color:#14223f;line-height:1.08;white-space:nowrap;letter-spacing:-0.15px;">Stocken</div><div style="position:absolute;left:0px;top:58.800000000000004px;width:86px;height:0.8px;background:#8d94a0"></div><div style="position:absolute;left:3px;top:62.800000000000004px;font-size:4.6px;color:#a9b0bb;line-height:1.25;white-space:nowrap;">di<br>04</div><div style="position:absolute;left:14px;top:63.300000000000004px;font-size:6.1px;font-weight:700;color:#14223f;line-height:1.08;white-space:nowrap;letter-spacing:-0.15px;">Conceptupdate voorjaar:<br>calculaties maken</div><div style="position:absolute;left:0px;top:78.4px;width:86px;height:0.8px;background:#8d94a0"></div><div style="position:absolute;left:3px;top:82.4px;font-size:4.6px;color:#a9b0bb;line-height:1.25;white-space:nowrap;">wo<br>05</div><div style="position:absolute;left:14px;top:82.9px;font-size:6.1px;font-weight:700;color:#14223f;line-height:1.08;white-space:nowrap;letter-spacing:-0.15px;">Conceptupdate voorjaar:<br>calculaties maken</div><div style="position:absolute;left:0px;top:98.0px;width:86px;height:0.8px;background:#8d94a0"></div><div style="position:absolute;left:3px;top:102.0px;font-size:4.6px;color:#a9b0bb;line-height:1.25;white-space:nowrap;">do<br>06</div><div style="position:absolute;left:14px;top:102.5px;font-size:6.1px;font-weight:700;color:#14223f;line-height:1.08;white-space:nowrap;letter-spacing:-0.15px;">Start Plan Boutique<br>Managementcursus Midden</div><div style="position:absolute;left:0px;top:117.60000000000001px;width:86px;height:0.8px;background:#8d94a0"></div><div style="position:absolute;left:3px;top:121.60000000000001px;font-size:4.6px;color:#a9b0bb;line-height:1.25;white-space:nowrap;">vr<br>07</div><div style="position:absolute;left:14px;top:122.10000000000001px;font-size:6.1px;font-weight:700;color:#14223f;line-height:1.08;white-space:nowrap;letter-spacing:-0.15px;">Horecava<br>Valentijn special rond</div><div style="position:absolute;left:0px;top:137.20000000000002px;width:86px;height:0.8px;background:#8d94a0"></div><div style="position:absolute;left:3px;top:141.20000000000002px;font-size:4.6px;color:#a9b0bb;line-height:1.25;white-space:nowrap;">za<br>08</div><div style="position:absolute;left:14px;top:141.70000000000002px;font-size:6.1px;font-weight:700;color:#14223f;line-height:1.08;white-space:nowrap;letter-spacing:-0.15px;">Prijsafspraken voor<br>minimaal kwartaal vast</div><div style="position:absolute;left:0px;top:156.8px;width:86px;height:0.8px;background:#8d94a0"></div><div style="position:absolute;left:3px;top:160.8px;font-size:4.6px;color:#a9b0bb;line-height:1.25;white-space:nowrap;">zo<br>09</div><div style="position:absolute;left:14px;top:161.3px;font-size:6.1px;font-weight:700;color:#14223f;line-height:1.08;white-space:nowrap;letter-spacing:-0.15px;">Check hotelbar en gimmicks<br>The Branding Club</div><div style="position:absolute;left:0px;top:175.9px;width:86px;height:1.3px;background:#5a6070"></div><div style="position:absolute;left:58px;top:175.9px;font-size:20px;font-weight:700;color:#dde4ec;width:26px;text-align:right;line-height:1;letter-spacing:-0.5px;">46</div><div style="position:absolute;left:3px;top:180.4px;font-size:4.6px;color:#a9b0bb;line-height:1.25;white-space:nowrap;">ma<br>10</div><div style="position:absolute;left:14px;top:180.9px;font-size:6.1px;font-weight:700;color:#14223f;line-height:1.08;white-space:nowrap;letter-spacing:-0.15px;">Check hotelbar en gimmicks<br>The Branding Club</div><div style="position:absolute;left:0px;top:196.0px;width:86px;height:0.8px;background:#8d94a0"></div><div style="position:absolute;left:3px;top:200.0px;font-size:4.6px;color:#a9b0bb;line-height:1.25;white-space:nowrap;">di<br>11</div><div style="position:absolute;left:14px;top:200.5px;font-size:6.1px;font-weight:700;color:#14223f;line-height:1.08;white-space:nowrap;letter-spacing:-0.15px;">Kick off terrasseizoen<br>Wouter Verkerk</div><div style="position:absolute;left:0px;top:215.60000000000002px;width:86px;height:0.8px;background:#8d94a0"></div><div style="position:absolute;left:3px;top:219.60000000000002px;font-size:4.6px;color:#a9b0bb;line-height:1.25;white-space:nowrap;">wo<br>12</div><div style="position:absolute;left:14px;top:222.10000000000002px;font-size:6.1px;font-weight:700;color:#14223f;line-height:1.08;white-space:nowrap;letter-spacing:-0.15px;">Resultaten vs doelstellingen</div><div style="position:absolute;left:0px;top:235.20000000000002px;width:86px;height:0.8px;background:#8d94a0"></div><div style="position:absolute;left:3px;top:239.20000000000002px;font-size:4.6px;color:#a9b0bb;line-height:1.25;white-space:nowrap;">do<br>13</div><div style="position:absolute;left:14px;top:241.70000000000002px;font-size:6.1px;font-weight:700;color:#14223f;line-height:1.08;white-space:nowrap;letter-spacing:-0.15px;">Koningsdag special rond</div><div style="position:absolute;left:0px;top:254.8px;width:86px;height:0.8px;background:#8d94a0"></div><div style="position:absolute;left:3px;top:258.8px;font-size:4.6px;color:#a9b0bb;line-height:1.25;white-space:nowrap;">vr<br>14</div><div style="position:absolute;left:14px;top:259.3px;font-size:6.1px;font-weight:700;color:#14223f;line-height:1.08;white-space:nowrap;letter-spacing:-0.15px;">Evaluatie<br>zomerseizoen</div><div style="position:absolute;left:0px;top:274.40000000000003px;width:86px;height:0.8px;background:#8d94a0"></div><div style="position:absolute;left:3px;top:278.40000000000003px;font-size:4.6px;color:#a9b0bb;line-height:1.25;white-space:nowrap;">za<br>15</div><div style="position:absolute;left:14px;top:278.90000000000003px;font-size:6.1px;font-weight:700;color:#14223f;line-height:1.08;white-space:nowrap;letter-spacing:-0.15px;">Evaluatie<br>zomerseizoen</div><div style="position:absolute;left:0px;top:294.0px;width:86px;height:0.8px;background:#8d94a0"></div><div style="position:absolute;left:3px;top:298.0px;font-size:4.6px;color:#a9b0bb;line-height:1.25;white-space:nowrap;">zo<br>16</div><div style="position:absolute;left:14px;top:298.5px;font-size:6.1px;font-weight:700;color:#14223f;line-height:1.08;white-space:nowrap;letter-spacing:-0.15px;">Onderhoud<br>keuken- en barapparatuur</div><div style="position:absolute;left:0px;top:313.1px;width:86px;height:1.3px;background:#5a6070"></div><div style="position:absolute;left:58px;top:313.1px;font-size:20px;font-weight:700;color:#dde4ec;width:26px;text-align:right;line-height:1;letter-spacing:-0.5px;">47</div><div style="position:absolute;left:3px;top:317.6px;font-size:4.6px;color:#a9b0bb;line-height:1.25;white-space:nowrap;">ma<br>17</div><div style="position:absolute;left:14px;top:318.1px;font-size:6.1px;font-weight:700;color:#14223f;line-height:1.08;white-space:nowrap;letter-spacing:-0.15px;">Conceptupdate najaar:<br>planning maken</div><div style="position:absolute;left:0px;top:333.20000000000005px;width:86px;height:0.8px;background:#8d94a0"></div><div style="position:absolute;left:3px;top:337.20000000000005px;font-size:4.6px;color:#a9b0bb;line-height:1.25;white-space:nowrap;">di<br>18</div><div style="position:absolute;left:14px;top:337.70000000000005px;font-size:6.1px;font-weight:700;color:#14223f;line-height:1.08;white-space:nowrap;letter-spacing:-0.15px;">Start Plan Boutique<br>Managementcursus Midden</div><div style="position:absolute;left:0px;top:352.8px;width:86px;height:0.8px;background:#8d94a0"></div><div style="position:absolute;left:3px;top:356.8px;font-size:4.6px;color:#a9b0bb;line-height:1.25;white-space:nowrap;">wo<br>19</div><div style="position:absolute;left:14px;top:357.3px;font-size:6.1px;font-weight:700;color:#14223f;line-height:1.08;white-space:nowrap;letter-spacing:-0.15px;">Analyse: kwaliteit,<br>inkoop, loonkosten</div><div style="position:absolute;left:0px;top:372.40000000000003px;width:86px;height:0.8px;background:#8d94a0"></div><div style="position:absolute;left:3px;top:376.40000000000003px;font-size:4.6px;color:#a9b0bb;line-height:1.25;white-space:nowrap;">do<br>20</div><div style="position:absolute;left:14px;top:376.90000000000003px;font-size:6.1px;font-weight:700;color:#14223f;line-height:1.08;white-space:nowrap;letter-spacing:-0.15px;">Analyse: kwaliteit,<br>inkoop, loonkosten</div><div style="position:absolute;left:0px;top:392.0px;width:86px;height:0.8px;background:#8d94a0"></div><div style="position:absolute;left:3px;top:396.0px;font-size:4.6px;color:#a9b0bb;line-height:1.25;white-space:nowrap;">vr<br>21</div><div style="position:absolute;left:14px;top:396.5px;font-size:6.1px;font-weight:700;color:#14223f;line-height:1.08;white-space:nowrap;letter-spacing:-0.15px;">Training Koffie,<br>Thee &amp; chocolade</div><div style="position:absolute;left:0px;top:411.6px;width:86px;height:0.8px;background:#8d94a0"></div><div style="position:absolute;left:3px;top:415.6px;font-size:4.6px;color:#a9b0bb;line-height:1.25;white-space:nowrap;">za<br>22</div><div style="position:absolute;left:14px;top:416.1px;font-size:6.1px;font-weight:700;color:#14223f;line-height:1.08;white-space:nowrap;letter-spacing:-0.15px;">Tickets bestellen kick off<br>Wouter Verkerk op 5 april</div><div style="position:absolute;left:0px;top:431.20000000000005px;width:86px;height:0.8px;background:#8d94a0"></div><div style="position:absolute;left:3px;top:435.20000000000005px;font-size:4.6px;color:#a9b0bb;line-height:1.25;white-space:nowrap;">zo<br>23</div><div style="position:absolute;left:14px;top:437.70000000000005px;font-size:6.1px;font-weight:700;color:#14223f;line-height:1.08;white-space:nowrap;letter-spacing:-0.15px;">Stocken</div><div style="position:absolute;left:0px;top:450.3px;width:86px;height:1.3px;background:#5a6070"></div><div style="position:absolute;left:58px;top:450.3px;font-size:20px;font-weight:700;color:#dde4ec;width:26px;text-align:right;line-height:1;letter-spacing:-0.5px;">48</div><div style="position:absolute;left:3px;top:454.8px;font-size:4.6px;color:#a9b0bb;line-height:1.25;white-space:nowrap;">ma<br>24</div><div style="position:absolute;left:14px;top:455.3px;font-size:6.1px;font-weight:700;color:#14223f;line-height:1.08;white-space:nowrap;letter-spacing:-0.15px;">Afspraak inplannen<br>accountmanager Bidfood</div><div style="position:absolute;left:0px;top:470.40000000000003px;width:86px;height:0.8px;background:#8d94a0"></div><div style="position:absolute;left:3px;top:474.40000000000003px;font-size:4.6px;color:#a9b0bb;line-height:1.25;white-space:nowrap;">di<br>25</div><div style="position:absolute;left:14px;top:474.90000000000003px;font-size:6.1px;font-weight:700;color:#14223f;line-height:1.08;white-space:nowrap;letter-spacing:-0.15px;">Afspraak inplannen<br>accountmanager Bidfood</div><div style="position:absolute;left:0px;top:490.00000000000006px;width:86px;height:0.8px;background:#8d94a0"></div><div style="position:absolute;left:3px;top:494.00000000000006px;font-size:4.6px;color:#a9b0bb;line-height:1.25;white-space:nowrap;">wo<br>26</div><div style="position:absolute;left:14px;top:494.50000000000006px;font-size:6.1px;font-weight:700;color:#14223f;line-height:1.08;white-space:nowrap;letter-spacing:-0.15px;">Nieuwsbrief<br>vaderdag special</div><div style="position:absolute;left:0px;top:509.6px;width:86px;height:0.8px;background:#8d94a0"></div><div style="position:absolute;left:3px;top:513.6px;font-size:4.6px;color:#a9b0bb;line-height:1.25;white-space:nowrap;">do<br>27</div><div style="position:absolute;left:14px;top:514.1px;font-size:6.1px;font-weight:700;color:#14223f;line-height:1.08;white-space:nowrap;letter-spacing:-0.15px;">Conceptupdate najaar:<br>offertes opvragen</div><div style="position:absolute;left:0px;top:529.2px;width:86px;height:0.8px;background:#8d94a0"></div><div style="position:absolute;left:3px;top:533.2px;font-size:4.6px;color:#a9b0bb;line-height:1.25;white-space:nowrap;">vr<br>28</div><div style="position:absolute;left:14px;top:533.7px;font-size:6.1px;font-weight:700;color:#14223f;line-height:1.08;white-space:nowrap;letter-spacing:-0.15px;">Onderhoud<br>keuken- en barapparatuur</div><div style="position:absolute;left:0px;top:548.8000000000001px;width:86px;height:0.8px;background:#8d94a0"></div><div style="position:absolute;left:3px;top:552.8000000000001px;font-size:4.6px;color:#a9b0bb;line-height:1.25;white-space:nowrap;">za<br>29</div><div style="position:absolute;left:14px;top:553.3000000000001px;font-size:6.1px;font-weight:700;color:#14223f;line-height:1.08;white-space:nowrap;letter-spacing:-0.15px;">Meten personeels-<br>tevredenheid</div><div style="position:absolute;left:0px;top:568.4000000000001px;width:86px;height:0.8px;background:#8d94a0"></div><div style="position:absolute;left:3px;top:572.4000000000001px;font-size:4.6px;color:#a9b0bb;line-height:1.25;white-space:nowrap;">zo<br>30</div><div style="position:absolute;left:14px;top:572.9000000000001px;font-size:6.1px;font-weight:700;color:#14223f;line-height:1.08;white-space:nowrap;letter-spacing:-0.15px;">Meten personeels-<br>tevredenheid</div></div><div style="position:absolute;left:1036.5px;top:52.8px;font-size:16.3px;font-weight:700;color:#0f2a52;white-space:nowrap;letter-spacing:-0.2px;">December</div><div style="position:absolute;left:1037.5px;top:80.3px;width:86px;height:607.6px;border:0.8px solid #6a7080;box-sizing:border-box;overflow:hidden"><div style="position:absolute;left:58px;top:-0.5px;font-size:20px;font-weight:700;color:#dde4ec;width:26px;text-align:right;line-height:1;letter-spacing:-0.5px;">49</div><div style="position:absolute;left:3px;top:4.0px;font-size:4.6px;color:#a9b0bb;line-height:1.25;white-space:nowrap;">ma<br>01</div><div style="position:absolute;left:14px;top:4.5px;font-size:6.1px;font-weight:700;color:#14223f;line-height:1.08;white-space:nowrap;letter-spacing:-0.15px;">Inventarisatie<br>bedrijfskleding</div><div style="position:absolute;left:0px;top:19.6px;width:86px;height:0.8px;background:#8d94a0"></div><div style="position:absolute;left:3px;top:23.6px;font-size:4.6px;color:#a9b0bb;line-height:1.25;white-space:nowrap;">di<br>02</div><div style="position:absolute;left:14px;top:24.1px;font-size:6.1px;font-weight:700;color:#14223f;line-height:1.08;white-space:nowrap;letter-spacing:-0.15px;">Conceptupdate voorjaar:<br>planning maken</div><div style="position:absolute;left:0px;top:39.2px;width:86px;height:0.8px;background:#8d94a0"></div><div style="position:absolute;left:3px;top:43.2px;font-size:4.6px;color:#a9b0bb;line-height:1.25;white-space:nowrap;">wo<br>03</div><div style="position:absolute;left:14px;top:43.7px;font-size:6.1px;font-weight:700;color:#14223f;line-height:1.08;white-space:nowrap;letter-spacing:-0.15px;">Marketing en specials Q1<br>vastleggen en plannen</div><div style="position:absolute;left:0px;top:58.800000000000004px;width:86px;height:0.8px;background:#8d94a0"></div><div style="position:absolute;left:3px;top:62.800000000000004px;font-size:4.6px;color:#a9b0bb;line-height:1.25;white-space:nowrap;">do<br>04</div><div style="position:absolute;left:14px;top:63.300000000000004px;font-size:6.1px;font-weight:700;color:#14223f;line-height:1.08;white-space:nowrap;letter-spacing:-0.15px;">Training Koffie,<br>Thee &amp; chocolade</div><div style="position:absolute;left:0px;top:78.4px;width:86px;height:0.8px;background:#8d94a0"></div><div style="position:absolute;left:3px;top:82.4px;font-size:4.6px;color:#a9b0bb;line-height:1.25;white-space:nowrap;">vr<br>05</div><div style="position:absolute;left:14px;top:82.9px;font-size:6.1px;font-weight:700;color:#14223f;line-height:1.08;white-space:nowrap;letter-spacing:-0.15px;">Training Koffie,<br>Thee &amp; chocolade</div><div style="position:absolute;left:0px;top:98.0px;width:86px;height:0.8px;background:#8d94a0"></div><div style="position:absolute;left:3px;top:102.0px;font-size:4.6px;color:#a9b0bb;line-height:1.25;white-space:nowrap;">za<br>06</div><div style="position:absolute;left:14px;top:104.5px;font-size:6.1px;font-weight:700;color:#14223f;line-height:1.08;white-space:nowrap;letter-spacing:-0.15px;">Bijwerken website</div><div style="position:absolute;left:0px;top:117.60000000000001px;width:86px;height:0.8px;background:#8d94a0"></div><div style="position:absolute;left:3px;top:121.60000000000001px;font-size:4.6px;color:#a9b0bb;line-height:1.25;white-space:nowrap;">zo<br>07</div><div style="position:absolute;left:14px;top:122.10000000000001px;font-size:6.1px;font-weight:700;color:#14223f;line-height:1.08;white-space:nowrap;letter-spacing:-0.15px;">Conceptupdate zomer:<br>signaturen bepalen</div><div style="position:absolute;left:0px;top:136.70000000000002px;width:86px;height:1.3px;background:#5a6070"></div><div style="position:absolute;left:58px;top:136.70000000000002px;font-size:20px;font-weight:700;color:#dde4ec;width:26px;text-align:right;line-height:1;letter-spacing:-0.5px;">50</div><div style="position:absolute;left:3px;top:141.20000000000002px;font-size:4.6px;color:#a9b0bb;line-height:1.25;white-space:nowrap;">ma<br>08</div><div style="position:absolute;left:14px;top:141.70000000000002px;font-size:6.1px;font-weight:700;color:#14223f;line-height:1.08;white-space:nowrap;letter-spacing:-0.15px;">Conceptupdate zomer:<br>proefkeuken</div><div style="position:absolute;left:0px;top:156.8px;width:86px;height:0.8px;background:#8d94a0"></div><div style="position:absolute;left:3px;top:160.8px;font-size:4.6px;color:#a9b0bb;line-height:1.25;white-space:nowrap;">di<br>09</div><div style="position:absolute;left:14px;top:161.3px;font-size:6.1px;font-weight:700;color:#14223f;line-height:1.08;white-space:nowrap;letter-spacing:-0.15px;">Nieuwsbrief<br>vaderdag special</div><div style="position:absolute;left:0px;top:176.4px;width:86px;height:0.8px;background:#8d94a0"></div><div style="position:absolute;left:3px;top:180.4px;font-size:4.6px;color:#a9b0bb;line-height:1.25;white-space:nowrap;">wo<br>10</div><div style="position:absolute;left:14px;top:180.9px;font-size:6.1px;font-weight:700;color:#14223f;line-height:1.08;white-space:nowrap;letter-spacing:-0.15px;">Nieuwsbrief<br>vaderdag special</div><div style="position:absolute;left:0px;top:196.0px;width:86px;height:0.8px;background:#8d94a0"></div><div style="position:absolute;left:3px;top:200.0px;font-size:4.6px;color:#a9b0bb;line-height:1.25;white-space:nowrap;">do<br>11</div><div style="position:absolute;left:14px;top:200.5px;font-size:6.1px;font-weight:700;color:#14223f;line-height:1.08;white-space:nowrap;letter-spacing:-0.15px;">Horecabeurs Goes<br>Bureau de Wit</div><div style="position:absolute;left:0px;top:215.60000000000002px;width:86px;height:0.8px;background:#8d94a0"></div><div style="position:absolute;left:3px;top:219.60000000000002px;font-size:4.6px;color:#a9b0bb;line-height:1.25;white-space:nowrap;">vr<br>12</div><div style="position:absolute;left:14px;top:220.10000000000002px;font-size:6.1px;font-weight:700;color:#14223f;line-height:1.08;white-space:nowrap;letter-spacing:-0.15px;">Bestellen kaartjes terras<br>Carnaval</div><div style="position:absolute;left:0px;top:235.20000000000002px;width:86px;height:0.8px;background:#8d94a0"></div><div style="position:absolute;left:3px;top:239.20000000000002px;font-size:4.6px;color:#a9b0bb;line-height:1.25;white-space:nowrap;">za<br>13</div><div style="position:absolute;left:14px;top:239.70000000000002px;font-size:6.1px;font-weight:700;color:#14223f;line-height:1.08;white-space:nowrap;letter-spacing:-0.15px;">Inventarisatie<br>bedrijfskleding</div><div style="position:absolute;left:0px;top:254.8px;width:86px;height:0.8px;background:#8d94a0"></div><div style="position:absolute;left:3px;top:258.8px;font-size:4.6px;color:#a9b0bb;line-height:1.25;white-space:nowrap;">zo<br>14</div><div style="position:absolute;left:14px;top:261.3px;font-size:6.1px;font-weight:700;color:#14223f;line-height:1.08;white-space:nowrap;letter-spacing:-0.15px;">Stocken</div><div style="position:absolute;left:0px;top:273.90000000000003px;width:86px;height:1.3px;background:#5a6070"></div><div style="position:absolute;left:58px;top:273.90000000000003px;font-size:20px;font-weight:700;color:#dde4ec;width:26px;text-align:right;line-height:1;letter-spacing:-0.5px;">51</div><div style="position:absolute;left:3px;top:278.40000000000003px;font-size:4.6px;color:#a9b0bb;line-height:1.25;white-space:nowrap;">ma<br>15</div><div style="position:absolute;left:14px;top:280.90000000000003px;font-size:6.1px;font-weight:700;color:#14223f;line-height:1.08;white-space:nowrap;letter-spacing:-0.15px;">Stocken</div><div style="position:absolute;left:0px;top:294.0px;width:86px;height:0.8px;background:#8d94a0"></div><div style="position:absolute;left:3px;top:298.0px;font-size:4.6px;color:#a9b0bb;line-height:1.25;white-space:nowrap;">di<br>16</div><div style="position:absolute;left:14px;top:298.5px;font-size:6.1px;font-weight:700;color:#14223f;line-height:1.08;white-space:nowrap;letter-spacing:-0.15px;">Kickback leveranciers<br>Resultaten vs doelstellingen</div><div style="position:absolute;left:0px;top:313.6px;width:86px;height:0.8px;background:#8d94a0"></div><div style="position:absolute;left:3px;top:317.6px;font-size:4.6px;color:#a9b0bb;line-height:1.25;white-space:nowrap;">wo<br>17</div><div style="position:absolute;left:14px;top:318.1px;font-size:6.1px;font-weight:700;color:#14223f;line-height:1.08;white-space:nowrap;letter-spacing:-0.15px;">Meten personeels-<br>tevredenheid</div><div style="position:absolute;left:0px;top:333.20000000000005px;width:86px;height:0.8px;background:#8d94a0"></div><div style="position:absolute;left:3px;top:337.20000000000005px;font-size:4.6px;color:#a9b0bb;line-height:1.25;white-space:nowrap;">do<br>18</div><div style="position:absolute;left:14px;top:339.70000000000005px;font-size:6.1px;font-weight:700;color:#14223f;line-height:1.08;white-space:nowrap;letter-spacing:-0.15px;">Bijwerken website</div><div style="position:absolute;left:0px;top:352.8px;width:86px;height:0.8px;background:#8d94a0"></div><div style="position:absolute;left:3px;top:356.8px;font-size:4.6px;color:#a9b0bb;line-height:1.25;white-space:nowrap;">vr<br>19</div><div style="position:absolute;left:14px;top:357.3px;font-size:6.1px;font-weight:700;color:#14223f;line-height:1.08;white-space:nowrap;letter-spacing:-0.15px;">Prijsafspraken voor<br>minimaal kwartaal vast</div><div style="position:absolute;left:0px;top:372.40000000000003px;width:86px;height:0.8px;background:#8d94a0"></div><div style="position:absolute;left:3px;top:376.40000000000003px;font-size:4.6px;color:#a9b0bb;line-height:1.25;white-space:nowrap;">za<br>20</div><div style="position:absolute;left:14px;top:376.90000000000003px;font-size:6.1px;font-weight:700;color:#14223f;line-height:1.08;white-space:nowrap;letter-spacing:-0.15px;">Prijsafspraken voor<br>minimaal kwartaal vast</div><div style="position:absolute;left:0px;top:392.0px;width:86px;height:0.8px;background:#8d94a0"></div><div style="position:absolute;left:3px;top:396.0px;font-size:4.6px;color:#a9b0bb;line-height:1.25;white-space:nowrap;">zo<br>21</div><div style="position:absolute;left:14px;top:398.5px;font-size:6.1px;font-weight:700;color:#14223f;line-height:1.08;white-space:nowrap;letter-spacing:-0.15px;">Training gastvrijheid</div><div style="position:absolute;left:0px;top:411.1px;width:86px;height:1.3px;background:#5a6070"></div><div style="position:absolute;left:58px;top:411.1px;font-size:20px;font-weight:700;color:#dde4ec;width:26px;text-align:right;line-height:1;letter-spacing:-0.5px;">52</div><div style="position:absolute;left:3px;top:415.6px;font-size:4.6px;color:#a9b0bb;line-height:1.25;white-space:nowrap;">ma<br>22</div><div style="position:absolute;left:14px;top:416.1px;font-size:6.1px;font-weight:700;color:#14223f;line-height:1.08;white-space:nowrap;letter-spacing:-0.15px;">Maandelijkse<br>voortgangsgesprekken</div><div style="position:absolute;left:0px;top:431.20000000000005px;width:86px;height:0.8px;background:#8d94a0"></div><div style="position:absolute;left:3px;top:435.20000000000005px;font-size:4.6px;color:#a9b0bb;line-height:1.25;white-space:nowrap;">di<br>23</div><div style="position:absolute;left:14px;top:435.70000000000005px;font-size:6.1px;font-weight:700;color:#14223f;line-height:1.08;white-space:nowrap;letter-spacing:-0.15px;">Horecabeurs Goes<br>Bureau de Wit</div><div style="position:absolute;left:0px;top:450.8px;width:86px;height:0.8px;background:#8d94a0"></div><div style="position:absolute;left:3px;top:454.8px;font-size:4.6px;color:#a9b0bb;line-height:1.25;white-space:nowrap;">wo<br>24</div><div style="position:absolute;left:14px;top:457.3px;font-size:6.1px;font-weight:700;color:#14223f;line-height:1.08;white-space:nowrap;letter-spacing:-0.15px;">Koningsdag special rond</div><div style="position:absolute;left:0px;top:470.40000000000003px;width:86px;height:0.8px;background:#8d94a0"></div><div style="position:absolute;left:3px;top:474.40000000000003px;font-size:4.6px;color:#a9b0bb;line-height:1.25;white-space:nowrap;">do<br>25</div><div style="position:absolute;left:14px;top:476.90000000000003px;font-size:6.1px;font-weight:700;color:#14223f;line-height:1.08;white-space:nowrap;letter-spacing:-0.15px;">Koningsdag special rond</div><div style="position:absolute;left:0px;top:490.00000000000006px;width:86px;height:0.8px;background:#8d94a0"></div><div style="position:absolute;left:3px;top:494.00000000000006px;font-size:4.6px;color:#a9b0bb;line-height:1.25;white-space:nowrap;">vr<br>26</div><div style="position:absolute;left:14px;top:494.50000000000006px;font-size:6.1px;font-weight:700;color:#14223f;line-height:1.08;white-space:nowrap;letter-spacing:-0.15px;">Inspiratiesessie<br>concept zomer</div><div style="position:absolute;left:0px;top:509.6px;width:86px;height:0.8px;background:#8d94a0"></div><div style="position:absolute;left:3px;top:513.6px;font-size:4.6px;color:#a9b0bb;line-height:1.25;white-space:nowrap;">za<br>27</div><div style="position:absolute;left:14px;top:514.1px;font-size:6.1px;font-weight:700;color:#14223f;line-height:1.08;white-space:nowrap;letter-spacing:-0.15px;">Welke leverancier levert<br>ook inspiratie?</div><div style="position:absolute;left:0px;top:529.2px;width:86px;height:0.8px;background:#8d94a0"></div><div style="position:absolute;left:3px;top:533.2px;font-size:4.6px;color:#a9b0bb;line-height:1.25;white-space:nowrap;">zo<br>28</div><div style="position:absolute;left:14px;top:533.7px;font-size:6.1px;font-weight:700;color:#14223f;line-height:1.08;white-space:nowrap;letter-spacing:-0.15px;">Kickback leveranciers<br>Resultaten vs doelstellingen</div><div style="position:absolute;left:0px;top:548.3000000000001px;width:86px;height:1.3px;background:#5a6070"></div><div style="position:absolute;left:58px;top:548.3000000000001px;font-size:20px;font-weight:700;color:#dde4ec;width:26px;text-align:right;line-height:1;letter-spacing:-0.5px;">1</div><div style="position:absolute;left:3px;top:552.8000000000001px;font-size:4.6px;color:#a9b0bb;line-height:1.25;white-space:nowrap;">ma<br>29</div><div style="position:absolute;left:14px;top:553.3000000000001px;font-size:6.1px;font-weight:700;color:#14223f;line-height:1.08;white-space:nowrap;letter-spacing:-0.15px;">Start Plan Boutique<br>Managementcursus Midden</div><div style="position:absolute;left:0px;top:568.4000000000001px;width:86px;height:0.8px;background:#8d94a0"></div><div style="position:absolute;left:3px;top:572.4000000000001px;font-size:4.6px;color:#a9b0bb;line-height:1.25;white-space:nowrap;">di<br>30</div><div style="position:absolute;left:14px;top:572.9000000000001px;font-size:6.1px;font-weight:700;color:#14223f;line-height:1.08;white-space:nowrap;letter-spacing:-0.15px;">Start Plan Boutique<br>Managementcursus Midden</div><div style="position:absolute;left:0px;top:588.0px;width:86px;height:0.8px;background:#8d94a0"></div><div style="position:absolute;left:3px;top:592.0px;font-size:4.6px;color:#a9b0bb;line-height:1.25;white-space:nowrap;">wo<br>31</div><div style="position:absolute;left:14px;top:592.5px;font-size:6.1px;font-weight:700;color:#14223f;line-height:1.08;white-space:nowrap;letter-spacing:-0.15px;">Marketing en specials Q1<br>vastleggen en plannen</div></div><div style="position:absolute;left:0px;top:0px;width:1156px;height:760px;background:linear-gradient(180deg, rgba(0,0,0,0) 55%, rgba(40,50,60,0.10) 85%, rgba(40,50,60,0.18) 100%);"></div></div>
<div class="p" id="svc" style="left:645.2px;top:520.7px;width:1158px;height:818px;background:#022b52;"><div style="position:absolute;left:1px;top:1px;width:1156px;height:816px;border:1.2px dashed rgba(160,180,205,0.55);box-sizing:border-box;"></div><div style="position:absolute;left:0px;top:49px;font-size:58px;font-weight:700;color:#fff;width:1158px;text-align:center;line-height:1;letter-spacing:-1px;white-space:nowrap;">DIT IS SERVICE</div><div style="position:absolute;left:0px;top:134px;font-size:13.8px;color:#fff;width:1158px;text-align:center;line-height:17.5px;white-space:nowrap;">1000 KLEINE DINGEN DIE ERVOOR ZORGEN DAT JE DE GAST OP CRUCIALE MOMENTEN KAN HELPEN,<br>KAN STUREN, KAN GERUSTSTELLEN, KAN VERRASSEN EN KAN VERWENNEN ZODAT<br>DIE GAST GRAAG NOG EEN KEER TERUGKOMT, GRAAG BESTEEDT EN ALS VANZELF ONTSPANT.</div><div style="position:absolute;left:51.2px;top:203px;width:41px;height:41px;border-radius:50%;background:#fff;color:#00294a;font-weight:700;font-size:24px;line-height:41px;text-align:center;letter-spacing:-1px">1</div><div style="position:absolute;left:21.700000000000003px;top:260px;font-size:10.6px;font-weight:700;color:#fff;width:100px;text-align:center;line-height:12.6px;letter-spacing:0.45px;">WEBSITE &amp;<br>RESERVEREN</div><div style="position:absolute;left:30.700000000000003px;top:294.2px;font-size:7.9px;color:#fff;width:82px;text-align:center;line-height:8.4px;-webkit-text-stroke:0.12px #fff;transform:scaleX(0.86);transform-origin:50% 0;"><p style="margin:0 0 8.6px 0">Een gast die over je zaak hoort en er meer over wil weten en of direct wil reserveren, gaat naar je (mobiele) website of je Instagram pagina. Zijn die up to date?</p><p style="margin:0 0 8.6px 0">Kom je daar zelf weleens?</p><p style="margin:0 0 8.6px 0">Wordt het de gast in één oogopslag duidelijk wat hij of zij kan verwachten?</p><p style="margin:0 0 8.6px 0">Staat het adres makkelijk vindbaar vermeld?</p><p style="margin:0 0 8.6px 0">Kan je makkelijk het menu zien? (Is het in jouw zaak de stelregel: Nieuw menu = Direct online aanpassen?)</p><p style="margin:0 0 8.6px 0">Heb je helder aangegeven wat je aanbevelingen zijn,</p></div><div style="position:absolute;left:143.7px;top:203px;width:41px;height:41px;border-radius:50%;background:#fff;color:#00294a;font-weight:700;font-size:24px;line-height:41px;text-align:center;letter-spacing:-1px">2</div><div style="position:absolute;left:114.19999999999999px;top:260px;font-size:10.6px;font-weight:700;color:#fff;width:100px;text-align:center;line-height:12.6px;letter-spacing:0.45px;">WELKOM BIJ<br>BINNENKOMST</div><div style="position:absolute;left:123.19999999999999px;top:294.2px;font-size:7.9px;color:#fff;width:82px;text-align:center;line-height:8.4px;-webkit-text-stroke:0.12px #fff;transform:scaleX(0.86);transform-origin:50% 0;"><p style="margin:0 0 8.6px 0">Als je gast vertrekt, is het dan duidelijk waar hij of zij naartoe moet navigeren?</p><p style="margin:0 0 8.6px 0">Staat jouw (nieuwe) bedrijfsnaam online goed vermeld en kloppen de openingstijden ook?</p><p style="margin:0 0 8.6px 0">Zijn er voldoende parkeerplaatsen, is er parkeerkaart-beleid en heb je dan eventueel parkeerkaarten die gasten kunnen gebruiken?</p><p style="margin:0 0 8.6px 0">Is het volstrekt helder waar de gast naar binnen moet?</p><p style="margin:0 0 8.6px 0">Zijn de meters rond de deur helemaal strak, is de deurmat mooi, zijn er verzorgde planten?</p></div><div style="position:absolute;left:236.2px;top:203px;width:41px;height:41px;border-radius:50%;background:#fff;color:#00294a;font-weight:700;font-size:24px;line-height:41px;text-align:center;letter-spacing:-1px">3</div><div style="position:absolute;left:206.7px;top:260px;font-size:10.6px;font-weight:700;color:#fff;width:100px;text-align:center;line-height:12.6px;letter-spacing:0.45px;">EERSTE<br>CONTACT<br>AAN TAFEL</div><div style="position:absolute;left:215.7px;top:306.8px;font-size:7.9px;color:#fff;width:82px;text-align:center;line-height:8.4px;-webkit-text-stroke:0.12px #fff;transform:scaleX(0.86);transform-origin:50% 0;"><p style="margin:0 0 8.6px 0">Terwijl je naar een tafel loopt, observeer je gasten dan kort?</p><p style="margin:0 0 8.6px 0">Wacht je even met praten totdat gasten hun zin hebben afgemaakt?</p><p style="margin:0 0 8.6px 0">Verwelkom je de gast?</p><p style="margin:0 0 8.6px 0">Heb je oog voor terugkerende gasten en laat je merken dat je hen herkent?</p><p style="margin:0 0 8.6px 0">Maak je oogcontact?</p></div><div style="position:absolute;left:328.7px;top:203px;width:41px;height:41px;border-radius:50%;background:#fff;color:#00294a;font-weight:700;font-size:24px;line-height:41px;text-align:center;letter-spacing:-1px">4</div><div style="position:absolute;left:299.2px;top:260px;font-size:10.6px;font-weight:700;color:#fff;width:100px;text-align:center;line-height:12.6px;letter-spacing:0.45px;">PRESENTEREN<br>DRANKEN &amp;<br>GERECHTEN</div><div style="position:absolute;left:308.2px;top:306.8px;font-size:7.9px;color:#fff;width:82px;text-align:center;line-height:8.4px;-webkit-text-stroke:0.12px #fff;transform:scaleX(0.86);transform-origin:50% 0;"><p style="margin:0 0 8.6px 0">Heb je overzicht?</p><p style="margin:0 0 8.6px 0">Weet je hoe lang mensen wachten, weet je waar je naartoe gaat?</p><p style="margin:0 0 8.6px 0">Weet je wat je serveert?</p><p style="margin:0 0 8.6px 0">Is dat ook compleet?</p><p style="margin:0 0 8.6px 0">Check je ook of de tafel compleet is?</p><p style="margin:0 0 8.6px 0">Heb je voor iedereen iets?</p><p style="margin:0 0 8.6px 0">Zijn alle benodigdheden op tafel?</p></div><div style="position:absolute;left:421.2px;top:203px;width:41px;height:41px;border-radius:50%;background:#fff;color:#00294a;font-weight:700;font-size:24px;line-height:41px;text-align:center;letter-spacing:-1px">5</div><div style="position:absolute;left:391.7px;top:260px;font-size:10.6px;font-weight:700;color:#fff;width:100px;text-align:center;line-height:12.6px;letter-spacing:0.45px;">UITLEG<br>VAN KAART</div><div style="position:absolute;left:400.7px;top:294.2px;font-size:7.9px;color:#fff;width:82px;text-align:center;line-height:8.4px;-webkit-text-stroke:0.12px #fff;transform:scaleX(0.86);transform-origin:50% 0;"><p style="margin:0 0 8.6px 0">Ben je er echt klaar voor de kaart te presenteren aan je gast?</p><p style="margin:0 0 8.6px 0">Is de tafel compleet?</p><p style="margin:0 0 8.6px 0">Komt het de gasten uit dat je nu de aandacht vraagt?</p><p style="margin:0 0 8.6px 0">Heb je de juiste kaarten bij je?</p><p style="margin:0 0 8.6px 0">Anderstalig?</p><p style="margin:0 0 8.6px 0">Kinderen?</p><p style="margin:0 0 8.6px 0">Allergenen?</p><p style="margin:0 0 8.6px 0">Heb je voldoende variatie om niet een</p></div><div style="position:absolute;left:513.7px;top:203px;width:41px;height:41px;border-radius:50%;background:#fff;color:#00294a;font-weight:700;font-size:24px;line-height:41px;text-align:center;letter-spacing:-1px">6</div><div style="position:absolute;left:484.20000000000005px;top:260px;font-size:10.6px;font-weight:700;color:#fff;width:100px;text-align:center;line-height:12.6px;letter-spacing:0.45px;">MENUKEUZE</div><div style="position:absolute;left:493.20000000000005px;top:281.6px;font-size:7.9px;color:#fff;width:82px;text-align:center;line-height:8.4px;-webkit-text-stroke:0.12px #fff;transform:scaleX(0.86);transform-origin:50% 0;"><p style="margin:0 0 8.6px 0">Hebben gasten een keuze gemaakt?</p><p style="margin:0 0 8.6px 0">Willen ze delen of kiest iedere gast zelf?</p><p style="margin:0 0 8.6px 0">Hebben de gasten de juiste keuze gemaakt?</p><p style="margin:0 0 8.6px 0">Of hebben ze te veel, te weinig, te eentonig, onhandige combinaties besteld?</p><p style="margin:0 0 8.6px 0">Zijn gasten vergeten bijgerechten te bestellen?</p><p style="margin:0 0 8.6px 0">Kan je sommige gerechten nog versieren met een luxe extra?</p></div><div style="position:absolute;left:606.2px;top:203px;width:41px;height:41px;border-radius:50%;background:#fff;color:#00294a;font-weight:700;font-size:24px;line-height:41px;text-align:center;letter-spacing:-1px">7</div><div style="position:absolute;left:576.7px;top:260px;font-size:10.6px;font-weight:700;color:#fff;width:100px;text-align:center;line-height:12.6px;letter-spacing:0.45px;">PRESENTEREN<br>DRANKEN &amp;<br>GERECHTEN</div><div style="position:absolute;left:585.7px;top:306.8px;font-size:7.9px;color:#fff;width:82px;text-align:center;line-height:8.4px;-webkit-text-stroke:0.12px #fff;transform:scaleX(0.86);transform-origin:50% 0;"><p style="margin:0 0 8.6px 0">Heb je overzicht?</p><p style="margin:0 0 8.6px 0">Weet je hoe lang mensen wachten, weet je waar je naartoe gaat?</p><p style="margin:0 0 8.6px 0">Weet je wat je serveert?</p><p style="margin:0 0 8.6px 0">Is dat ook compleet?</p><p style="margin:0 0 8.6px 0">Check je ook of de tafel compleet is?</p><p style="margin:0 0 8.6px 0">Heb je voor iedereen iets?</p><p style="margin:0 0 8.6px 0">Weet je wat voor wie is?</p><p style="margin:0 0 8.6px 0">Zeg je eerst goedendag voordat je iets serveert?</p></div><div style="position:absolute;left:698.7px;top:203px;width:41px;height:41px;border-radius:50%;background:#fff;color:#00294a;font-weight:700;font-size:24px;line-height:41px;text-align:center;letter-spacing:-1px">8</div><div style="position:absolute;left:669.2px;top:260px;font-size:10.6px;font-weight:700;color:#fff;width:100px;text-align:center;line-height:12.6px;letter-spacing:0.45px;">CHECK, CHECK,<br>DUBBELCHECK</div><div style="position:absolute;left:678.2px;top:294.2px;font-size:7.9px;color:#fff;width:82px;text-align:center;line-height:8.4px;-webkit-text-stroke:0.12px #fff;transform:scaleX(0.86);transform-origin:50% 0;"><p style="margin:0 0 8.6px 0">Wanneer je naar de tafel loopt, kijk je dan eerst voordat je iets vraagt?</p><p style="margin:0 0 8.6px 0">Probeer je een echte vraag te stellen als je al dat verschrikkelijke zinnetje ‘is alles naar wens’ gebruikt?</p><p style="margin:0 0 8.6px 0">Maak je daarbij oogcontact?</p><p style="margin:0 0 8.6px 0">Heb je vaste dingen waar je naar kijkt als je een check uitvoert?</p><p style="margin:0 0 8.6px 0">Bijvoorbeeld sauzen, glazen, water, bijgerechten en of iedereen ook echt eet van zijn of haar gerecht?</p><p style="margin:0 0 8.6px 0">Check je naast gerechten ook sfeer aan tafel en</p></div><div style="position:absolute;left:791.2px;top:203px;width:41px;height:41px;border-radius:50%;background:#fff;color:#00294a;font-weight:700;font-size:24px;line-height:41px;text-align:center;letter-spacing:-1px">9</div><div style="position:absolute;left:761.7px;top:260px;font-size:10.6px;font-weight:700;color:#fff;width:100px;text-align:center;line-height:12.6px;letter-spacing:0.45px;">TAFEL<br>AFRUIMEN</div><div style="position:absolute;left:770.7px;top:294.2px;font-size:7.9px;color:#fff;width:82px;text-align:center;line-height:8.4px;-webkit-text-stroke:0.12px #fff;transform:scaleX(0.86);transform-origin:50% 0;"><p style="margin:0 0 8.6px 0">Wanneer je aan tafel komt om af te ruimen, weet je dan zeker dat dit ook voor je gasten het juiste moment is?</p><p style="margin:0 0 8.6px 0">Check je of echt iedereen is uitgegeten?</p><p style="margin:0 0 8.6px 0">Vraag je of het allemaal naar tevredenheid was?</p><p style="margin:0 0 8.6px 0">Zorg je dat je voldoende tijd hebt om deze tafel ook echt helemaal af te maken?</p><p style="margin:0 0 8.6px 0">Denk je aan de stelregel ‘Gemak gaat voor etiquette’?</p><p style="margin:0 0 8.6px 0">Neem je niet te veel mee?</p><p style="margin:0 0 8.6px 0">Vraag je bij een grote tafel een collega</p></div><div style="position:absolute;left:883.7px;top:203px;width:41px;height:41px;border-radius:50%;background:#fff;color:#00294a;font-weight:700;font-size:21px;line-height:41px;text-align:center;letter-spacing:-1px">10</div><div style="position:absolute;left:854.2px;top:260px;font-size:10.6px;font-weight:700;color:#fff;width:100px;text-align:center;line-height:12.6px;letter-spacing:0.45px;">KAAS,<br>DESSERT,<br>KOFFIE, THEE</div><div style="position:absolute;left:863.2px;top:306.8px;font-size:7.9px;color:#fff;width:82px;text-align:center;line-height:8.4px;-webkit-text-stroke:0.12px #fff;transform:scaleX(0.86);transform-origin:50% 0;"><p style="margin:0 0 8.6px 0">Weet je dat als we onze gasten nú nog iets verkopen, het eigenlijk pure winst is?</p><p style="margin:0 0 8.6px 0">Dat we ons nú van onze beste kant moeten laten zien?</p><p style="margin:0 0 8.6px 0">Dat als je de vraag ‘Willen jullie nog iets na, of koffie of thee?’ stelt, een hele grote kans hebt dat het ook dat laatste wordt?</p><p style="margin:0 0 8.6px 0">Vraag je eerst om kaas?</p><p style="margin:0 0 8.6px 0">En daarna nog een dessert?</p><p style="margin:0 0 8.6px 0">Breng je altijd de dessertkaart?</p><p style="margin:0 0 8.6px 0">Vertel je altijd wat je zelf zou nemen?</p><p style="margin:0 0 8.6px 0">Vertel je over de dranken die je</p></div><div style="position:absolute;left:976.2px;top:203px;width:41px;height:41px;border-radius:50%;background:#fff;color:#00294a;font-weight:700;font-size:21px;line-height:41px;text-align:center;letter-spacing:-1px">11</div><div style="position:absolute;left:946.7px;top:260px;font-size:10.6px;font-weight:700;color:#fff;width:100px;text-align:center;line-height:12.6px;letter-spacing:0.45px;">DE REKENING</div><div style="position:absolute;left:955.7px;top:281.6px;font-size:7.9px;color:#fff;width:82px;text-align:center;line-height:8.4px;-webkit-text-stroke:0.12px #fff;transform:scaleX(0.86);transform-origin:50% 0;"><p style="margin:0 0 8.6px 0">Weet je dat een gast die de rekening vraagt heel graag weg wil?</p><p style="margin:0 0 8.6px 0">Dat een fout in de rekening twee volle punten van de ervaring afhaalt?</p><p style="margin:0 0 8.6px 0">Ben je dus snel?</p><p style="margin:0 0 8.6px 0">Check je de rekening en check je met een collega als je twijfelt?</p><p style="margin:0 0 8.6px 0">Zet je er iets leuks bij?</p><p style="margin:0 0 8.6px 0">Of op een bijgesloten kaartje?</p><p style="margin:0 0 8.6px 0">Heb je een klein cadeautje voor de gast?</p><p style="margin:0 0 8.6px 0">Zorg je voor een snoepje?</p><p style="margin:0 0 8.6px 0">Kan de gast fooi invullen op de rekening?</p><p style="margin:0 0 8.6px 0">Doe je een pen erbij?</p><p style="margin:0 0 8.6px 0">Heb je de juiste pin-apparaat bij de hand?</p><p style="margin:0 0 8.6px 0">Weet je of de gast een bon wil?</p><p style="margin:0 0 8.6px 0">Heb je ook gevraagd of de gasten nog iets willen?</p><p style="margin:0 0 8.6px 0">Wil de gast een taxi?</p><p style="margin:0 0 8.6px 0">Help je met de jas?</p></div><div style="position:absolute;left:1068.7px;top:203px;width:41px;height:41px;border-radius:50%;background:#fff;color:#00294a;font-weight:700;font-size:21px;line-height:41px;text-align:center;letter-spacing:-1px">12</div><div style="position:absolute;left:1039.2px;top:260px;font-size:10.6px;font-weight:700;color:#fff;width:100px;text-align:center;line-height:12.6px;letter-spacing:0.45px;">AFSCHEID<br>GAST</div><div style="position:absolute;left:1048.2px;top:294.2px;font-size:7.9px;color:#fff;width:82px;text-align:center;line-height:8.4px;-webkit-text-stroke:0.12px #fff;transform:scaleX(0.86);transform-origin:50% 0;"><p style="margin:0 0 8.6px 0">Houd je gasten die hebben betaald extra goed in de gaten?</p><p style="margin:0 0 8.6px 0">Zorg je dat je erbij bent als ze daadwerkelijk vertrekken?</p><p style="margin:0 0 8.6px 0">Zijn de meters rond de deur nog altijd schoon?</p><p style="margin:0 0 8.6px 0">Is de garderobe representatief?</p><p style="margin:0 0 8.6px 0">Brandt de buitenverlichting?</p><p style="margin:0 0 8.6px 0">Doet deze het ook?</p><p style="margin:0 0 8.6px 0">Zijn er eventueel fietslampjes beschikbaar voor gasten op de fiets?</p><p style="margin:0 0 8.6px 0">Lukt het je om een brug te slaan naar een volgend bezoek?</p><p style="margin:0 0 8.6px 0">Door bijvoorbeeld een aanstaand event te benoemen?</p><p style="margin:0 0 8.6px 0">Zijn er nog snoepjes, pepermuntjes, visitekaartjes beschikbaar?</p><p style="margin:0 0 8.6px 0">Heb je nog een laatste route tip?</p><p style="margin:0 0 8.6px 0">Of weet je van flitsers?</p><p style="margin:0 0 8.6px 0">Vergeten gasten de parkeerapp niet uit te zetten?</p><p style="margin:0 0 8.6px 0">Is er nog een leuke tip in de buurt voor een laatste drankje?</p><p style="margin:0 0 8.6px 0">Denk je voldoende mee?</p><p style="margin:0 0 8.6px 0">En weet je zeker dat gasten weer terugkomen en tevreden over je zijn? Goed gedaan!</p></div></div>
<div class="p" id="blok" style="left:116.9px;top:1066.6px;width:614px;height:434px;background:#fff;box-shadow:-18px -14px 40px rgba(0,10,30,0.18);"><div style="position:absolute;left:0px;top:18px;font-size:9.8px;color:#132f5c;width:606px;text-align:center;letter-spacing:0.3px;">GEBRUIK</div><div style="position:absolute;left:0px;top:27px;font-size:21.5px;font-weight:700;color:#132f5c;width:606px;text-align:center;letter-spacing:0.2px;line-height:1;">HET BLOK</div><div style="position:absolute;left:0px;top:47px;font-size:10px;color:#132f5c;width:606px;text-align:center;line-height:11.5px;letter-spacing:0.3px;">ALS FILTER BIJ DOORVERTALEN<br>NAAR DE WERKVLOER</div><div style="position:absolute;left:78px;top:29px;font-size:9px;font-weight:700;color:#132f5c;font-weight:700;white-space:nowrap;letter-spacing:0.2px;">Visie</div><div style="position:absolute;left:160px;top:39px;font-size:9px;font-weight:700;color:#132f5c;font-weight:700;white-space:nowrap;letter-spacing:0.2px;">Idee</div><div style="position:absolute;left:33px;top:55px;font-size:9px;font-weight:700;color:#132f5c;font-weight:700;white-space:nowrap;letter-spacing:0.2px;">Bank</div><div style="position:absolute;left:27px;top:88px;font-size:9.8px;font-weight:700;color:#132f5c;font-weight:700;white-space:nowrap;letter-spacing:0.2px;">Eigenaar</div><div style="position:absolute;left:412px;top:27px;font-size:10px;font-weight:700;color:#132f5c;width:100px;text-align:center;line-height:12px;letter-spacing:0.2px;">Economische<br>omstandigheid</div><div style="position:absolute;left:512px;top:26px;font-size:10px;font-weight:700;color:#132f5c;font-weight:700;white-space:nowrap;letter-spacing:0.2px;">Commissarissen</div><div style="position:absolute;left:508px;top:88px;font-size:9px;font-weight:700;color:#132f5c;font-weight:700;white-space:nowrap;letter-spacing:0.2px;">Aandeelhouders</div><div style="position:absolute;left:0px;top:89px;font-size:12px;font-weight:700;color:#132f5c;width:608px;text-align:center;letter-spacing:0.3px;line-height:1;">DIRECTIE</div><div style="position:absolute;left:0px;top:101px;font-size:10.5px;color:#132f5c;width:608px;text-align:center;line-height:1;">Beslissing, boodschap, richting</div><svg style="position:absolute;left:0;top:0" width="614" height="434" viewBox="0 0 614 434" fill="none" stroke="#8a8f99" stroke-width="0.7"><path d="M95,44 Q130,85 250,96"/><path d="M175,54 Q200,80 245,92"/><path d="M50,70 Q90,100 230,104"/><path d="M40,100 Q120,120 260,106"/><path d="M470,55 Q430,85 340,93"/><path d="M560,40 Q480,90 345,95"/><path d="M520,100 Q450,103 352,98"/></svg><div style="position:absolute;left:22.5px;top:125.5px;width:592px;height:48px;background:#0f2e5e;"></div><svg style="position:absolute;left:22.5px;top:125.5px" width="592" height="48" fill="none" stroke="rgba(235,240,250,0.85)" stroke-width="1.1" stroke-dasharray="4 3.2"><path d="M600,3 L330,2.5 L60,9 Q6,14 14,17 Q10,21 60,25 L330,30 L600,29"/></svg><div style="position:absolute;left:0px;top:133.5px;font-size:17.5px;font-weight:700;color:#fff;width:608px;text-align:center;line-height:1;letter-spacing:0.3px;">HET BLOK</div><div style="position:absolute;left:0px;top:156.5px;font-size:10px;color:#f2f4fa;width:614px;text-align:center;line-height:1;letter-spacing:0.2px;">Doorvertalen, why</div><div style="position:absolute;left:0px;top:181.5px;font-size:11.5px;font-weight:700;color:#132f5c;width:614px;text-align:center;line-height:1;letter-spacing:0.2px;">MANAGEMENTTEAM</div><div style="position:absolute;left:305px;top:115.5px;width:0.9px;height:10px;border-left:1px dashed #22324f;"></div><div style="position:absolute;left:22.5px;top:199px;width:592px;height:48px;background:#163a7c;"></div><svg style="position:absolute;left:22.5px;top:199px" width="592" height="48" fill="none" stroke="rgba(235,240,250,0.85)" stroke-width="1.1" stroke-dasharray="4 3.2"><path d="M600,3 L330,2.5 L60,9 Q6,14 14,17 Q10,21 60,25 L330,30 L600,29"/></svg><div style="position:absolute;left:0px;top:207px;font-size:17.5px;font-weight:700;color:#fff;width:608px;text-align:center;line-height:1;letter-spacing:0.3px;">HET BLOK</div><div style="position:absolute;left:0px;top:230px;font-size:10px;color:#f2f4fa;width:614px;text-align:center;line-height:1;letter-spacing:0.2px;">Is dit een boodschap voor iedereen?</div><div style="position:absolute;left:0px;top:255px;font-size:11.5px;font-weight:700;color:#132f5c;width:614px;text-align:center;line-height:1;letter-spacing:0.2px;">FLOORMANAGERS</div><div style="position:absolute;left:305px;top:189px;width:0.9px;height:10px;border-left:1px dashed #22324f;"></div><div style="position:absolute;left:22.5px;top:272.5px;width:592px;height:48px;background:#1e4290;"></div><svg style="position:absolute;left:22.5px;top:272.5px" width="592" height="48" fill="none" stroke="rgba(235,240,250,0.85)" stroke-width="1.1" stroke-dasharray="4 3.2"><path d="M600,3 L330,2.5 L60,9 Q6,14 14,17 Q10,21 60,25 L330,30 L600,29"/></svg><div style="position:absolute;left:0px;top:280.5px;font-size:17.5px;font-weight:700;color:#fff;width:608px;text-align:center;line-height:1;letter-spacing:0.3px;">HET BLOK</div><div style="position:absolute;left:0px;top:303.5px;font-size:10px;color:#f2f4fa;width:614px;text-align:center;line-height:1;letter-spacing:0.2px;">Wat zou gewenst gedrag zijn?</div><div style="position:absolute;left:0px;top:328.5px;font-size:11.5px;font-weight:700;color:#132f5c;width:614px;text-align:center;line-height:1;letter-spacing:0.2px;">TEAM GASTCONTACT</div><div style="position:absolute;left:305px;top:262.5px;width:0.9px;height:10px;border-left:1px dashed #22324f;"></div><div style="position:absolute;left:22.5px;top:346px;width:592px;height:48px;background:#2647a3;"></div><svg style="position:absolute;left:22.5px;top:346px" width="592" height="48" fill="none" stroke="rgba(235,240,250,0.85)" stroke-width="1.1" stroke-dasharray="4 3.2"><path d="M600,3 L330,2.5 L60,9 Q6,14 14,17 Q10,21 60,25 L330,30 L600,29"/></svg><div style="position:absolute;left:0px;top:354px;font-size:17.5px;font-weight:700;color:#fff;width:608px;text-align:center;line-height:1;letter-spacing:0.3px;">HET BLOK</div><div style="position:absolute;left:0px;top:377px;font-size:10px;color:#f2f4fa;width:614px;text-align:center;line-height:1;letter-spacing:0.2px;">Hoe laat je het zien?</div><div style="position:absolute;left:305px;top:336px;width:0.9px;height:10px;border-left:1px dashed #22324f;"></div><div style="position:absolute;left:24px;top:398px;font-size:14px;color:#3d62a8;font-family:'Liberation Serif',serif;font-style:italic;white-space:nowrap;letter-spacing:-0.6px;">Wouter Verkerk</div><div style="position:absolute;left:34px;top:416px;width:60px;height:1.2px;background:#7b8699;"></div></div>
<div class="p" id="mom" style="left:224.2px;top:1416px;width:614px;height:434px;background:#fff;box-shadow:-10px -16px 36px rgba(0,10,30,0.22);"><div style="position:absolute;left:0px;top:43px;font-size:22.5px;font-weight:700;color:#0f2a55;width:612px;text-align:center;line-height:1;letter-spacing:0.2px;">HET MOMENT</div><div style="position:absolute;left:0px;top:68px;font-size:9.5px;color:#1b3560;width:612px;text-align:center;line-height:11.5px;">ALLES WAT WE DOEN VOOR HET CONTACT<br>TUSSEN GAST EN MEDEWERKER</div><div style="position:absolute;left:223px;top:108px;font-size:14.5px;color:#d23a2a;font-style:italic;white-space:nowrap;transform:rotate(-7.6deg);transform-origin:0 100%;letter-spacing:0.2px;line-height:1;">Met 100% terugkeergarantie</div><svg style="position:absolute;left:0;top:0" width="614" height="434" fill="none"><defs><marker id="ahm" markerWidth="6" markerHeight="6" refX="5" refY="3" orient="auto" markerUnits="userSpaceOnUse"><path d="M0.5,0.5 L5,3 L0.5,5.5" fill="none" stroke="#2b2f3a" stroke-width="0.8"/></marker></defs><path d="M313,200 C306,172 292,140 265,131 C242,124 224,140 224,160 C224,190 240,218 263,251 C280,272 295,282 302,287 C318,278 338,262 350,250 C370,230 386,212 384,192 C383,172 375,156 362,155 C342,154 322,178 313,200 Z" stroke="#0f2a55" stroke-width="4.3" stroke-linejoin="round"/><g stroke="#2a3350" stroke-width="0.9"><line x1="306.7" y1="218.5" x2="310.7" y2="218.5"/><line x1="306.2" y1="220.8" x2="311.8" y2="223.1"/><line x1="304.9" y1="222.7" x2="307.8" y2="225.6"/><line x1="303.0" y1="224.0" x2="305.3" y2="229.6"/><line x1="300.7" y1="224.5" x2="300.7" y2="228.5"/><line x1="298.4" y1="224.0" x2="296.1" y2="229.6"/><line x1="296.5" y1="222.7" x2="293.6" y2="225.6"/><line x1="295.2" y1="220.8" x2="289.6" y2="223.1"/><line x1="294.7" y1="218.5" x2="290.7" y2="218.5"/><line x1="295.2" y1="216.2" x2="289.6" y2="213.9"/><line x1="296.5" y1="214.3" x2="293.6" y2="211.4"/><line x1="298.4" y1="213.0" x2="296.1" y2="207.4"/><line x1="300.7" y1="212.5" x2="300.7" y2="208.5"/><line x1="303.0" y1="213.0" x2="305.3" y2="207.4"/><line x1="304.9" y1="214.3" x2="307.8" y2="211.4"/><line x1="306.2" y1="216.2" x2="311.8" y2="213.9"/></g><g stroke="#2b2f3a" stroke-width="0.75" marker-end="url(#ahm)"><path d="M264,187 Q268,208 290,215"/><path d="M352,189 Q352,210 313,214"/><path d="M301,235 L301,249"/></g><text x="300.7" y="221.5" font-size="8" text-anchor="middle" fill="#1b2c4a" font-family="Liberation Sans">X</text></svg><div style="position:absolute;left:246px;top:173px;font-size:6.3px;font-weight:700;color:#111;">Medewerker</div><div style="position:absolute;left:344px;top:176px;font-size:6.3px;font-weight:700;color:#111;">Gast</div><div style="position:absolute;left:283px;top:253px;font-size:6px;font-weight:700;color:#111;width:36px;text-align:center;line-height:7px;">HET<br>MOMENT!</div><div style="position:absolute;left:80px;top:24px;font-size:7.8px;color:#1d3f7a;white-space:nowrap;line-height:1.1;-webkit-text-stroke:0.2px #1d3f7a;">verwelkomen</div><div style="position:absolute;left:85px;top:34px;font-size:7.7px;color:#111;width:160px;text-align:center;line-height:9.1px;white-space:nowrap;letter-spacing:-0.1px;"><b style="font-size:8.2px;letter-spacing:0.3px">WEES ALTIJD ALERT</b><br>Merk onze gasten op en<br>verwelkom hen met open<br>armen. Jouw aandacht<br>kan hun dag maken!</div><div style="position:absolute;left:40px;top:65px;font-size:7.8px;color:#1d3f7a;white-space:nowrap;line-height:1.1;-webkit-text-stroke:0.2px #1d3f7a;">aandacht</div><div style="position:absolute;left:7px;top:86px;font-size:7.7px;color:#111;width:160px;text-align:center;line-height:9.1px;white-space:nowrap;letter-spacing:-0.1px;"><b style="font-size:8.2px;letter-spacing:0.3px">LUISTER ACTIEF</b><br>Luisteren is meer dan<br>horen; het gaat om<br>begrijpen en reageren op<br>de unieke behoeften van<br>elke gast.</div><div style="position:absolute;left:69px;top:148px;font-size:7.8px;color:#1d3f7a;white-space:nowrap;line-height:1.1;-webkit-text-stroke:0.2px #1d3f7a;">behoeften</div><div style="position:absolute;left:-7px;top:168px;font-size:7.7px;color:#111;width:160px;text-align:center;line-height:9.1px;white-space:nowrap;letter-spacing:-0.1px;"><b style="font-size:8.2px;letter-spacing:0.3px">VERRAS EN OVERTREF</b><br>Ga altijd een stap verder.<br>Verras gasten met je kennis<br>en creatieve oplossingen.</div><div style="position:absolute;left:28px;top:242px;font-size:7.8px;color:#1d3f7a;white-space:nowrap;line-height:1.1;-webkit-text-stroke:0.2px #1d3f7a;">interesse</div><div style="position:absolute;left:18px;top:228px;font-size:7.7px;color:#111;width:160px;text-align:center;line-height:9.1px;white-space:nowrap;letter-spacing:-0.1px;"><b style="font-size:8.2px;letter-spacing:0.3px">LAAT ELK AFSCHEID TELLEN</b><br>Zorg dat elke gast met<br>een glimlach vertrekt,<br>zich gewaardeerd en<br>begrepen voelt.</div><div style="position:absolute;left:132px;top:281px;font-size:7.8px;color:#1d3f7a;white-space:nowrap;line-height:1.1;-webkit-text-stroke:0.2px #1d3f7a;">expertise</div><div style="position:absolute;left:10px;top:295px;font-size:7.7px;color:#111;width:160px;text-align:center;line-height:9.1px;white-space:nowrap;letter-spacing:-0.1px;"><b style="font-size:8.2px;letter-spacing:0.3px">DEEL JOUW PASSIE</b><br>Laat je enthousiasme voor je werk<br>en kennis zien; het is aanstekelijk en<br>versterkt de ervaring.</div><div style="position:absolute;left:12px;top:340px;font-size:7.8px;color:#1d3f7a;white-space:nowrap;line-height:1.1;-webkit-text-stroke:0.2px #1d3f7a;">persoonlijke<br>aandacht</div><div style="position:absolute;left:53px;top:343px;font-size:7.7px;color:#111;width:160px;text-align:center;line-height:9.1px;white-space:nowrap;letter-spacing:-0.1px;"><b style="font-size:8.2px;letter-spacing:0.3px">STEL DE JUISTE VRAGEN</b><br>Wees nieuwsgierig.<br>De juiste vragen kunnen je<br>helpen om onuitgesproken<br>behoeften te ontdekken.</div><div style="position:absolute;left:252px;top:345px;font-size:7.8px;color:#1d3f7a;white-space:nowrap;line-height:1.1;-webkit-text-stroke:0.2px #1d3f7a;">gastvrijheid</div><div style="position:absolute;left:162px;top:365px;font-size:7.7px;color:#111;width:160px;text-align:center;line-height:9.1px;white-space:nowrap;letter-spacing:-0.1px;"><b style="font-size:8.2px;letter-spacing:0.3px">CRE&Euml;ER EEN THUISGEVOEL</b><br>Maak verbinding en zorg<br>dat gasten zich thuis voelen.<br>Een persoonlijke touch<br>maakt alle verschil.</div><div style="position:absolute;left:408px;top:323px;font-size:7.8px;color:#1d3f7a;white-space:nowrap;line-height:1.1;-webkit-text-stroke:0.2px #1d3f7a;">details</div><div style="position:absolute;left:290px;top:329px;font-size:7.7px;color:#111;width:160px;text-align:center;line-height:9.1px;white-space:nowrap;letter-spacing:-0.1px;"><b style="font-size:8.2px;letter-spacing:0.3px">OPRUIMEN EN<br>VOORBEREIDEN</b><br>Een schone en goed<br>voorbereide omgeving<br>verwelkomt niet alleen<br>onze gasten maar maakt<br>ons werk ook aangenamer.</div><div style="position:absolute;left:402px;top:367px;font-size:7.7px;color:#111;width:160px;text-align:center;line-height:9.1px;white-space:nowrap;letter-spacing:-0.1px;"><b style="font-size:8.2px;letter-spacing:0.3px">TOON RESPECT</b><br>Elk contactmoment is een kans<br>om te laten zien dat we<br>onze gasten waarderen.</div><div style="position:absolute;left:489px;top:20px;font-size:7.8px;color:#1d3f7a;white-space:nowrap;line-height:1.1;-webkit-text-stroke:0.2px #1d3f7a;">communicatie</div><div style="position:absolute;left:371px;top:34px;font-size:7.7px;color:#111;width:160px;text-align:center;line-height:9.1px;white-space:nowrap;letter-spacing:-0.1px;"><b style="font-size:8.2px;letter-spacing:0.3px">WEES FLEXIBEL EN<br>OPLOSSINGSGERICHT</b><br>Toon je aanpassingsvermogen<br>door actief oplossingen te<br>bieden wanneer uitdagingen<br>zich voordoen.</div><div style="position:absolute;left:445px;top:104px;font-size:7.7px;color:#111;width:160px;text-align:center;line-height:9.1px;white-space:nowrap;letter-spacing:-0.1px;"><b style="font-size:8.2px;letter-spacing:0.3px">POSITIEF BLIJVEN</b><br>Jouw energie werkt<br>zichtbaar aanstekelijk<br>aan de sfeer.</div><div style="position:absolute;left:474px;top:218px;font-size:7.8px;color:#1d3f7a;white-space:nowrap;line-height:1.1;-webkit-text-stroke:0.2px #1d3f7a;">glimlach</div><div style="position:absolute;left:442px;top:238px;font-size:7.7px;color:#111;width:160px;text-align:center;line-height:9.1px;white-space:nowrap;letter-spacing:-0.1px;"><b style="font-size:8.2px;letter-spacing:0.3px">PLEZIER OP HET WERK</b><br>Plezier hebben in je werk is<br>essentieel. Het verbetert niet<br>alleen jouw team maar<br>straalt ook af op gasten.</div><div style="position:absolute;left:448px;top:318px;font-size:7.7px;color:#111;width:160px;text-align:center;line-height:9.1px;white-space:nowrap;letter-spacing:-0.1px;"><b style="font-size:8.2px;letter-spacing:0.3px">BIED HULP<br>EN ADVIES</b><br>Toon initiatief<br>om te helpen.</div><svg style="position:absolute;left:0;top:0" width="614" height="434" fill="none" stroke="#2b2f3a" stroke-width="0.8"><defs><marker id="ahm2" markerWidth="6" markerHeight="6" refX="5" refY="3" orient="auto" markerUnits="userSpaceOnUse"><path d="M0.5,0.5 L5,3 L0.5,5.5" fill="none" stroke="#2b2f3a" stroke-width="0.8"/></marker></defs><g marker-end="url(#ahm2)"><path d="M172,94 Q180,130 220,146"/><path d="M126,148 Q170,170 222,188"/><path d="M122,212 Q170,214 232,224"/><path d="M152,252 Q200,246 246,246"/><path d="M104,300 Q180,270 258,260"/><path d="M160,340 Q220,300 278,278"/><path d="M242,350 Q262,310 292,291"/><path d="M384,326 Q370,300 328,287"/><path d="M488,346 Q440,300 346,266"/><path d="M498,302 Q440,270 364,246"/><path d="M506,246 Q440,232 382,218"/><path d="M504,178 Q440,190 387,197"/><path d="M498,128 Q450,162 386,174"/><path d="M444,96 Q430,140 374,150"/></g></svg><div style="position:absolute;left:32px;top:392px;font-size:15px;color:#3d62a8;font-family:'Liberation Serif',serif;font-style:italic;white-space:nowrap;letter-spacing:-0.5px;">Wouter Verkerk</div><div style="position:absolute;left:40px;top:410px;width:64px;height:1.5px;background:#7b8699;"></div><div style="position:absolute;left:0px;top:0px;width:614px;height:434px;background:linear-gradient(90deg, rgba(0,0,0,0) 55%, rgba(30,40,60,0.16) 100%);"></div></div>
<div class="p" id="werk" style="left:663.4px;top:1015.1px;width:591px;height:834px;background:#fff;box-shadow:-16px -10px 40px rgba(0,10,30,0.22);"><div style="position:absolute;left:14px;top:14px;font-size:29.5px;color:#0f2a55;white-space:nowrap;line-height:1;letter-spacing:0.4px;-webkit-text-stroke:0.6px #fff;">DIT DOEN WE VOOR</div><div style="position:absolute;left:322px;top:9px;font-size:36px;font-weight:700;color:#0f2a55;white-space:nowrap;line-height:1;letter-spacing:-0.6px;transform:scaleX(0.9);transform-origin:0 0;">“HET MOMENT”</div><div style="position:absolute;left:48px;top:55px;transform:rotate(90deg);transform-origin:0 0;white-space:nowrap;font-size:29px;line-height:1;color:#0f2a55;letter-spacing:0.3px"><span style="-webkit-text-stroke:0.6px #fff">WERKPOSTER</span> <b style="letter-spacing:-0.2px">FESTIVE SEASON</b></div><div style="position:absolute;left:28.5px;top:578px;width:2.2px;height:198px;background:#0f2a55;"></div><div style="position:absolute;left:57px;top:53px;width:125px;height:182px;border:1px solid #55607a;box-sizing:border-box;"></div><div style="position:absolute;left:57px;top:76px;font-size:12.3px;font-weight:700;color:#0f2a55;width:125px;text-align:center;line-height:15.7px;letter-spacing:0.2px;white-space:nowrap;">“VEEL<br>HORECA-<br>MOMENTEN<br>IN HET FESTIVE<br>SEASON<br>VERGETEN<br>GASTEN HUN<br>LEVEN NIET!”</div><div style="position:absolute;left:57px;top:198px;font-size:10.5px;color:#2c3f66;width:116px;text-align:right;line-height:12.5px;">WOUTER<br>VERKERK</div><div style="position:absolute;left:186px;top:53px;width:221px;height:182px;border:1px solid #55607a;box-sizing:border-box;"></div><div style="position:absolute;left:198px;top:58px;font-size:54px;font-weight:700;color:#0f2a55;font-family:'Liberation Serif',serif;line-height:1;">“</div><div style="position:absolute;left:372px;top:146px;font-size:54px;font-weight:700;color:#0f2a55;font-family:'Liberation Serif',serif;line-height:1;">”</div><div style="position:absolute;left:186px;top:198px;font-size:10.5px;font-weight:700;color:#0f2a55;width:215px;text-align:right;line-height:12.5px;letter-spacing:0.3px;">ONZE SLOGAN<br>VOOR DIT FESTIVE SEASON</div><div style="position:absolute;left:411px;top:53px;width:166px;height:187px;border:1px solid #55607a;box-sizing:border-box;"></div><div style="position:absolute;left:411px;top:62px;font-size:11px;font-weight:700;color:#0f2a55;width:166px;text-align:center;letter-spacing:0.3px;">CHALLENGES</div><div style="position:absolute;left:411px;top:205px;font-size:4.6px;font-weight:700;color:#33405a;width:160px;text-align:center;line-height:5.5px;">BIJVOORBEELD HOEVEEL GLAZEN<br>VERKOOP JE BIJ HET BESTELLEN</div><div style="position:absolute;left:57px;top:240px;width:125px;height:168px;border:1px solid #55607a;box-sizing:border-box;"></div><div style="position:absolute;left:57px;top:250px;font-size:11.1px;font-weight:700;color:#0f2a55;width:125px;text-align:center;line-height:13.6px;letter-spacing:0.2px;">DIT DOEN WE<br>VOOR DE<br>TERUGKERENDE<br>GAST</div><div style="position:absolute;left:68px;top:322.0px;width:11px;height:11px;border-radius:50%;background:#0f2a55;color:#fff;font-size:6px;font-weight:700;line-height:11px;text-align:center">1</div><div style="position:absolute;left:68px;top:341.5px;width:11px;height:11px;border-radius:50%;background:#0f2a55;color:#fff;font-size:6px;font-weight:700;line-height:11px;text-align:center">2</div><div style="position:absolute;left:68px;top:361.0px;width:11px;height:11px;border-radius:50%;background:#0f2a55;color:#fff;font-size:6px;font-weight:700;line-height:11px;text-align:center">3</div><div style="position:absolute;left:68px;top:380.5px;width:11px;height:11px;border-radius:50%;background:#0f2a55;color:#fff;font-size:6px;font-weight:700;line-height:11px;text-align:center">4</div><div style="position:absolute;left:68px;top:400.0px;width:11px;height:11px;border-radius:50%;background:#0f2a55;color:#fff;font-size:6px;font-weight:700;line-height:11px;text-align:center">5</div><div style="position:absolute;left:186px;top:240px;width:121px;height:170px;border:1px solid #55607a;box-sizing:border-box;"></div><div style="position:absolute;left:186px;top:252px;font-size:17px;font-weight:700;color:#0f2a55;width:121px;text-align:center;letter-spacing:0.3px;">NO GO’S</div><div style="position:absolute;left:311px;top:240px;width:266px;height:170px;border:1px solid #55607a;box-sizing:border-box;"></div><div style="position:absolute;left:321px;top:249px;font-size:17.5px;font-weight:700;color:#0f2a55;white-space:nowrap;letter-spacing:0.5px;">REPRÉ DOEN WE ZO</div><div style="position:absolute;left:57px;top:413px;width:250px;height:99px;border:1px solid #55607a;box-sizing:border-box;"></div><div style="position:absolute;left:57px;top:424px;font-size:10.5px;font-weight:700;color:#0f2a55;width:250px;text-align:center;letter-spacing:0.3px;">FESTIVE SIGNATUREN</div><div style="position:absolute;left:57px;top:494px;font-size:3.8px;font-weight:700;color:#33405a;width:250px;text-align:center;">WELKOM BIJ SERVICEELEMENT STAAN WIJ JE OM BEREND</div><div style="position:absolute;left:311px;top:413px;width:266px;height:99px;background:#0c2b58;"></div><div style="position:absolute;left:311px;top:430px;font-size:16px;color:#fff;width:266px;text-align:center;line-height:18px;letter-spacing:0.8px;white-space:nowrap;-webkit-text-stroke:0.3px #fff;">“IN DE HORECA IS HET<br>KERST VAN 1 NOVEMBER<br>TOT EN MET 15 JANUARI”</div><div style="position:absolute;left:311px;top:488px;font-size:9.5px;color:#9fb0cc;width:256px;text-align:right;letter-spacing:0.5px;">BLAAUW</div><div style="position:absolute;left:57px;top:517px;width:310px;height:259px;border:1px solid #55607a;box-sizing:border-box;"></div><div style="position:absolute;left:57px;top:527px;font-size:10.5px;font-weight:700;color:#0f2a55;width:310px;text-align:center;line-height:12.5px;letter-spacing:0.3px;">ONZE FESTIVE SEASON<br>SUGGESTIES</div><div style="position:absolute;left:211px;top:556px;width:1px;height:215px;background:#55607a;"></div><div style="position:absolute;left:68px;top:669px;width:290px;height:1px;background:#55607a;"></div><div style="position:absolute;left:118px;top:558px;font-size:11px;color:#0f2a55;letter-spacing:0.4px;line-height:1;">KOFFIE</div><div style="position:absolute;left:264px;top:558px;font-size:11px;color:#0f2a55;letter-spacing:0.4px;line-height:1;">LUNCH</div><div style="position:absolute;left:121px;top:676px;font-size:11px;color:#0f2a55;letter-spacing:0.4px;line-height:1;">DINER</div><div style="position:absolute;left:261px;top:675px;font-size:11px;color:#0f2a55;letter-spacing:0.4px;line-height:1;">BORREL</div><div style="position:absolute;left:371px;top:517px;width:206px;height:259px;border:1px solid #55607a;box-sizing:border-box;"></div><div style="position:absolute;left:371px;top:526px;font-size:12.2px;font-weight:700;color:#0f2a55;width:206px;text-align:center;line-height:14.4px;letter-spacing:0.3px;white-space:nowrap;">WELKE MOMENTEN IN<br>DEZE PERIODE<br>ZIJN VOOR ONS<br>ONVERGETELIJK?<br>VERZAMEL ZE HIER</div><div style="position:absolute;left:17px;top:788px;width:65px;height:30px;background:#f3c040;border-radius:1px;"></div><div style="position:absolute;left:19.5px;top:790.5px;width:60px;height:25px;border:1.6px solid #8a6a1c;box-sizing:border-box;"></div><div style="position:absolute;left:17px;top:798.5px;font-size:7px;font-weight:700;color:#2a2218;font-family:'Liberation Serif',serif;width:65px;text-align:center;line-height:1;letter-spacing:-0.2px;">plan boutique</div><div style="position:absolute;left:93px;top:793px;font-size:11px;color:#111;white-space:nowrap;letter-spacing:0.5px;">HET KAN <b>MET EEN PLAN</b></div><div style="position:absolute;left:470px;top:785px;font-size:13px;color:#3d62a8;font-family:'Liberation Serif',serif;font-style:italic;white-space:nowrap;letter-spacing:-0.5px;">Wouter Verkerk</div><div style="position:absolute;left:0px;top:0px;width:591px;height:834px;background:linear-gradient(90deg, rgba(0,0,0,0) 50%, rgba(30,40,60,0.16) 100%);"></div></div>
<div class="p" id="cour" style="left:1158.0px;top:988.0px;width:591px;height:834px;background:#fff;box-shadow:-16px -10px 40px rgba(0,10,30,0.22);"><div style="position:absolute;left:20px;top:18px;width:551px;height:0.8px;background:#6b7488;"></div><div style="position:absolute;left:493px;top:24px;font-size:8.4px;color:#222a3a;white-space:nowrap;letter-spacing:0.1px;">30 SEPTEMBER 2024</div><div style="position:absolute;left:22px;top:23.5px;font-size:8px;color:#222a3a;white-space:nowrap;letter-spacing:0.1px;">SPECIALE UITGAVE TER GELEGENHEID VAN HET FESTIVE SEASON KICK OFF EVENT IN BAARN</div><div style="position:absolute;left:20px;top:42px;width:551px;height:0.8px;background:#6b7488;"></div><div style="position:absolute;left:30px;top:48px;font-size:37px;color:#0f2a55;font-family:'Liberation Serif',serif;white-space:nowrap;line-height:1;letter-spacing:0.3px;">WOUTERS HORECACOURANT</div><div style="position:absolute;left:19px;top:97px;width:552px;height:0.9px;background:#6b7488;"></div><div style="position:absolute;left:21.5px;top:106px;width:217px;height:687px;background:#0c2b58;color:#fff;text-align:center"><div style="font-weight:700;font-size:17.5px;line-height:21px;margin-top:12px;letter-spacing:0.6px">HORECA 2025<br>IN 10 BEWEGINGEN</div><div style="margin-top:10px"><div style="display:inline-block;width:13px;height:13px;border-radius:50%;background:#fff;color:#0c2b58;font-size:8.5px;font-weight:700;line-height:13px">1</div><div style="font-weight:700;font-size:9.6px;line-height:11.2px;margin-top:4px;letter-spacing:0.6px;white-space:nowrap">2025 DRAAIT<br>OM ONT-MOETEN.</div></div><div style="margin-top:15.5px"><div style="display:inline-block;width:13px;height:13px;border-radius:50%;background:#fff;color:#0c2b58;font-size:8.5px;font-weight:700;line-height:13px">2</div><div style="font-weight:700;font-size:9.6px;line-height:11.2px;margin-top:4px;letter-spacing:0.6px;white-space:nowrap">DINEREN IS<br>HET NIEUWE UITGAAN.</div></div><div style="margin-top:15.5px"><div style="display:inline-block;width:13px;height:13px;border-radius:50%;background:#fff;color:#0c2b58;font-size:8.5px;font-weight:700;line-height:13px">3</div><div style="font-weight:700;font-size:9.6px;line-height:11.2px;margin-top:4px;letter-spacing:0.6px;white-space:nowrap">MEEMAKEN<br>= MEEDOEN.</div></div><div style="margin-top:15.5px"><div style="display:inline-block;width:13px;height:13px;border-radius:50%;background:#fff;color:#0c2b58;font-size:8.5px;font-weight:700;line-height:13px">4</div><div style="font-weight:700;font-size:9.6px;line-height:11.2px;margin-top:4px;letter-spacing:0.6px;white-space:nowrap">COLLECTORS ITEMS BIJ DÉPART;<br>SPAAR ZE ALLEMAAL!</div></div><div style="margin-top:15.5px"><div style="display:inline-block;width:13px;height:13px;border-radius:50%;background:#fff;color:#0c2b58;font-size:8.5px;font-weight:700;line-height:13px">5</div><div style="font-weight:700;font-size:9.6px;line-height:11.2px;margin-top:4px;letter-spacing:0.6px;white-space:nowrap">ALLES VOOR<br>DE TERUGKERENDE GAST!</div></div><div style="margin-top:15.5px"><div style="display:inline-block;width:13px;height:13px;border-radius:50%;background:#fff;color:#0c2b58;font-size:8.5px;font-weight:700;line-height:13px">6</div><div style="font-weight:700;font-size:9.6px;line-height:11.2px;margin-top:4px;letter-spacing:0.6px;white-space:nowrap">DE BIJBAAN IS TERUG.<br>ALS BAAN NAAST EEN BAAN.</div></div><div style="margin-top:15.5px"><div style="display:inline-block;width:13px;height:13px;border-radius:50%;background:#fff;color:#0c2b58;font-size:8.5px;font-weight:700;line-height:13px">7</div><div style="font-weight:700;font-size:9.6px;line-height:11.2px;margin-top:4px;letter-spacing:0.6px;white-space:nowrap">PERSONEELSTEKORT IS<br>VOOR GOEDE HORECA VOORBIJ.</div></div><div style="margin-top:15.5px"><div style="display:inline-block;width:13px;height:13px;border-radius:50%;background:#fff;color:#0c2b58;font-size:8.5px;font-weight:700;line-height:13px">8</div><div style="font-weight:700;font-size:9.6px;line-height:11.2px;margin-top:4px;letter-spacing:0.6px;white-space:nowrap">DE LA VOL ESSENTIALS<br>IS ESSENTIEEL.</div></div><div style="margin-top:15.5px"><div style="display:inline-block;width:13px;height:13px;border-radius:50%;background:#fff;color:#0c2b58;font-size:8.5px;font-weight:700;line-height:13px">9</div><div style="font-weight:700;font-size:9.6px;line-height:11.2px;margin-top:4px;letter-spacing:0.6px;white-space:nowrap">DE KLOOF TUSSEN<br>VOEDSELVERSTREKKERS EN<br>TOTAALBELEVINGSCONCEPTEN.</div></div><div style="margin-top:15.5px"><div style="display:inline-block;width:13px;height:13px;border-radius:50%;background:#fff;color:#0c2b58;font-size:8.5px;font-weight:700;line-height:13px">10</div><div style="font-weight:700;font-size:9.6px;line-height:11.2px;margin-top:4px;letter-spacing:0.6px;white-space:nowrap">ER IS GEEN MARKT MEER<br>VOOR NAMAAK. BEN JE NIET ECHT?<br>WEGWEZEN!</div></div></div><svg style="position:absolute;left:244px;top:106px" width="215" height="143" viewBox="0 0 215 143"><defs><linearGradient id="rg1" x1="0" y1="0" x2="0" y2="1"><stop offset="0" stop-color="#2b1710"/><stop offset="0.45" stop-color="#3a2216"/><stop offset="0.7" stop-color="#24160f"/><stop offset="1" stop-color="#3a2a1c"/></linearGradient><radialGradient id="rg2" cx="0.5" cy="0.5" r="0.5"><stop offset="0" stop-color="#f3d0d8" stop-opacity="0.95"/><stop offset="1" stop-color="#f3d0d8" stop-opacity="0"/></radialGradient><radialGradient id="rg3" cx="0.5" cy="0.5" r="0.5"><stop offset="0" stop-color="#a8482c" stop-opacity="0.7"/><stop offset="1" stop-color="#a8482c" stop-opacity="0"/></radialGradient></defs><rect width="215" height="143" fill="url(#rg1)"/><ellipse cx="75.25" cy="35.75" rx="81.7" ry="31.46" fill="url(#rg3)"/><ellipse cx="38.699999999999996" cy="31.46" rx="34.4" ry="22.88" fill="url(#rg3)"/><rect x="124.69999999999999" y="0" width="12.9" height="107.25" fill="#1a0f0a" opacity="0.8"/><rect x="184.9" y="0" width="17.2" height="121.55" fill="#1c120c" opacity="0.85"/><circle cx="62.2" cy="41.6" r="1.7" fill="#7a2018" opacity="0.70"/><circle cx="117.7" cy="14.1" r="1.6" fill="#7a2018" opacity="0.78"/><circle cx="109.1" cy="7.0" r="1.0" fill="#9a2a22" opacity="0.74"/><circle cx="122.5" cy="47.2" r="1.3" fill="#7a2018" opacity="0.93"/><circle cx="90.0" cy="45.8" r="0.8" fill="#9a2a22" opacity="0.87"/><circle cx="8.7" cy="2.7" r="1.7" fill="#d9a58a" opacity="0.51"/><circle cx="63.8" cy="32.8" r="1.6" fill="#d9a58a" opacity="0.61"/><circle cx="40.5" cy="0.3" r="0.7" fill="#e8c0a8" opacity="0.63"/><circle cx="137.3" cy="74.0" r="1.6" fill="#e8c0a8" opacity="0.61"/><circle cx="104.3" cy="38.1" r="0.6" fill="#d9a58a" opacity="0.84"/><circle cx="55.1" cy="63.0" r="1.1" fill="#9a2a22" opacity="0.88"/><circle cx="0.1" cy="15.6" r="1.7" fill="#7a2018" opacity="0.67"/><circle cx="97.5" cy="31.2" r="1.3" fill="#b8442e" opacity="0.85"/><circle cx="37.1" cy="6.5" r="1.0" fill="#7a2018" opacity="0.84"/><circle cx="16.2" cy="18.3" r="0.7" fill="#9a2a22" opacity="0.71"/><circle cx="67.0" cy="50.7" r="0.8" fill="#d9a58a" opacity="0.59"/><circle cx="100.7" cy="9.7" r="1.4" fill="#9a2a22" opacity="0.68"/><circle cx="136.2" cy="0.0" r="1.6" fill="#b33b2b" opacity="0.77"/><circle cx="137.3" cy="1.5" r="0.8" fill="#b33b2b" opacity="0.77"/><circle cx="79.4" cy="3.1" r="0.8" fill="#7a2018" opacity="0.62"/><circle cx="106.3" cy="24.5" r="1.0" fill="#9a2a22" opacity="0.53"/><circle cx="28.7" cy="47.3" r="0.6" fill="#c86a52" opacity="0.67"/><circle cx="62.4" cy="71.3" r="1.2" fill="#d9a58a" opacity="0.56"/><circle cx="53.1" cy="46.6" r="1.0" fill="#b8442e" opacity="0.87"/><circle cx="34.3" cy="14.1" r="1.5" fill="#d9a58a" opacity="0.59"/><circle cx="130.7" cy="65.6" r="1.3" fill="#7a2018" opacity="0.52"/><circle cx="15.0" cy="38.1" r="0.9" fill="#e8c0a8" opacity="0.82"/><circle cx="35.4" cy="61.3" r="1.3" fill="#c86a52" opacity="0.73"/><circle cx="127.9" cy="72.7" r="0.8" fill="#7a2018" opacity="0.75"/><circle cx="117.3" cy="45.7" r="0.9" fill="#b8442e" opacity="0.84"/><circle cx="9.5" cy="30.6" r="0.9" fill="#9a2a22" opacity="0.58"/><circle cx="50.7" cy="42.5" r="0.8" fill="#c86a52" opacity="0.56"/><circle cx="62.0" cy="24.6" r="1.5" fill="#d9a58a" opacity="0.76"/><circle cx="19.3" cy="2.6" r="0.6" fill="#c86a52" opacity="0.82"/><circle cx="132.5" cy="1.6" r="1.4" fill="#7a2018" opacity="0.53"/><circle cx="42.8" cy="10.2" r="0.7" fill="#7a2018" opacity="0.75"/><circle cx="101.4" cy="66.9" r="1.5" fill="#e8c0a8" opacity="0.56"/><circle cx="132.6" cy="25.4" r="0.7" fill="#7a2018" opacity="0.91"/><circle cx="119.9" cy="31.0" r="1.5" fill="#b33b2b" opacity="0.72"/><circle cx="2.0" cy="49.2" r="1.1" fill="#9a2a22" opacity="0.77"/><circle cx="11.0" cy="47.5" r="1.8" fill="#7a2018" opacity="0.83"/><circle cx="53.4" cy="54.7" r="1.3" fill="#7a2018" opacity="0.71"/><circle cx="74.5" cy="38.6" r="1.2" fill="#c86a52" opacity="0.77"/><circle cx="66.2" cy="17.1" r="1.4" fill="#7a2018" opacity="0.85"/><circle cx="90.8" cy="36.2" r="1.7" fill="#c86a52" opacity="0.64"/><circle cx="93.3" cy="15.1" r="0.8" fill="#c86a52" opacity="0.80"/><circle cx="60.8" cy="66.3" r="1.0" fill="#e8c0a8" opacity="0.61"/><circle cx="87.3" cy="59.8" r="1.5" fill="#b8442e" opacity="0.90"/><circle cx="52.9" cy="43.4" r="1.0" fill="#b8442e" opacity="0.56"/><circle cx="48.3" cy="66.6" r="0.6" fill="#9a2a22" opacity="0.93"/><circle cx="38.1" cy="12.6" r="1.1" fill="#c86a52" opacity="0.92"/><circle cx="114.3" cy="28.4" r="1.2" fill="#e8c0a8" opacity="0.64"/><circle cx="115.5" cy="73.0" r="1.1" fill="#9a2a22" opacity="0.87"/><circle cx="38.3" cy="45.2" r="1.4" fill="#c86a52" opacity="0.76"/><circle cx="42.5" cy="58.9" r="0.6" fill="#b8442e" opacity="0.68"/><circle cx="26.1" cy="57.2" r="0.9" fill="#b33b2b" opacity="0.56"/><circle cx="6.5" cy="46.8" r="1.1" fill="#e8c0a8" opacity="0.74"/><circle cx="88.1" cy="27.4" r="0.7" fill="#b8442e" opacity="0.59"/><circle cx="65.4" cy="13.3" r="0.6" fill="#7a2018" opacity="0.74"/><circle cx="5.0" cy="16.8" r="1.5" fill="#d9a58a" opacity="0.81"/><circle cx="71.6" cy="45.7" r="1.5" fill="#7a2018" opacity="0.88"/><circle cx="96.3" cy="16.7" r="1.1" fill="#e8c0a8" opacity="0.67"/><circle cx="62.0" cy="14.6" r="1.7" fill="#9a2a22" opacity="0.67"/><circle cx="78.3" cy="65.4" r="1.6" fill="#c86a52" opacity="0.71"/><circle cx="89.6" cy="15.2" r="1.5" fill="#b33b2b" opacity="0.86"/><circle cx="127.2" cy="9.2" r="0.9" fill="#7a2018" opacity="0.94"/><circle cx="134.5" cy="39.9" r="1.5" fill="#c86a52" opacity="0.62"/><circle cx="98.8" cy="1.2" r="1.2" fill="#9a2a22" opacity="0.70"/><circle cx="75.7" cy="57.1" r="1.2" fill="#9a2a22" opacity="0.60"/><circle cx="119.4" cy="31.9" r="0.6" fill="#d9a58a" opacity="0.65"/><circle cx="108.4" cy="10.4" r="0.8" fill="#d9a58a" opacity="0.91"/><circle cx="71.3" cy="50.4" r="1.1" fill="#7a2018" opacity="0.76"/><circle cx="94.8" cy="56.4" r="1.1" fill="#d9a58a" opacity="0.63"/><circle cx="100.3" cy="47.5" r="1.2" fill="#b33b2b" opacity="0.91"/><circle cx="35.3" cy="49.9" r="1.7" fill="#b33b2b" opacity="0.91"/><circle cx="28.7" cy="63.3" r="1.8" fill="#d9a58a" opacity="0.62"/><circle cx="68.5" cy="30.6" r="0.7" fill="#9a2a22" opacity="0.77"/><circle cx="3.8" cy="72.1" r="1.2" fill="#7a2018" opacity="0.74"/><circle cx="136.1" cy="9.1" r="0.7" fill="#b8442e" opacity="0.53"/><circle cx="74.1" cy="30.8" r="1.7" fill="#7a2018" opacity="0.62"/><circle cx="65.1" cy="9.4" r="1.1" fill="#b33b2b" opacity="0.92"/><circle cx="126.6" cy="39.0" r="0.7" fill="#7a2018" opacity="0.78"/><circle cx="127.3" cy="9.6" r="1.5" fill="#9a2a22" opacity="0.52"/><circle cx="21.4" cy="0.9" r="0.9" fill="#e8c0a8" opacity="0.66"/><circle cx="85.3" cy="7.8" r="1.5" fill="#9a2a22" opacity="0.88"/><circle cx="85.8" cy="53.4" r="1.4" fill="#7a2018" opacity="0.51"/><circle cx="87.1" cy="61.4" r="1.3" fill="#d9a58a" opacity="0.59"/><circle cx="86.9" cy="47.5" r="1.2" fill="#b33b2b" opacity="0.74"/><circle cx="80.7" cy="10.1" r="1.7" fill="#e8c0a8" opacity="0.86"/><circle cx="124.2" cy="23.5" r="1.0" fill="#b8442e" opacity="0.60"/><circle cx="137.4" cy="66.0" r="0.8" fill="#b8442e" opacity="0.56"/><circle cx="12.1" cy="28.8" r="1.1" fill="#7a2018" opacity="0.74"/><circle cx="97.0" cy="14.9" r="1.4" fill="#b33b2b" opacity="0.51"/><circle cx="27.6" cy="50.7" r="1.7" fill="#c86a52" opacity="0.55"/><circle cx="69.6" cy="56.4" r="1.2" fill="#e8c0a8" opacity="0.87"/><circle cx="110.5" cy="35.8" r="0.6" fill="#b33b2b" opacity="0.75"/><circle cx="70.8" cy="42.3" r="0.8" fill="#b8442e" opacity="0.55"/><circle cx="23.7" cy="11.8" r="0.9" fill="#e8c0a8" opacity="0.54"/><circle cx="8.5" cy="70.8" r="1.2" fill="#b33b2b" opacity="0.54"/><circle cx="53.8" cy="31.7" r="1.0" fill="#b8442e" opacity="0.77"/><circle cx="1.8" cy="52.1" r="1.6" fill="#b8442e" opacity="0.68"/><circle cx="49.5" cy="27.5" r="1.7" fill="#d9a58a" opacity="0.57"/><circle cx="70.5" cy="1.1" r="1.7" fill="#b33b2b" opacity="0.88"/><circle cx="120.5" cy="67.6" r="1.7" fill="#d9a58a" opacity="0.77"/><circle cx="69.4" cy="73.1" r="1.6" fill="#c86a52" opacity="0.63"/><circle cx="16.0" cy="55.2" r="0.8" fill="#7a2018" opacity="0.56"/><circle cx="45.4" cy="40.1" r="1.0" fill="#7a2018" opacity="0.84"/><circle cx="55.8" cy="53.7" r="0.7" fill="#c86a52" opacity="0.64"/><circle cx="13.9" cy="66.0" r="1.8" fill="#d9a58a" opacity="0.52"/><circle cx="37.6" cy="71.5" r="1.0" fill="#b8442e" opacity="0.80"/><circle cx="78.4" cy="39.6" r="1.1" fill="#7a2018" opacity="0.79"/><circle cx="96.5" cy="56.6" r="1.8" fill="#9a2a22" opacity="0.55"/><circle cx="14.9" cy="17.6" r="1.1" fill="#d9a58a" opacity="0.52"/><circle cx="26.9" cy="27.9" r="0.7" fill="#c86a52" opacity="0.62"/><circle cx="46.9" cy="40.2" r="1.1" fill="#d9a58a" opacity="0.76"/><circle cx="136.9" cy="47.4" r="1.6" fill="#9a2a22" opacity="0.75"/><circle cx="92.0" cy="71.0" r="1.1" fill="#b8442e" opacity="0.67"/><circle cx="133.5" cy="63.6" r="1.3" fill="#d9a58a" opacity="0.53"/><circle cx="130.1" cy="31.3" r="1.2" fill="#d9a58a" opacity="0.64"/><circle cx="73.0" cy="35.9" r="0.9" fill="#c86a52" opacity="0.80"/><circle cx="102.9" cy="2.0" r="1.5" fill="#d9a58a" opacity="0.52"/><circle cx="21.5" cy="56.1" r="1.1" fill="#c86a52" opacity="0.84"/><circle cx="6.9" cy="73.5" r="1.7" fill="#9a2a22" opacity="0.86"/><circle cx="30.8" cy="53.5" r="0.9" fill="#b33b2b" opacity="0.61"/><circle cx="72.0" cy="69.7" r="1.5" fill="#7a2018" opacity="0.56"/><circle cx="132.1" cy="18.2" r="1.4" fill="#9a2a22" opacity="0.78"/><circle cx="62.7" cy="15.1" r="0.7" fill="#d9a58a" opacity="0.57"/><circle cx="50.0" cy="10.4" r="1.1" fill="#d9a58a" opacity="0.62"/><circle cx="80.1" cy="31.2" r="1.5" fill="#d9a58a" opacity="0.87"/><circle cx="18.8" cy="21.6" r="0.8" fill="#7a2018" opacity="0.55"/><circle cx="122.8" cy="58.3" r="1.3" fill="#c86a52" opacity="0.62"/><circle cx="83.9" cy="53.9" r="1.4" fill="#b8442e" opacity="0.78"/><circle cx="103.7" cy="14.1" r="0.9" fill="#e8c0a8" opacity="0.91"/><circle cx="120.9" cy="2.9" r="0.7" fill="#c86a52" opacity="0.62"/><circle cx="3.7" cy="2.8" r="0.9" fill="#c86a52" opacity="0.53"/><circle cx="11.9" cy="50.3" r="1.3" fill="#e8c0a8" opacity="0.94"/><circle cx="66.6" cy="26.3" r="1.0" fill="#7a2018" opacity="0.84"/><circle cx="115.4" cy="5.5" r="0.7" fill="#b33b2b" opacity="0.87"/><circle cx="115.3" cy="57.2" r="1.1" fill="#e8c0a8" opacity="0.62"/><circle cx="111.4" cy="27.4" r="1.4" fill="#d9a58a" opacity="0.65"/><circle cx="75.5" cy="55.5" r="1.7" fill="#7a2018" opacity="0.79"/><circle cx="79.9" cy="34.4" r="1.0" fill="#d9a58a" opacity="0.54"/><circle cx="77.6" cy="36.1" r="1.4" fill="#c86a52" opacity="0.87"/><circle cx="1.3" cy="23.1" r="1.7" fill="#d9a58a" opacity="0.54"/><circle cx="41.8" cy="53.9" r="1.4" fill="#c86a52" opacity="0.90"/><circle cx="30.1" cy="48.9" r="1.0" fill="#9a2a22" opacity="0.65"/><circle cx="60.7" cy="44.2" r="1.7" fill="#e8c0a8" opacity="0.91"/><circle cx="60.3" cy="59.7" r="1.0" fill="#c86a52" opacity="0.60"/><circle cx="133.2" cy="54.3" r="1.2" fill="#9a2a22" opacity="0.66"/><circle cx="50.3" cy="27.0" r="1.1" fill="#7a2018" opacity="0.86"/><circle cx="101.7" cy="27.4" r="1.1" fill="#b8442e" opacity="0.88"/><circle cx="77.4" cy="13.1" r="1.5" fill="#b33b2b" opacity="0.63"/><circle cx="3.1" cy="38.3" r="1.3" fill="#d9a58a" opacity="0.63"/><circle cx="3.1" cy="62.6" r="1.1" fill="#d9a58a" opacity="0.75"/><circle cx="108.4" cy="6.2" r="0.7" fill="#e8c0a8" opacity="0.55"/><circle cx="43.2" cy="1.9" r="1.4" fill="#9a2a22" opacity="0.84"/><circle cx="89.3" cy="18.3" r="0.9" fill="#b33b2b" opacity="0.91"/><circle cx="46.5" cy="34.1" r="1.0" fill="#b33b2b" opacity="0.94"/><circle cx="92.5" cy="36.7" r="1.2" fill="#e8c0a8" opacity="0.53"/><circle cx="85.1" cy="3.4" r="1.5" fill="#e8c0a8" opacity="0.66"/><circle cx="0.5" cy="28.1" r="0.7" fill="#7a2018" opacity="0.93"/><circle cx="88.1" cy="39.0" r="1.5" fill="#b33b2b" opacity="0.55"/><circle cx="127.1" cy="68.1" r="0.9" fill="#b8442e" opacity="0.95"/><circle cx="51.7" cy="12.5" r="0.8" fill="#7a2018" opacity="0.74"/><circle cx="37.7" cy="65.9" r="1.2" fill="#e8c0a8" opacity="0.55"/><circle cx="89.2" cy="57.7" r="0.8" fill="#9a2a22" opacity="0.84"/><circle cx="2.4" cy="35.8" r="1.6" fill="#c86a52" opacity="0.55"/><circle cx="25.4" cy="16.2" r="0.9" fill="#e8c0a8" opacity="0.71"/><circle cx="70.0" cy="32.9" r="1.7" fill="#7a2018" opacity="0.58"/><circle cx="104.2" cy="23.2" r="1.3" fill="#b33b2b" opacity="0.75"/><circle cx="117.4" cy="36.0" r="1.1" fill="#c86a52" opacity="0.80"/><circle cx="106.2" cy="6.9" r="1.6" fill="#7a2018" opacity="0.52"/><circle cx="130.4" cy="59.6" r="1.1" fill="#d9a58a" opacity="0.86"/><circle cx="106.5" cy="58.6" r="0.7" fill="#b8442e" opacity="0.90"/><circle cx="120.3" cy="67.3" r="1.1" fill="#b8442e" opacity="0.82"/><circle cx="83.4" cy="11.7" r="0.8" fill="#c86a52" opacity="0.57"/><circle cx="125.0" cy="60.2" r="0.8" fill="#e8c0a8" opacity="0.95"/><circle cx="36.7" cy="39.8" r="0.8" fill="#b33b2b" opacity="0.58"/><circle cx="28.1" cy="68.1" r="0.8" fill="#b8442e" opacity="0.54"/><circle cx="37.1" cy="53.3" r="0.7" fill="#7a2018" opacity="0.81"/><circle cx="11.4" cy="55.7" r="1.3" fill="#d9a58a" opacity="0.64"/><circle cx="108.6" cy="31.0" r="1.7" fill="#9a2a22" opacity="0.85"/><circle cx="60.6" cy="2.8" r="1.1" fill="#7a2018" opacity="0.57"/><circle cx="114.5" cy="23.2" r="1.0" fill="#9a2a22" opacity="0.75"/><circle cx="137.2" cy="49.6" r="0.7" fill="#9a2a22" opacity="0.81"/><circle cx="14.6" cy="29.3" r="1.2" fill="#b33b2b" opacity="0.87"/><circle cx="90.0" cy="0.9" r="1.1" fill="#e8c0a8" opacity="0.71"/><circle cx="40.4" cy="8.4" r="1.5" fill="#b33b2b" opacity="0.95"/><circle cx="110.0" cy="15.4" r="1.3" fill="#c86a52" opacity="0.78"/><circle cx="129.0" cy="55.7" r="1.7" fill="#b33b2b" opacity="0.68"/><circle cx="91.7" cy="19.1" r="0.8" fill="#e8c0a8" opacity="0.55"/><circle cx="42.6" cy="20.4" r="1.2" fill="#e8c0a8" opacity="0.65"/><circle cx="113.8" cy="6.9" r="0.8" fill="#9a2a22" opacity="0.56"/><circle cx="86.7" cy="13.3" r="0.8" fill="#9a2a22" opacity="0.88"/><circle cx="81.6" cy="6.7" r="0.9" fill="#b8442e" opacity="0.94"/><circle cx="59.7" cy="57.3" r="1.0" fill="#b33b2b" opacity="0.69"/><circle cx="70.4" cy="48.1" r="1.5" fill="#b33b2b" opacity="0.81"/><circle cx="66.4" cy="68.5" r="1.3" fill="#e8c0a8" opacity="0.68"/><circle cx="96.3" cy="73.0" r="1.5" fill="#e8c0a8" opacity="0.94"/><circle cx="72.9" cy="19.4" r="0.8" fill="#c86a52" opacity="0.79"/><circle cx="14.6" cy="28.1" r="1.2" fill="#b33b2b" opacity="0.63"/><circle cx="14.1" cy="53.1" r="0.9" fill="#d9a58a" opacity="0.91"/><circle cx="75.4" cy="26.2" r="1.2" fill="#b8442e" opacity="0.76"/><circle cx="27.3" cy="69.4" r="1.8" fill="#e8c0a8" opacity="0.88"/><circle cx="27.1" cy="70.3" r="1.4" fill="#b8442e" opacity="0.85"/><circle cx="18.8" cy="35.5" r="1.1" fill="#c86a52" opacity="0.65"/><circle cx="127.8" cy="26.9" r="1.2" fill="#9a2a22" opacity="0.70"/><circle cx="100.4" cy="17.7" r="1.3" fill="#d9a58a" opacity="0.75"/><circle cx="77.1" cy="19.7" r="1.7" fill="#b33b2b" opacity="0.65"/><circle cx="20.0" cy="69.5" r="0.6" fill="#e8c0a8" opacity="0.90"/><circle cx="33.1" cy="42.7" r="1.6" fill="#b8442e" opacity="0.77"/><circle cx="111.6" cy="33.8" r="1.1" fill="#b33b2b" opacity="0.94"/><circle cx="129.3" cy="49.0" r="1.0" fill="#e8c0a8" opacity="0.88"/><circle cx="124.7" cy="45.7" r="1.4" fill="#b33b2b" opacity="0.51"/><circle cx="27.5" cy="34.8" r="0.8" fill="#7a2018" opacity="0.55"/><circle cx="55.8" cy="25.0" r="0.8" fill="#b8442e" opacity="0.76"/><circle cx="45.7" cy="47.7" r="0.6" fill="#e8c0a8" opacity="0.85"/><circle cx="55.5" cy="37.0" r="0.7" fill="#c86a52" opacity="0.69"/><circle cx="85.8" cy="51.3" r="1.5" fill="#b33b2b" opacity="0.63"/><circle cx="122.4" cy="34.5" r="1.7" fill="#e8c0a8" opacity="0.68"/><circle cx="59.7" cy="42.1" r="1.7" fill="#d9a58a" opacity="0.65"/><circle cx="71.6" cy="31.3" r="0.6" fill="#9a2a22" opacity="0.63"/><circle cx="84.8" cy="32.2" r="1.1" fill="#c86a52" opacity="0.84"/><circle cx="41.9" cy="44.1" r="0.7" fill="#9a2a22" opacity="0.88"/><circle cx="33.3" cy="64.9" r="1.8" fill="#7a2018" opacity="0.81"/><circle cx="72.4" cy="17.8" r="1.0" fill="#7a2018" opacity="0.92"/><circle cx="121.1" cy="74.3" r="1.5" fill="#b33b2b" opacity="0.80"/><circle cx="119.2" cy="31.3" r="1.6" fill="#b8442e" opacity="0.79"/><circle cx="58.0" cy="9.1" r="0.7" fill="#d9a58a" opacity="0.86"/><circle cx="17.0" cy="40.0" r="1.7" fill="#9a2a22" opacity="0.63"/><circle cx="100.2" cy="1.8" r="0.8" fill="#7a2018" opacity="0.90"/><circle cx="112.2" cy="29.5" r="1.0" fill="#d9a58a" opacity="0.60"/><circle cx="42.1" cy="33.8" r="1.0" fill="#c86a52" opacity="0.72"/><circle cx="128.5" cy="72.7" r="1.2" fill="#b8442e" opacity="0.59"/><circle cx="118.2" cy="51.5" r="0.7" fill="#c86a52" opacity="0.88"/><circle cx="48.7" cy="35.1" r="0.8" fill="#e8c0a8" opacity="0.95"/><circle cx="27.8" cy="47.0" r="0.8" fill="#9a2a22" opacity="0.79"/><circle cx="42.1" cy="60.8" r="1.8" fill="#c86a52" opacity="0.89"/><circle cx="98.1" cy="10.0" r="1.4" fill="#b33b2b" opacity="0.70"/><circle cx="10.9" cy="16.6" r="1.0" fill="#e8c0a8" opacity="0.81"/><circle cx="37.0" cy="53.5" r="1.2" fill="#c86a52" opacity="0.86"/><circle cx="51.3" cy="49.2" r="1.7" fill="#d9a58a" opacity="0.73"/><circle cx="134.5" cy="66.6" r="0.8" fill="#b8442e" opacity="0.62"/><circle cx="88.1" cy="6.7" r="1.8" fill="#7a2018" opacity="0.91"/><circle cx="10.2" cy="67.5" r="0.6" fill="#d9a58a" opacity="0.63"/><circle cx="34.5" cy="59.7" r="0.7" fill="#c86a52" opacity="0.94"/><circle cx="26.1" cy="13.3" r="1.5" fill="#9a2a22" opacity="0.58"/><circle cx="123.4" cy="73.4" r="0.6" fill="#7a2018" opacity="0.91"/><circle cx="80.5" cy="0.2" r="1.7" fill="#9a2a22" opacity="0.58"/><circle cx="76.5" cy="48.0" r="1.0" fill="#e8c0a8" opacity="0.72"/><circle cx="4.4" cy="21.7" r="1.6" fill="#e8c0a8" opacity="0.81"/><circle cx="71.6" cy="70.8" r="0.8" fill="#b33b2b" opacity="0.85"/><circle cx="15.4" cy="32.4" r="1.4" fill="#d9a58a" opacity="0.85"/><circle cx="108.2" cy="58.8" r="0.9" fill="#7a2018" opacity="0.74"/><circle cx="117.3" cy="44.9" r="0.9" fill="#b8442e" opacity="0.77"/><circle cx="98.3" cy="42.6" r="1.6" fill="#b8442e" opacity="0.65"/><circle cx="83.7" cy="45.3" r="1.6" fill="#d9a58a" opacity="0.70"/><circle cx="36.2" cy="59.4" r="0.7" fill="#b8442e" opacity="0.76"/><circle cx="74.7" cy="58.9" r="0.9" fill="#b8442e" opacity="0.52"/><circle cx="58.5" cy="51.7" r="1.6" fill="#e8c0a8" opacity="0.74"/><circle cx="36.4" cy="43.8" r="0.7" fill="#b33b2b" opacity="0.73"/><circle cx="52.1" cy="18.5" r="1.2" fill="#e8c0a8" opacity="0.87"/><circle cx="108.3" cy="4.5" r="1.1" fill="#c86a52" opacity="0.81"/><circle cx="96.8" cy="71.2" r="0.8" fill="#b33b2b" opacity="0.84"/><circle cx="135.7" cy="10.8" r="1.1" fill="#e8c0a8" opacity="0.94"/><circle cx="0.5" cy="30.5" r="1.2" fill="#9a2a22" opacity="0.68"/><circle cx="41.0" cy="31.6" r="0.7" fill="#9a2a22" opacity="0.81"/><circle cx="98.7" cy="72.6" r="1.3" fill="#c86a52" opacity="0.61"/><circle cx="75.9" cy="18.0" r="1.2" fill="#b8442e" opacity="0.66"/><circle cx="46.4" cy="73.0" r="1.3" fill="#9a2a22" opacity="0.57"/><circle cx="80.5" cy="74.0" r="1.5" fill="#d9a58a" opacity="0.81"/><circle cx="118.9" cy="43.9" r="1.7" fill="#7a2018" opacity="0.89"/><circle cx="128.7" cy="15.9" r="1.1" fill="#9a2a22" opacity="0.60"/><circle cx="47.8" cy="13.7" r="1.3" fill="#b8442e" opacity="0.72"/><circle cx="55.1" cy="44.2" r="1.5" fill="#7a2018" opacity="0.70"/><circle cx="136.7" cy="50.5" r="1.6" fill="#b8442e" opacity="0.74"/><circle cx="57.7" cy="3.5" r="0.9" fill="#c86a52" opacity="0.78"/><circle cx="71.4" cy="55.1" r="1.2" fill="#d9a58a" opacity="0.92"/><circle cx="98.4" cy="20.0" r="1.0" fill="#b8442e" opacity="0.83"/><circle cx="106.9" cy="10.2" r="0.9" fill="#b33b2b" opacity="0.91"/><circle cx="2.8" cy="24.0" r="1.1" fill="#9a2a22" opacity="0.88"/><circle cx="52.5" cy="19.1" r="1.7" fill="#e8c0a8" opacity="0.52"/><circle cx="54.2" cy="17.7" r="0.6" fill="#b8442e" opacity="0.73"/><circle cx="17.6" cy="15.5" r="1.1" fill="#7a2018" opacity="0.74"/><circle cx="18.7" cy="52.5" r="0.9" fill="#e8c0a8" opacity="0.70"/><circle cx="51.9" cy="65.4" r="1.6" fill="#d9a58a" opacity="0.82"/><circle cx="55.8" cy="28.7" r="1.6" fill="#b8442e" opacity="0.55"/><circle cx="51.0" cy="45.5" r="0.8" fill="#b33b2b" opacity="0.51"/><circle cx="86.7" cy="42.1" r="1.6" fill="#e8c0a8" opacity="0.63"/><circle cx="92.3" cy="68.3" r="0.9" fill="#e8c0a8" opacity="0.66"/><circle cx="16.8" cy="57.6" r="1.0" fill="#b33b2b" opacity="0.78"/><circle cx="12.4" cy="31.8" r="1.1" fill="#9a2a22" opacity="0.72"/><circle cx="128.1" cy="21.2" r="1.4" fill="#b8442e" opacity="0.57"/><circle cx="55.4" cy="35.3" r="0.8" fill="#e8c0a8" opacity="0.82"/><circle cx="71.6" cy="55.2" r="1.7" fill="#b33b2b" opacity="0.57"/><circle cx="80.2" cy="52.2" r="1.3" fill="#e8c0a8" opacity="0.91"/><circle cx="124.2" cy="8.9" r="1.7" fill="#7a2018" opacity="0.62"/><circle cx="51.9" cy="63.0" r="1.0" fill="#e8c0a8" opacity="0.65"/><circle cx="34.9" cy="1.7" r="1.0" fill="#c86a52" opacity="0.75"/><circle cx="36.0" cy="49.7" r="0.8" fill="#7a2018" opacity="0.67"/><circle cx="47.0" cy="66.8" r="0.6" fill="#e8c0a8" opacity="0.92"/><circle cx="106.2" cy="46.6" r="1.3" fill="#7a2018" opacity="0.78"/><circle cx="8.8" cy="5.1" r="1.2" fill="#7a2018" opacity="0.67"/><circle cx="125.2" cy="2.8" r="0.8" fill="#d9a58a" opacity="0.62"/><circle cx="68.1" cy="35.2" r="0.6" fill="#d9a58a" opacity="0.59"/><circle cx="31.4" cy="50.6" r="0.9" fill="#9a2a22" opacity="0.92"/><circle cx="134.8" cy="0.3" r="1.3" fill="#b33b2b" opacity="0.79"/><circle cx="75.4" cy="46.4" r="1.3" fill="#b33b2b" opacity="0.81"/><circle cx="109.6" cy="19.6" r="0.7" fill="#9a2a22" opacity="0.64"/><circle cx="98.5" cy="51.7" r="1.4" fill="#b8442e" opacity="0.87"/><circle cx="21.9" cy="46.2" r="1.2" fill="#d9a58a" opacity="0.63"/><circle cx="57.1" cy="27.3" r="1.4" fill="#7a2018" opacity="0.61"/><circle cx="34.3" cy="24.2" r="0.8" fill="#d9a58a" opacity="0.83"/><circle cx="120.7" cy="73.6" r="1.6" fill="#e8c0a8" opacity="0.64"/><circle cx="116.8" cy="38.1" r="1.4" fill="#9a2a22" opacity="0.57"/><circle cx="119.2" cy="64.7" r="0.7" fill="#c86a52" opacity="0.68"/><circle cx="101.8" cy="51.6" r="0.9" fill="#e8c0a8" opacity="0.61"/><circle cx="98.5" cy="24.3" r="1.0" fill="#b33b2b" opacity="0.59"/><circle cx="77.6" cy="9.6" r="1.8" fill="#e8c0a8" opacity="0.82"/><circle cx="85.7" cy="61.8" r="1.6" fill="#b8442e" opacity="0.59"/><circle cx="85.5" cy="21.7" r="1.4" fill="#9a2a22" opacity="0.71"/><circle cx="95.5" cy="58.8" r="1.7" fill="#c86a52" opacity="0.81"/><circle cx="57.7" cy="47.0" r="1.1" fill="#e8c0a8" opacity="0.94"/><circle cx="6.7" cy="53.0" r="0.7" fill="#9a2a22" opacity="0.59"/><circle cx="49.0" cy="40.0" r="1.6" fill="#7a2018" opacity="0.65"/><circle cx="3.6" cy="40.3" r="1.2" fill="#c86a52" opacity="0.53"/><circle cx="60.4" cy="64.7" r="1.4" fill="#b8442e" opacity="0.68"/><circle cx="85.0" cy="56.9" r="1.8" fill="#7a2018" opacity="0.80"/><circle cx="29.8" cy="21.0" r="1.6" fill="#7a2018" opacity="0.58"/><circle cx="14.7" cy="69.4" r="0.9" fill="#7a2018" opacity="0.69"/><circle cx="20.9" cy="65.8" r="0.9" fill="#d9a58a" opacity="0.56"/><circle cx="86.0" cy="20.4" r="0.9" fill="#7a2018" opacity="0.59"/><circle cx="75.9" cy="41.6" r="0.8" fill="#9a2a22" opacity="0.90"/><circle cx="42.6" cy="5.8" r="0.8" fill="#7a2018" opacity="0.56"/><circle cx="108.6" cy="73.7" r="1.1" fill="#9a2a22" opacity="0.69"/><circle cx="111.0" cy="29.4" r="0.7" fill="#d9a58a" opacity="0.78"/><circle cx="113.8" cy="18.8" r="0.8" fill="#c86a52" opacity="0.89"/><circle cx="136.8" cy="33.0" r="1.6" fill="#e8c0a8" opacity="0.52"/><circle cx="118.0" cy="70.2" r="1.2" fill="#e8c0a8" opacity="0.53"/><circle cx="49.4" cy="56.0" r="1.0" fill="#d9a58a" opacity="0.71"/><circle cx="122.0" cy="4.7" r="1.0" fill="#b33b2b" opacity="0.74"/><circle cx="111.5" cy="58.9" r="1.5" fill="#7a2018" opacity="0.64"/><circle cx="73.1" cy="49.5" r="1.6" fill="#b33b2b" opacity="0.55"/><circle cx="130.8" cy="29.9" r="1.4" fill="#c86a52" opacity="0.90"/><circle cx="85.8" cy="0.7" r="0.8" fill="#c86a52" opacity="0.67"/><circle cx="50.8" cy="48.9" r="1.6" fill="#c86a52" opacity="0.78"/><circle cx="61.9" cy="23.2" r="0.7" fill="#e8c0a8" opacity="0.64"/><circle cx="13.0" cy="24.9" r="1.5" fill="#b8442e" opacity="0.52"/><circle cx="18.0" cy="22.6" r="0.8" fill="#c86a52" opacity="0.55"/><circle cx="19.7" cy="26.1" r="1.1" fill="#9a2a22" opacity="0.68"/><circle cx="7.2" cy="7.0" r="1.7" fill="#b33b2b" opacity="0.93"/><circle cx="28.2" cy="65.5" r="1.0" fill="#b33b2b" opacity="0.77"/><circle cx="79.6" cy="23.9" r="1.2" fill="#b8442e" opacity="0.72"/><circle cx="107.4" cy="66.0" r="1.6" fill="#9a2a22" opacity="0.80"/><circle cx="130.4" cy="24.0" r="0.8" fill="#c86a52" opacity="0.74"/><circle cx="1.4" cy="54.3" r="1.4" fill="#e8c0a8" opacity="0.52"/><circle cx="84.8" cy="25.6" r="1.1" fill="#e8c0a8" opacity="0.78"/><circle cx="69.5" cy="42.2" r="0.7" fill="#b33b2b" opacity="0.83"/><circle cx="102.4" cy="32.4" r="1.2" fill="#b33b2b" opacity="0.67"/><circle cx="31.7" cy="44.7" r="1.3" fill="#d9a58a" opacity="0.91"/><circle cx="72.7" cy="33.6" r="0.9" fill="#9a2a22" opacity="0.77"/><circle cx="128.2" cy="11.3" r="1.2" fill="#c86a52" opacity="0.83"/><circle cx="43.1" cy="54.8" r="1.8" fill="#7a2018" opacity="0.52"/><circle cx="133.2" cy="56.0" r="1.7" fill="#9a2a22" opacity="0.61"/><circle cx="115.6" cy="48.3" r="1.7" fill="#b33b2b" opacity="0.55"/><circle cx="14.3" cy="18.7" r="0.9" fill="#b8442e" opacity="0.89"/><circle cx="97.9" cy="18.6" r="1.6" fill="#7a2018" opacity="0.59"/><circle cx="2.0" cy="31.7" r="1.2" fill="#e8c0a8" opacity="0.61"/><circle cx="14.8" cy="32.8" r="1.5" fill="#b8442e" opacity="0.53"/><circle cx="68.3" cy="4.2" r="1.6" fill="#9a2a22" opacity="0.86"/><circle cx="20.9" cy="27.2" r="0.7" fill="#9a2a22" opacity="0.92"/><circle cx="131.4" cy="16.3" r="0.9" fill="#7a2018" opacity="0.58"/><circle cx="53.5" cy="63.1" r="1.3" fill="#7a2018" opacity="0.53"/><circle cx="135.9" cy="15.4" r="1.4" fill="#e8c0a8" opacity="0.94"/><circle cx="77.1" cy="73.9" r="1.1" fill="#b33b2b" opacity="0.65"/><circle cx="43.4" cy="46.8" r="0.9" fill="#d9a58a" opacity="0.59"/><circle cx="28.8" cy="57.0" r="0.8" fill="#d9a58a" opacity="0.71"/><circle cx="17.8" cy="8.6" r="1.7" fill="#d9a58a" opacity="0.78"/><circle cx="42.3" cy="0.6" r="0.7" fill="#b8442e" opacity="0.83"/><circle cx="49.6" cy="23.1" r="1.1" fill="#b8442e" opacity="0.53"/><circle cx="36.6" cy="27.9" r="1.3" fill="#c86a52" opacity="0.71"/><circle cx="69.7" cy="70.0" r="1.0" fill="#e8c0a8" opacity="0.69"/><circle cx="67.8" cy="8.7" r="0.7" fill="#c86a52" opacity="0.93"/><circle cx="10.8" cy="48.2" r="0.9" fill="#7a2018" opacity="0.67"/><circle cx="102.3" cy="44.7" r="1.1" fill="#9a2a22" opacity="0.67"/><circle cx="45.9" cy="43.4" r="1.4" fill="#c86a52" opacity="0.63"/><circle cx="95.6" cy="50.0" r="0.9" fill="#7a2018" opacity="0.67"/><circle cx="81.6" cy="64.4" r="1.1" fill="#c86a52" opacity="0.65"/><circle cx="112.9" cy="63.2" r="1.3" fill="#d9a58a" opacity="0.80"/><circle cx="62.4" cy="15.6" r="1.5" fill="#9a2a22" opacity="0.67"/><circle cx="99.5" cy="49.8" r="1.0" fill="#b33b2b" opacity="0.93"/><circle cx="3.2" cy="47.1" r="1.2" fill="#c86a52" opacity="0.58"/><circle cx="69.6" cy="35.7" r="1.4" fill="#9a2a22" opacity="0.94"/><circle cx="134.4" cy="73.8" r="1.1" fill="#b33b2b" opacity="0.60"/><circle cx="74.5" cy="8.2" r="0.7" fill="#7a2018" opacity="0.80"/><circle cx="108.7" cy="69.3" r="1.2" fill="#d9a58a" opacity="0.59"/><circle cx="50.9" cy="10.6" r="1.1" fill="#e8c0a8" opacity="0.86"/><circle cx="0.5" cy="71.3" r="1.4" fill="#b33b2b" opacity="0.83"/><circle cx="34.9" cy="60.3" r="1.5" fill="#b33b2b" opacity="0.90"/><circle cx="59.6" cy="11.6" r="1.0" fill="#c86a52" opacity="0.93"/><circle cx="123.3" cy="1.8" r="1.0" fill="#d9a58a" opacity="0.75"/><circle cx="134.1" cy="57.7" r="0.7" fill="#d9a58a" opacity="0.75"/><circle cx="9.3" cy="17.7" r="1.4" fill="#d9a58a" opacity="0.73"/><circle cx="40.5" cy="57.8" r="0.9" fill="#7a2018" opacity="0.71"/><circle cx="136.2" cy="43.8" r="0.8" fill="#9a2a22" opacity="0.71"/><circle cx="117.1" cy="7.8" r="1.6" fill="#b8442e" opacity="0.56"/><circle cx="77.7" cy="12.9" r="1.3" fill="#b33b2b" opacity="0.82"/><circle cx="16.4" cy="61.1" r="0.9" fill="#b33b2b" opacity="0.87"/><circle cx="101.1" cy="53.0" r="0.8" fill="#d9a58a" opacity="0.78"/><circle cx="55.7" cy="36.7" r="1.7" fill="#d9a58a" opacity="0.79"/><circle cx="116.6" cy="3.4" r="1.1" fill="#9a2a22" opacity="0.60"/><circle cx="73.9" cy="48.9" r="1.1" fill="#7a2018" opacity="0.59"/><circle cx="136.7" cy="41.6" r="0.8" fill="#d9a58a" opacity="0.92"/><circle cx="13.4" cy="46.5" r="0.9" fill="#d9a58a" opacity="0.62"/><circle cx="50.6" cy="31.9" r="1.2" fill="#c86a52" opacity="0.79"/><circle cx="45.9" cy="8.7" r="1.0" fill="#d9a58a" opacity="0.53"/><circle cx="72.6" cy="40.7" r="1.1" fill="#b8442e" opacity="0.80"/><circle cx="98.1" cy="2.4" r="1.0" fill="#b8442e" opacity="0.73"/><circle cx="72.5" cy="54.5" r="1.0" fill="#d9a58a" opacity="0.93"/><circle cx="1.0" cy="44.1" r="1.8" fill="#c86a52" opacity="0.93"/><ellipse cx="156.95" cy="54.34" rx="15.05" ry="51.48" fill="url(#rg2)" opacity="0.55"/><circle cx="152.0" cy="26.1" r="1.0" fill="#ffffff" opacity="0.73"/><circle cx="143.4" cy="54.1" r="0.8" fill="#f0b8c8" opacity="0.62"/><circle cx="161.7" cy="32.0" r="1.0" fill="#e890a8" opacity="0.86"/><circle cx="160.1" cy="42.0" r="0.5" fill="#fbe8ee" opacity="0.87"/><circle cx="175.6" cy="86.6" r="0.7" fill="#f0b8c8" opacity="0.66"/><circle cx="168.0" cy="20.9" r="0.6" fill="#f0b8c8" opacity="0.62"/><circle cx="157.2" cy="66.5" r="0.8" fill="#f0b8c8" opacity="0.86"/><circle cx="154.6" cy="7.9" r="1.1" fill="#f6d6e0" opacity="0.83"/><circle cx="169.2" cy="46.4" r="0.9" fill="#ffffff" opacity="0.67"/><circle cx="157.4" cy="13.8" r="0.9" fill="#f6d6e0" opacity="0.75"/><circle cx="149.3" cy="17.2" r="0.7" fill="#ffffff" opacity="0.93"/><circle cx="159.6" cy="98.7" r="0.7" fill="#fbe8ee" opacity="0.88"/><circle cx="154.7" cy="72.9" r="0.9" fill="#ffffff" opacity="0.97"/><circle cx="149.7" cy="26.3" r="0.7" fill="#fbe8ee" opacity="0.66"/><circle cx="161.1" cy="32.4" r="0.7" fill="#e890a8" opacity="0.97"/><circle cx="155.5" cy="25.2" r="1.0" fill="#e890a8" opacity="0.80"/><circle cx="154.2" cy="81.4" r="0.5" fill="#f6d6e0" opacity="0.91"/><circle cx="150.0" cy="37.2" r="0.4" fill="#f6d6e0" opacity="0.86"/><circle cx="147.2" cy="72.2" r="0.8" fill="#fbe8ee" opacity="0.94"/><circle cx="166.4" cy="40.6" r="0.9" fill="#e890a8" opacity="0.88"/><circle cx="154.3" cy="53.3" r="0.9" fill="#f0b8c8" opacity="0.89"/><circle cx="158.9" cy="61.6" r="0.6" fill="#ffffff" opacity="0.92"/><circle cx="156.8" cy="26.5" r="1.1" fill="#ffffff" opacity="0.82"/><circle cx="162.6" cy="100.6" r="1.1" fill="#e890a8" opacity="0.75"/><circle cx="160.5" cy="66.0" r="0.9" fill="#fbe8ee" opacity="0.94"/><circle cx="160.2" cy="9.1" r="1.0" fill="#fbe8ee" opacity="0.66"/><circle cx="148.2" cy="49.2" r="1.2" fill="#f0b8c8" opacity="0.92"/><circle cx="157.5" cy="15.2" r="1.0" fill="#f6d6e0" opacity="0.99"/><circle cx="164.9" cy="39.2" r="0.5" fill="#f6d6e0" opacity="0.83"/><circle cx="147.5" cy="93.2" r="1.1" fill="#f0b8c8" opacity="0.75"/><circle cx="168.4" cy="34.0" r="1.1" fill="#f0b8c8" opacity="0.64"/><circle cx="153.3" cy="40.5" r="0.5" fill="#f0b8c8" opacity="0.87"/><circle cx="154.8" cy="31.3" r="0.5" fill="#ffffff" opacity="0.71"/><circle cx="166.4" cy="32.7" r="0.8" fill="#e890a8" opacity="0.66"/><circle cx="166.3" cy="65.0" r="0.8" fill="#f6d6e0" opacity="0.81"/><circle cx="145.5" cy="69.9" r="1.1" fill="#f0b8c8" opacity="0.72"/><circle cx="145.2" cy="69.1" r="0.8" fill="#e890a8" opacity="0.78"/><circle cx="162.7" cy="41.7" r="1.0" fill="#fbe8ee" opacity="0.71"/><circle cx="154.7" cy="13.0" r="0.8" fill="#fbe8ee" opacity="0.98"/><circle cx="141.5" cy="69.6" r="0.5" fill="#ffffff" opacity="0.64"/><circle cx="153.5" cy="101.9" r="0.6" fill="#f6d6e0" opacity="0.62"/><circle cx="155.4" cy="70.5" r="0.5" fill="#ffffff" opacity="0.77"/><circle cx="167.1" cy="100.5" r="1.2" fill="#fbe8ee" opacity="0.82"/><circle cx="169.6" cy="48.2" r="0.9" fill="#ffffff" opacity="0.81"/><circle cx="151.6" cy="24.9" r="1.0" fill="#e890a8" opacity="0.66"/><circle cx="164.0" cy="24.5" r="1.0" fill="#ffffff" opacity="0.82"/><circle cx="166.5" cy="18.8" r="0.6" fill="#f0b8c8" opacity="0.69"/><circle cx="155.3" cy="32.2" r="0.5" fill="#fbe8ee" opacity="0.98"/><circle cx="170.2" cy="96.6" r="0.4" fill="#e890a8" opacity="0.92"/><circle cx="150.2" cy="102.6" r="0.9" fill="#fbe8ee" opacity="0.73"/><circle cx="163.2" cy="21.0" r="1.1" fill="#ffffff" opacity="0.64"/><circle cx="168.2" cy="90.2" r="1.2" fill="#ffffff" opacity="0.77"/><circle cx="159.8" cy="64.5" r="1.1" fill="#ffffff" opacity="0.60"/><circle cx="160.8" cy="12.3" r="1.0" fill="#e890a8" opacity="0.93"/><circle cx="151.3" cy="39.4" r="0.4" fill="#f6d6e0" opacity="0.70"/><circle cx="160.7" cy="62.7" r="0.8" fill="#f0b8c8" opacity="0.81"/><circle cx="150.4" cy="96.3" r="0.7" fill="#f6d6e0" opacity="0.66"/><circle cx="165.7" cy="30.4" r="0.8" fill="#f0b8c8" opacity="0.67"/><circle cx="152.4" cy="63.6" r="0.9" fill="#fbe8ee" opacity="0.95"/><circle cx="147.7" cy="23.7" r="0.6" fill="#f0b8c8" opacity="0.80"/><circle cx="156.6" cy="9.1" r="0.6" fill="#ffffff" opacity="0.63"/><circle cx="151.9" cy="80.0" r="0.6" fill="#f6d6e0" opacity="0.62"/><circle cx="153.1" cy="70.8" r="0.5" fill="#ffffff" opacity="1.00"/><circle cx="155.5" cy="43.4" r="0.5" fill="#f6d6e0" opacity="0.74"/><circle cx="158.8" cy="33.6" r="0.9" fill="#ffffff" opacity="0.79"/><circle cx="149.8" cy="85.3" r="0.4" fill="#e890a8" opacity="0.61"/><circle cx="164.5" cy="21.1" r="0.5" fill="#f6d6e0" opacity="0.95"/><circle cx="154.7" cy="99.1" r="1.1" fill="#f0b8c8" opacity="0.66"/><circle cx="165.8" cy="36.8" r="0.4" fill="#f6d6e0" opacity="0.65"/><circle cx="167.2" cy="71.7" r="1.1" fill="#e890a8" opacity="0.75"/><circle cx="154.5" cy="20.0" r="1.1" fill="#f6d6e0" opacity="0.89"/><circle cx="140.1" cy="71.5" r="0.5" fill="#f0b8c8" opacity="0.67"/><circle cx="163.6" cy="58.3" r="0.9" fill="#fbe8ee" opacity="0.70"/><circle cx="163.4" cy="14.7" r="0.9" fill="#ffffff" opacity="0.63"/><circle cx="152.3" cy="95.6" r="0.8" fill="#f6d6e0" opacity="0.99"/><circle cx="168.8" cy="67.8" r="0.5" fill="#e890a8" opacity="0.92"/><circle cx="165.2" cy="64.4" r="1.1" fill="#e890a8" opacity="0.62"/><circle cx="155.5" cy="20.1" r="0.8" fill="#ffffff" opacity="0.78"/><circle cx="148.8" cy="33.1" r="0.4" fill="#e890a8" opacity="0.89"/><circle cx="152.2" cy="26.3" r="0.4" fill="#f6d6e0" opacity="0.77"/><circle cx="167.0" cy="11.9" r="0.4" fill="#f0b8c8" opacity="0.61"/><circle cx="154.5" cy="35.3" r="0.4" fill="#f0b8c8" opacity="0.94"/><circle cx="146.3" cy="30.1" r="1.0" fill="#f6d6e0" opacity="0.74"/><circle cx="152.6" cy="91.7" r="0.9" fill="#e890a8" opacity="0.77"/><circle cx="152.0" cy="98.0" r="0.8" fill="#fbe8ee" opacity="0.94"/><circle cx="153.9" cy="91.5" r="0.5" fill="#fbe8ee" opacity="0.82"/><circle cx="168.2" cy="96.5" r="0.7" fill="#fbe8ee" opacity="0.83"/><circle cx="150.7" cy="21.0" r="1.2" fill="#f0b8c8" opacity="0.86"/><circle cx="156.5" cy="52.3" r="0.5" fill="#fbe8ee" opacity="0.86"/><circle cx="156.5" cy="72.4" r="0.9" fill="#e890a8" opacity="0.71"/><circle cx="147.4" cy="50.7" r="0.5" fill="#e890a8" opacity="0.86"/><circle cx="152.2" cy="11.7" r="0.5" fill="#ffffff" opacity="0.71"/><circle cx="154.0" cy="83.5" r="0.6" fill="#e890a8" opacity="0.92"/><circle cx="158.1" cy="30.5" r="1.1" fill="#fbe8ee" opacity="0.64"/><circle cx="155.4" cy="12.8" r="1.1" fill="#f6d6e0" opacity="0.72"/><circle cx="159.0" cy="87.5" r="0.8" fill="#f0b8c8" opacity="0.97"/><circle cx="150.0" cy="49.1" r="0.6" fill="#f6d6e0" opacity="0.87"/><circle cx="147.8" cy="83.3" r="1.0" fill="#f0b8c8" opacity="0.92"/><circle cx="163.1" cy="35.2" r="0.6" fill="#ffffff" opacity="0.98"/><circle cx="169.3" cy="69.7" r="0.8" fill="#fbe8ee" opacity="0.87"/><circle cx="142.5" cy="89.9" r="1.2" fill="#f6d6e0" opacity="0.64"/><circle cx="167.5" cy="101.2" r="1.1" fill="#f0b8c8" opacity="0.70"/><circle cx="147.0" cy="31.1" r="1.0" fill="#f6d6e0" opacity="0.90"/><circle cx="148.6" cy="70.8" r="0.7" fill="#e890a8" opacity="0.91"/><circle cx="160.3" cy="61.1" r="1.2" fill="#e890a8" opacity="0.69"/><circle cx="142.0" cy="74.9" r="0.4" fill="#f6d6e0" opacity="0.80"/><circle cx="162.4" cy="65.8" r="0.5" fill="#f6d6e0" opacity="0.81"/><circle cx="156.2" cy="36.4" r="0.6" fill="#f6d6e0" opacity="0.61"/><circle cx="155.6" cy="15.8" r="0.7" fill="#ffffff" opacity="0.96"/><circle cx="169.8" cy="34.0" r="1.2" fill="#fbe8ee" opacity="0.72"/><circle cx="154.4" cy="16.3" r="0.6" fill="#e890a8" opacity="0.63"/><circle cx="157.5" cy="15.1" r="1.0" fill="#ffffff" opacity="0.79"/><circle cx="156.8" cy="25.1" r="0.9" fill="#f6d6e0" opacity="0.77"/><circle cx="151.2" cy="44.5" r="0.7" fill="#f0b8c8" opacity="0.72"/><circle cx="166.4" cy="57.4" r="0.6" fill="#f6d6e0" opacity="0.92"/><circle cx="145.5" cy="94.8" r="0.5" fill="#e890a8" opacity="0.77"/><circle cx="151.9" cy="59.7" r="0.9" fill="#fbe8ee" opacity="0.96"/><circle cx="145.2" cy="30.1" r="0.8" fill="#ffffff" opacity="0.81"/><circle cx="161.7" cy="11.3" r="0.5" fill="#fbe8ee" opacity="0.99"/><circle cx="168.9" cy="82.3" r="0.9" fill="#f0b8c8" opacity="0.71"/><circle cx="157.6" cy="11.4" r="0.4" fill="#ffffff" opacity="0.98"/><circle cx="154.9" cy="24.6" r="0.6" fill="#ffffff" opacity="0.82"/><circle cx="165.4" cy="65.5" r="1.1" fill="#e890a8" opacity="0.80"/><circle cx="157.1" cy="82.0" r="0.6" fill="#f6d6e0" opacity="0.87"/><circle cx="155.2" cy="74.8" r="0.5" fill="#ffffff" opacity="0.83"/><circle cx="155.4" cy="44.9" r="0.7" fill="#e890a8" opacity="0.89"/><circle cx="153.2" cy="29.6" r="1.0" fill="#fbe8ee" opacity="0.95"/><circle cx="153.5" cy="95.8" r="0.9" fill="#f0b8c8" opacity="0.72"/><circle cx="159.7" cy="55.2" r="0.7" fill="#e890a8" opacity="0.95"/><circle cx="171.8" cy="24.3" r="0.4" fill="#ffffff" opacity="0.88"/><circle cx="150.1" cy="48.2" r="0.8" fill="#f0b8c8" opacity="0.68"/><circle cx="159.2" cy="8.0" r="1.1" fill="#fbe8ee" opacity="0.91"/><circle cx="148.8" cy="91.2" r="0.8" fill="#e890a8" opacity="0.87"/><circle cx="159.3" cy="54.8" r="1.0" fill="#e890a8" opacity="0.95"/><circle cx="161.8" cy="28.0" r="0.9" fill="#fbe8ee" opacity="0.86"/><circle cx="159.4" cy="70.8" r="0.7" fill="#f0b8c8" opacity="0.69"/><circle cx="158.1" cy="101.0" r="0.7" fill="#e890a8" opacity="0.61"/><circle cx="147.7" cy="46.2" r="1.0" fill="#f0b8c8" opacity="0.64"/><circle cx="146.0" cy="34.9" r="1.2" fill="#e890a8" opacity="0.62"/><circle cx="167.3" cy="62.4" r="1.1" fill="#e890a8" opacity="0.63"/><circle cx="168.7" cy="38.7" r="0.7" fill="#e890a8" opacity="0.70"/><circle cx="155.3" cy="74.3" r="0.8" fill="#fbe8ee" opacity="0.66"/><circle cx="169.4" cy="62.6" r="1.0" fill="#fbe8ee" opacity="0.98"/><circle cx="158.9" cy="32.4" r="0.9" fill="#fbe8ee" opacity="0.98"/><circle cx="149.0" cy="82.9" r="0.8" fill="#e890a8" opacity="0.72"/><circle cx="172.0" cy="84.1" r="0.7" fill="#f6d6e0" opacity="0.64"/><circle cx="165.0" cy="59.9" r="0.8" fill="#ffffff" opacity="0.98"/><circle cx="159.5" cy="40.0" r="1.0" fill="#ffffff" opacity="0.60"/><circle cx="152.6" cy="41.1" r="0.6" fill="#f0b8c8" opacity="0.66"/><circle cx="155.7" cy="62.0" r="0.8" fill="#fbe8ee" opacity="0.75"/><circle cx="154.6" cy="36.0" r="1.1" fill="#fbe8ee" opacity="0.70"/><circle cx="153.4" cy="23.0" r="0.5" fill="#ffffff" opacity="0.85"/><circle cx="161.8" cy="7.8" r="0.4" fill="#fbe8ee" opacity="0.61"/><circle cx="157.8" cy="85.3" r="1.1" fill="#f6d6e0" opacity="0.85"/><circle cx="152.7" cy="84.6" r="1.1" fill="#e890a8" opacity="0.88"/><circle cx="162.0" cy="8.4" r="1.1" fill="#fbe8ee" opacity="0.71"/><circle cx="149.9" cy="59.1" r="0.9" fill="#f0b8c8" opacity="0.66"/><circle cx="156.7" cy="99.5" r="0.7" fill="#e890a8" opacity="0.95"/><circle cx="159.1" cy="63.3" r="1.0" fill="#e890a8" opacity="0.74"/><circle cx="161.2" cy="74.4" r="0.6" fill="#f0b8c8" opacity="0.95"/><circle cx="158.0" cy="28.0" r="1.0" fill="#ffffff" opacity="0.94"/><circle cx="164.0" cy="78.2" r="1.0" fill="#fbe8ee" opacity="0.98"/><circle cx="163.5" cy="63.4" r="1.0" fill="#e890a8" opacity="0.84"/><circle cx="158.0" cy="89.6" r="0.5" fill="#ffffff" opacity="0.77"/><circle cx="165.7" cy="59.6" r="0.4" fill="#f6d6e0" opacity="0.88"/><circle cx="151.3" cy="37.1" r="0.8" fill="#f0b8c8" opacity="0.69"/><circle cx="162.6" cy="6.1" r="1.1" fill="#f0b8c8" opacity="0.70"/><circle cx="157.7" cy="7.3" r="0.6" fill="#fbe8ee" opacity="0.67"/><circle cx="159.0" cy="15.1" r="0.9" fill="#f6d6e0" opacity="0.72"/><circle cx="160.9" cy="92.0" r="1.0" fill="#fbe8ee" opacity="0.92"/><circle cx="168.8" cy="38.9" r="0.9" fill="#f4d8e0" opacity="0.58"/><circle cx="182.0" cy="40.4" r="0.7" fill="#f4d8e0" opacity="0.69"/><circle cx="190.1" cy="81.9" r="0.6" fill="#f4d8e0" opacity="0.55"/><circle cx="178.3" cy="49.5" r="0.8" fill="#f4d8e0" opacity="0.42"/><circle cx="170.9" cy="47.7" r="1.0" fill="#f4d8e0" opacity="0.68"/><circle cx="180.6" cy="54.5" r="0.6" fill="#f4d8e0" opacity="0.87"/><circle cx="184.9" cy="37.7" r="0.7" fill="#f4d8e0" opacity="0.73"/><circle cx="182.5" cy="83.9" r="0.5" fill="#f4d8e0" opacity="0.45"/><circle cx="172.7" cy="52.0" r="0.7" fill="#f4d8e0" opacity="0.42"/><circle cx="177.2" cy="42.1" r="0.6" fill="#f4d8e0" opacity="0.88"/><circle cx="175.4" cy="83.4" r="0.9" fill="#f4d8e0" opacity="0.76"/><circle cx="177.8" cy="75.1" r="0.7" fill="#f4d8e0" opacity="0.89"/><circle cx="185.3" cy="60.5" r="0.4" fill="#f4d8e0" opacity="0.75"/><circle cx="173.2" cy="26.4" r="0.8" fill="#f4d8e0" opacity="0.52"/><circle cx="163.3" cy="68.1" r="0.9" fill="#f4d8e0" opacity="0.89"/><circle cx="178.5" cy="87.4" r="0.8" fill="#f4d8e0" opacity="0.41"/><circle cx="175.8" cy="64.6" r="0.5" fill="#f4d8e0" opacity="0.56"/><circle cx="164.0" cy="34.1" r="0.9" fill="#f4d8e0" opacity="0.66"/><circle cx="182.5" cy="34.9" r="0.9" fill="#f4d8e0" opacity="0.51"/><circle cx="177.8" cy="33.3" r="0.6" fill="#f4d8e0" opacity="0.76"/><circle cx="176.0" cy="66.8" r="0.8" fill="#f4d8e0" opacity="0.84"/><circle cx="167.3" cy="67.6" r="1.0" fill="#f4d8e0" opacity="0.80"/><circle cx="187.1" cy="44.3" r="0.5" fill="#f4d8e0" opacity="0.40"/><circle cx="172.3" cy="70.4" r="0.9" fill="#f4d8e0" opacity="0.55"/><circle cx="185.3" cy="49.2" r="0.8" fill="#f4d8e0" opacity="0.61"/><circle cx="172.0" cy="68.3" r="0.4" fill="#f4d8e0" opacity="0.70"/><circle cx="177.9" cy="27.4" r="0.6" fill="#f4d8e0" opacity="0.75"/><circle cx="182.7" cy="48.7" r="1.0" fill="#f4d8e0" opacity="0.73"/><circle cx="185.1" cy="68.0" r="0.8" fill="#f4d8e0" opacity="0.87"/><circle cx="184.7" cy="44.3" r="0.4" fill="#f4d8e0" opacity="0.61"/><circle cx="175.7" cy="39.6" r="0.5" fill="#f4d8e0" opacity="0.58"/><circle cx="176.7" cy="65.0" r="0.7" fill="#f4d8e0" opacity="0.59"/><circle cx="187.1" cy="64.9" r="0.5" fill="#f4d8e0" opacity="0.41"/><circle cx="175.2" cy="68.5" r="0.8" fill="#f4d8e0" opacity="0.71"/><circle cx="171.4" cy="24.5" r="0.7" fill="#f4d8e0" opacity="0.88"/><circle cx="180.8" cy="30.7" r="0.6" fill="#f4d8e0" opacity="0.51"/><circle cx="172.7" cy="33.1" r="0.6" fill="#f4d8e0" opacity="0.84"/><circle cx="180.9" cy="46.5" r="0.4" fill="#f4d8e0" opacity="0.54"/><circle cx="168.2" cy="38.7" r="0.8" fill="#f4d8e0" opacity="0.47"/><circle cx="169.4" cy="72.4" r="0.5" fill="#f4d8e0" opacity="0.57"/><circle cx="190.1" cy="63.8" r="0.5" fill="#f4d8e0" opacity="0.49"/><circle cx="177.6" cy="53.6" r="0.7" fill="#f4d8e0" opacity="0.44"/><circle cx="176.0" cy="80.5" r="0.9" fill="#f4d8e0" opacity="0.60"/><circle cx="178.1" cy="48.5" r="0.8" fill="#f4d8e0" opacity="0.45"/><circle cx="184.0" cy="92.1" r="0.4" fill="#f4d8e0" opacity="0.80"/><circle cx="178.6" cy="88.3" r="0.7" fill="#f4d8e0" opacity="0.79"/><circle cx="181.6" cy="41.9" r="0.8" fill="#f4d8e0" opacity="0.48"/><circle cx="174.2" cy="78.7" r="0.9" fill="#f4d8e0" opacity="0.86"/><circle cx="185.8" cy="40.3" r="0.6" fill="#f4d8e0" opacity="0.52"/><circle cx="184.3" cy="92.7" r="0.5" fill="#f4d8e0" opacity="0.77"/><circle cx="172.8" cy="83.3" r="0.6" fill="#f4d8e0" opacity="0.53"/><circle cx="171.4" cy="61.3" r="0.5" fill="#f4d8e0" opacity="0.61"/><circle cx="175.0" cy="69.8" r="0.7" fill="#f4d8e0" opacity="0.84"/><circle cx="170.6" cy="85.0" r="0.6" fill="#f4d8e0" opacity="0.52"/><circle cx="173.4" cy="62.3" r="0.6" fill="#f4d8e0" opacity="0.65"/><circle cx="179.0" cy="27.9" r="0.9" fill="#f4d8e0" opacity="0.73"/><circle cx="170.7" cy="36.4" r="1.0" fill="#f4d8e0" opacity="0.59"/><circle cx="181.9" cy="40.6" r="0.8" fill="#f4d8e0" opacity="0.83"/><circle cx="182.5" cy="57.6" r="0.8" fill="#f4d8e0" opacity="0.67"/><circle cx="179.2" cy="40.2" r="0.6" fill="#f4d8e0" opacity="0.70"/><ellipse cx="49.5" cy="62.9" rx="4" ry="3.2" fill="#d8ccb8" opacity="0.8"/><ellipse cx="66.7" cy="60.1" rx="4" ry="3.2" fill="#d8ccb8" opacity="0.8"/><ellipse cx="40.9" cy="70.1" rx="3.5" ry="2.8000000000000003" fill="#d8ccb8" opacity="0.8"/><ellipse cx="86.0" cy="71.5" rx="4" ry="3.2" fill="#d8ccb8" opacity="0.8"/><ellipse cx="96.8" cy="67.2" rx="3.5" ry="2.8000000000000003" fill="#d8ccb8" opacity="0.8"/><ellipse cx="118.3" cy="80.1" rx="3" ry="2.4000000000000004" fill="#d8ccb8" opacity="0.8"/><ellipse cx="10.8" cy="47.2" rx="4" ry="3.2" fill="#d8ccb8" opacity="0.8"/><ellipse cx="77.4" cy="78.7" rx="3" ry="2.4000000000000004" fill="#d8ccb8" opacity="0.8"/><path d="M8.6,88.66 L68.8,82.94 L70.95,88.66 L10.75,97.24000000000001 Z" fill="#6f9a9a" opacity="0.55"/><path d="M12.9,100.1 L118.25000000000001,85.8 L129.0,94.38000000000001 L21.5,114.4 Z" fill="#5a4030" opacity="0.8"/><ellipse cx="64.5" cy="108.7" rx="9" ry="2" fill="#b9a17e" opacity="0.7"/><ellipse cx="47.3" cy="120.1" rx="9" ry="2" fill="#b9a17e" opacity="0.7"/><ellipse cx="30.1" cy="131.6" rx="10" ry="2.2" fill="#b9a17e" opacity="0.7"/><ellipse cx="90.3" cy="100.1" rx="8" ry="1.6" fill="#b9a17e" opacity="0.7"/><ellipse cx="146.2" cy="128.7" rx="13" ry="4" fill="#b9a17e" opacity="0.7"/><ellipse cx="180.6" cy="117.3" rx="7" ry="2.5" fill="#b9a17e" opacity="0.7"/><ellipse cx="111.8" cy="95.8" rx="6" ry="1.5" fill="#b9a17e" opacity="0.7"/><ellipse cx="77.4" cy="104.4" rx="7" ry="1.6" fill="#b9a17e" opacity="0.7"/><circle cx="129.0" cy="91.9" r="1.1" fill="#e8dcc8" opacity="0.61"/><circle cx="114.2" cy="110.6" r="0.9" fill="#e8dcc8" opacity="0.31"/><circle cx="80.3" cy="134.4" r="1.1" fill="#e8dcc8" opacity="0.39"/><circle cx="85.4" cy="110.9" r="1.0" fill="#e8dcc8" opacity="0.43"/><circle cx="101.4" cy="98.6" r="1.1" fill="#e8dcc8" opacity="0.69"/><circle cx="97.6" cy="118.5" r="1.2" fill="#e8dcc8" opacity="0.63"/><circle cx="165.3" cy="92.4" r="1.0" fill="#e8dcc8" opacity="0.64"/><circle cx="78.8" cy="130.5" r="0.9" fill="#e8dcc8" opacity="0.40"/><circle cx="119.3" cy="104.8" r="1.0" fill="#e8dcc8" opacity="0.48"/><circle cx="161.3" cy="93.2" r="1.0" fill="#e8dcc8" opacity="0.43"/><circle cx="52.0" cy="109.9" r="1.2" fill="#e8dcc8" opacity="0.77"/><circle cx="20.0" cy="120.1" r="0.9" fill="#e8dcc8" opacity="0.35"/><circle cx="105.3" cy="130.9" r="0.6" fill="#e8dcc8" opacity="0.47"/><circle cx="25.8" cy="122.9" r="1.2" fill="#e8dcc8" opacity="0.76"/><circle cx="70.9" cy="120.2" r="0.8" fill="#e8dcc8" opacity="0.51"/><circle cx="113.7" cy="98.5" r="0.5" fill="#e8dcc8" opacity="0.57"/><circle cx="63.4" cy="109.3" r="0.7" fill="#e8dcc8" opacity="0.51"/><circle cx="44.8" cy="109.2" r="1.2" fill="#e8dcc8" opacity="0.54"/><circle cx="157.5" cy="94.1" r="0.7" fill="#e8dcc8" opacity="0.57"/><circle cx="68.7" cy="105.1" r="0.6" fill="#e8dcc8" opacity="0.78"/><circle cx="128.3" cy="89.7" r="1.0" fill="#e8dcc8" opacity="0.51"/><circle cx="55.8" cy="136.6" r="1.0" fill="#e8dcc8" opacity="0.76"/><circle cx="120.8" cy="131.0" r="0.6" fill="#e8dcc8" opacity="0.36"/><circle cx="123.9" cy="114.0" r="1.3" fill="#e8dcc8" opacity="0.78"/><circle cx="82.4" cy="115.9" r="0.6" fill="#e8dcc8" opacity="0.42"/><circle cx="34.6" cy="120.2" r="0.7" fill="#e8dcc8" opacity="0.49"/><circle cx="157.8" cy="124.3" r="0.5" fill="#e8dcc8" opacity="0.38"/><circle cx="33.7" cy="94.4" r="0.6" fill="#e8dcc8" opacity="0.74"/><circle cx="129.1" cy="115.8" r="0.6" fill="#e8dcc8" opacity="0.47"/><circle cx="40.3" cy="137.7" r="0.7" fill="#e8dcc8" opacity="0.32"/><circle cx="124.4" cy="108.3" r="0.6" fill="#e8dcc8" opacity="0.58"/><circle cx="168.1" cy="103.4" r="0.8" fill="#e8dcc8" opacity="0.76"/><circle cx="133.9" cy="129.6" r="1.2" fill="#e8dcc8" opacity="0.39"/><circle cx="90.5" cy="102.0" r="0.8" fill="#e8dcc8" opacity="0.69"/><circle cx="165.2" cy="108.0" r="0.6" fill="#e8dcc8" opacity="0.53"/><circle cx="39.9" cy="89.0" r="0.8" fill="#e8dcc8" opacity="0.77"/><circle cx="167.8" cy="129.0" r="0.7" fill="#e8dcc8" opacity="0.72"/><circle cx="93.8" cy="114.7" r="0.7" fill="#e8dcc8" opacity="0.39"/><circle cx="94.1" cy="132.1" r="1.0" fill="#e8dcc8" opacity="0.43"/><circle cx="49.8" cy="121.5" r="1.2" fill="#e8dcc8" opacity="0.77"/><circle cx="46.9" cy="89.1" r="0.9" fill="#e8dcc8" opacity="0.42"/><circle cx="50.0" cy="108.1" r="1.2" fill="#e8dcc8" opacity="0.54"/><circle cx="42.7" cy="89.9" r="0.7" fill="#e8dcc8" opacity="0.60"/><circle cx="50.7" cy="90.6" r="0.9" fill="#e8dcc8" opacity="0.56"/><circle cx="168.6" cy="129.7" r="1.1" fill="#e8dcc8" opacity="0.69"/><circle cx="80.5" cy="98.3" r="1.3" fill="#e8dcc8" opacity="0.76"/><circle cx="136.8" cy="92.3" r="0.7" fill="#e8dcc8" opacity="0.53"/><circle cx="101.2" cy="100.0" r="1.1" fill="#e8dcc8" opacity="0.38"/><circle cx="57.1" cy="121.9" r="0.5" fill="#e8dcc8" opacity="0.49"/><circle cx="102.5" cy="137.1" r="0.6" fill="#e8dcc8" opacity="0.76"/></svg><div style="position:absolute;left:240px;top:254px;font-size:10.4px;font-weight:700;color:#0f2a55;width:106px;text-align:center;line-height:12.6px;letter-spacing:0.2px;white-space:nowrap;">RON BLAAUW:<br>HET IS IN DE<br>HORECA KERST<br>VAN 1 NOVEMBER<br>TOT EN MET<br>15 JANUARI</div><div style="position:absolute;left:345px;top:252px;font-size:5.6px;font-weight:700;color:#1a2a48;width:114px;line-height:7px;text-align:justify;">‘Wil je echt kunnen profiteren van de festive periode, dan moet je zorgen voor een uitbundig aangeklede zaak waar je gasten ook echt kunnen vieren. Er zijn zoveel bedrijven die niet meer dagelijks met de collega’s samenwerken en dat merk je echt. Wij hebben in onze zaken in die maanden iedere dag wel een kerstdiner! En totdat we eerlijk zijn, januari, februari en maart zijn niet sterk dus alles wat je kan doen in festive is echt nodig!’</div><div style="position:absolute;left:250px;top:354px;width:212px;height:0.8px;background:#6b7488;"></div><svg style="position:absolute;left:244px;top:362px" width="216" height="86" viewBox="0 0 216 86"><defs><linearGradient id="ol" x1="0" y1="0" x2="1" y2="0.3"><stop offset="0" stop-color="#857b5c"/><stop offset="0.55" stop-color="#978d6e"/><stop offset="1" stop-color="#a69d80"/></linearGradient></defs><rect width="216" height="86" fill="url(#ol)"/><circle cx="110" cy="42" r="37" fill="none" stroke="#ddd6c2" stroke-width="1.4" opacity="0.85"/><circle cx="110" cy="42" r="23" fill="none" stroke="#f1ece0" stroke-width="2"/><path d="M94,47 C92,38 104,32 116,33 C126,34 130,38 129,44 C128,50 118,52 108,52 C100,52 95,51 94,47 Z" fill="#f6f3ea"/><g stroke="#978d6e" stroke-width="1.3"><line x1="103" y1="34" x2="101" y2="41"/><line x1="110" y1="33" x2="108" y2="40"/><line x1="117" y1="33" x2="115" y2="40"/><line x1="123" y1="35" x2="121" y2="41"/></g></svg><div style="position:absolute;left:244px;top:457px;font-size:11.3px;font-weight:700;color:#0f2a55;width:216px;text-align:center;white-space:nowrap;letter-spacing:0.4px;">BROOD, BOTER, KAAS &amp; MELK</div><div style="position:absolute;left:247px;top:474px;width:220px;height:326px;column-count:2;column-gap:5px;column-fill:auto;font-size:6.25px;line-height:7.75px;font-weight:700;color:#16244a;text-align:justify;overflow:hidden"><style>#cour p{margin:0 0 7.7px 0}</style><p>Ik heb het met horeca ondernemers vaak over een fictieve, maar dat vertel ik ze pas aan het einde van het verhaal: Zaak die al een tijdje niet meer bestaat. Het was een ongelooflijke hit. Er stonden rijen voor de deur, je ging erin en eruit en de kwaliteit was top. De naam van de zaak was direct de menukaart, het was een one-trick-pony avant la lettre. Maar, er ging iets helemaal mis.</p><p>Bij Brood, boter, kaas &amp; melk at je een broodje kaas met of zonder een glas melk. Maar bijna niemand koos voor zonder. Brood kwam van de bakker even verderop, melk, kaas en boter van een boerderij een dorp verder. De twee leveranciers leverden dagelijks en kregen twee keer per maand betaald. Over geld of inkoopprijzen was nooit discussie. Er werd betaald wat het kostte. Administratie was een fluitje van een cent en waste of THT kwesties waren niet aan de orde.</p><p>Nieuwe medewerkers werden in gemiddeld drie minuten ingewerkt, dan wist je alles! En de ultrakorte mise en place lijst in de keuken was iedere dag hetzelfde. De openingstijden, van 08.00 tot 15.00 waren ideaal, mensen werkten er graag en gasten hadden de tijd van hun leven. Ze kregen brood met kaas, een glas melk en gastvrijheid van de bovenste plank.</p><p>Op een dag kwam een vaste gast met een beetje gekke vraag. Van de dokter mocht hij geen melkproducten meer. Dat was natuurlijk een probleem op deze plek en speciaal voor meneer De Vries was er voortaan ook sinaasappelsap om te drinken en rosbief voor op brood. Heel even was iedereen blij, maar al gauw kwamen er meer vragen.</p><p>Er was ineens heel veel vraag naar koffie, dus die kwam erbij. En dan dus ook cappuccino en thee en de rest. En op brood kon je voortaan ook kiezen voor filet americain én voor de veganistische variant. O ja, voortaan was er keuze uit drie soorten brood en vier soorten kaas.</p><p>Toen er ook frisdranken, bieren en wijnen werden toegevoegd, moest er worden verbouwd want de twee koelingen waren jarenlang alleen maar gebruikt voor melk en nu was er ruimte nodig. Ook moest er een kassa komen, een biertap en een kast voor alle soorten glazen, schotels en kopjes. De boekhouding moest worden uitbesteed en steeds vaker moest producten die over datum gingen worden weggegooid.</p><p>Nieuwe medewerkers moesten voortaan een paar weken meedraaien voor ze wisten wat er allemaal te koop was en hoe dat moest worden geserveerd en gasten vonden het steeds moeilijker om een keuze te maken: ‘Waarom hebben jullie geen salades en warme gerechten?’ Dat was een goeie! Dat gingen we doen.</p><p>Twee maanden voordat de lunchdeli best rustige zaak failliet ging, vroeg de nieuwe medewerker aan de barman waar die rare naam vandaan kwam. ‘Ja, dat is iets van vroeger, dat was alles wat we hadden.’ En op de vraag of dat nou leuk was, antwoordde de barman: ‘Leuk? Man, het was geweldig. Er stond iedere dag een rij!’</p></div><div style="position:absolute;left:468px;top:101px;font-size:11px;font-weight:700;color:#0f2a55;width:110px;text-align:center;letter-spacing:0.3px;">PARTNERS</div><div style="position:absolute;left:468px;top:122px;font-size:6.1px;font-weight:700;color:#1a2a48;width:110px;line-height:7.3px;text-align:justify;">Al vele jaren werkt Wouter met een groep trouwe partnerbedrijven die de logische keuze zijn voor een modern horecabedrijf. Zij zijn bij bijna alle initiatieven betrokken en waren ook vandaag zichtbaar en onzichtbaar van de partij. Partners zijn in er in twee smaken: Vrienden van de Show en bedrijven waar Wouter een nóg intensievere samenwerking mee is aangegaan. Hij is ambassadeur van deze bedrijven!</div><div style="position:absolute;left:463px;top:225.5px;font-size:10.8px;color:#2a3a5c;width:120px;text-align:center;line-height:12.8px;">VRIENDEN<br>VAN DE SHOW:</div><div style="position:absolute;left:458px;top:251px;font-size:10.9px;font-weight:700;color:#0f2a55;width:130px;text-align:center;line-height:13.1px;white-space:nowrap;letter-spacing:0.2px;">EYES FOR<br>DETAILS,<br>BOONSTRA<br>WIJNEN,<br>SMIT’S<br>DELICIOUS,<br>UPPERBLOOM,<br>MOËT HENNESSY,<br>SIT &amp; HEAT,<br>INDUTCH<br>EVENTS,<br>CHRIS TYLER,<br>PLAN BOUTIQUE,<br>DE RON<br>GASTROBAR<br>GROEP,<br>10 THINGS,<br>THEATER<br>DE SPEELDOOS<br>EN SELATI.</div><div style="position:absolute;left:463px;top:527.5px;font-size:10.8px;color:#2a3a5c;width:120px;text-align:center;line-height:11.2px;">WOUTER<br>IS BRAND-<br>AMBASSADOR<br>VAN:</div><div style="position:absolute;left:458px;top:573px;font-size:10.9px;font-weight:700;color:#0f2a55;width:130px;text-align:center;line-height:12.5px;white-space:nowrap;letter-spacing:0.2px;">SVH,<br>UNITOUCH,<br>YOURDRINKS,<br>THE BRANDING<br>CLUB,<br>BIDFOOD,<br>CHOCOMEL,<br>NOBELS DRINKS<br>&amp; JAM!</div><div style="position:absolute;left:470px;top:697px;width:104px;height:0.8px;background:#6b7488;"></div><div style="position:absolute;left:468px;top:703px;font-size:5.6px;font-weight:700;color:#1a2a48;width:110px;text-align:center;line-height:6.4px;">Columns<br>wouterverkerk.nl<br><br>Adviesbureau<br>verkerkbartmeal.nl<br><br>Website<br>horeca.nl<br><br>Horecabegeleiding<br>planboutique.nl<br><br>Instagram, TikTok,<br>LinkedIn, Facebook<br>Wouter Verkerk</div><div style="position:absolute;left:22px;top:800px;font-size:12px;color:#3d62a8;font-family:'Liberation Serif',serif;font-style:italic;white-space:nowrap;letter-spacing:-0.5px;">Wouter Verkerk</div><div style="position:absolute;left:0px;top:0px;width:591px;height:834px;background:linear-gradient(90deg, rgba(0,0,0,0) 80%, rgba(30,40,60,0.05) 100%);"></div></div>

</body></html>
